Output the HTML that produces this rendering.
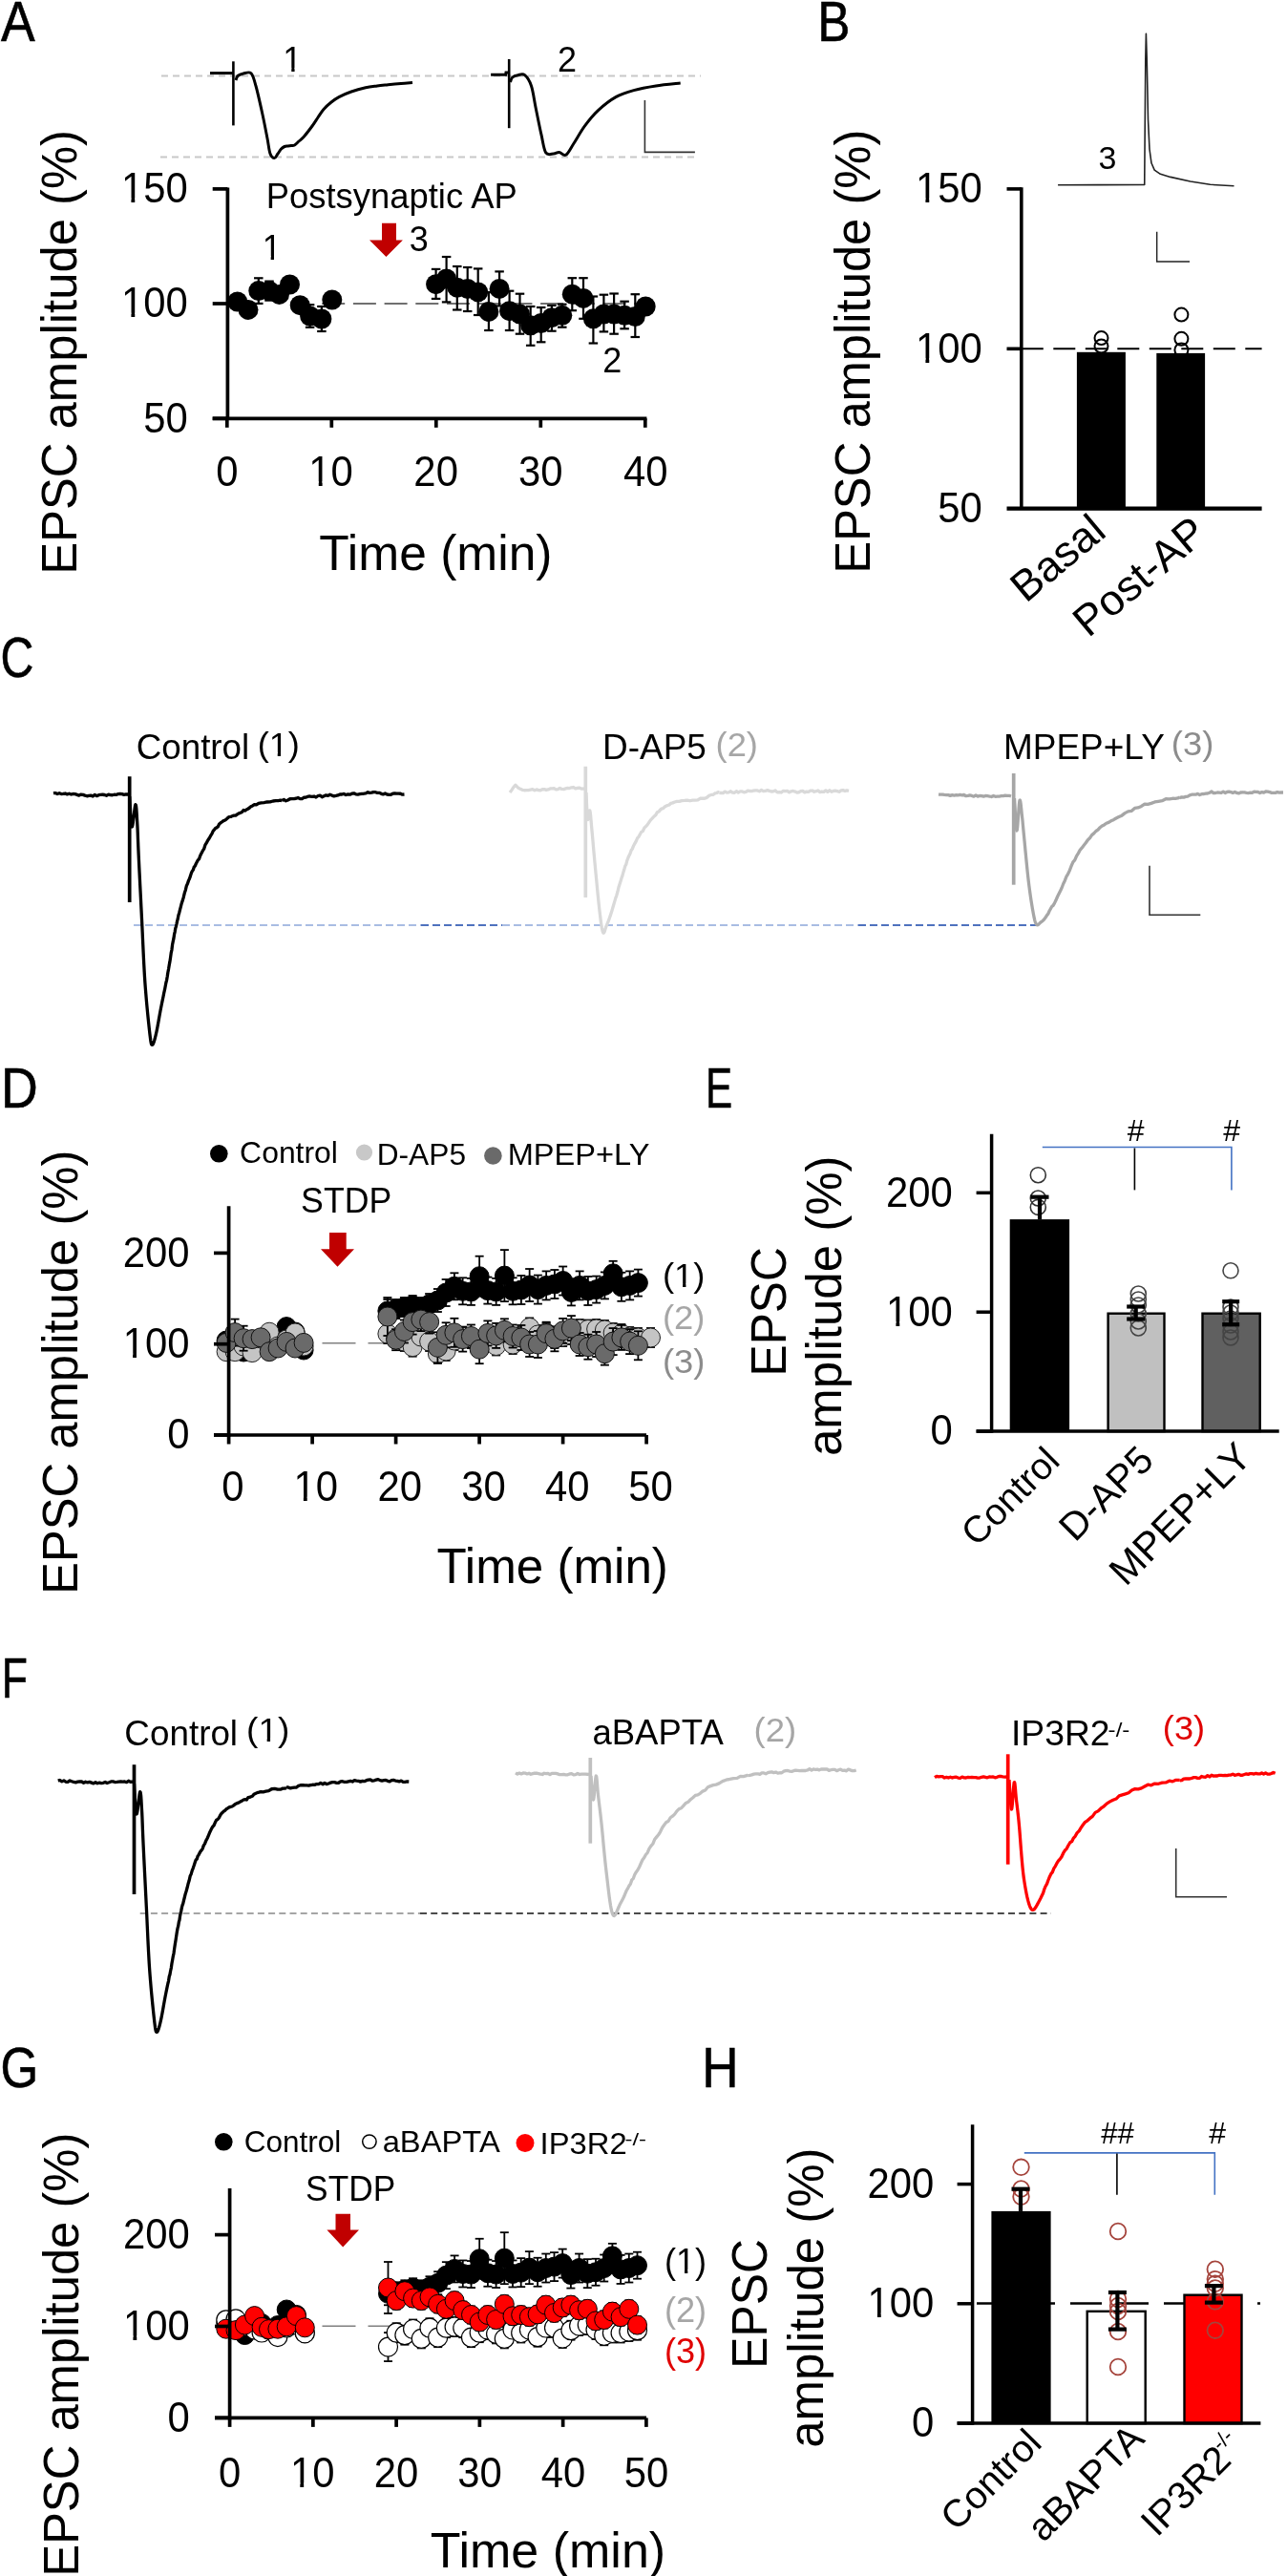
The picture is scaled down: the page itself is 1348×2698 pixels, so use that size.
<!DOCTYPE html>
<html><head><meta charset="utf-8"><style>
html,body{margin:0;padding:0;background:#fff;}
svg{display:block;will-change:transform;}
text{font-family:"Liberation Sans",sans-serif;}
</style></head><body>
<svg width="1348" height="2698" viewBox="0 0 1348 2698">
<rect width="1348" height="2698" fill="#fff"/>
<g transform="translate(1.2 42.7)"><text x="-0.27" y="0" font-size="59.7" fill="#000" textLength="35.68" lengthAdjust="spacingAndGlyphs" stroke="#000" stroke-width="0.6">A</text></g>
<line x1="169" y1="79.4" x2="734" y2="79.4" stroke="#c8c8c8" stroke-width="2" stroke-dasharray="7 5"/>
<line x1="168" y1="164.5" x2="732" y2="164.5" stroke="#c8c8c8" stroke-width="2" stroke-dasharray="7 5"/>
<path d="M220 76.6 L244.4 76.6" fill="none" stroke="#000" stroke-width="3"/>
<line x1="244.4" y1="64.3" x2="244.4" y2="131.4" stroke="#000" stroke-width="2.6"/>
<path d="M247 84 C247.33 83.25 247.67 80.67 249 79.5 C250.33 78.33 252.67 77.45 255 77 C257.33 76.55 260.83 74.63 263 76.8 C265.17 78.97 266 82.8 268 90 C270 97.2 273 110.83 275 120 C277 129.17 278.67 138.17 280 145 C281.33 151.83 281.75 157.58 283 161 C284.25 164.42 286.17 165.5 287.5 165.5 C288.83 165.5 289.83 162.58 291 161 C292.17 159.42 293.33 157.25 294.5 156 C295.67 154.75 296.83 154 298 153.5 C299.17 153 300.33 153.17 301.5 153 C302.67 152.83 303.83 152.67 305 152.5 C306.17 152.33 307.17 152.75 308.5 152 C309.83 151.25 311.42 149.42 313 148 C314.58 146.58 315.67 146.17 318 143.5 C320.33 140.83 324.5 135.42 327 132 C329.5 128.58 331 125.93 333 123 C335 120.07 336.67 117.07 339 114.4 C341.33 111.73 344.33 109.13 347 107 C349.67 104.87 351.5 103.43 355 101.6 C358.5 99.77 363.33 97.63 368 96 C372.67 94.37 378.5 92.8 383 91.8 C387.5 90.8 391.1 90.5 395 90 C398.9 89.5 402.23 89.22 406.4 88.8 C410.57 88.38 415.73 87.9 420 87.5 C424.27 87.1 430 86.58 432 86.4" fill="none" stroke="#000" stroke-width="3" stroke-linejoin="round"/>
<path d="M514.1 78.3 L529.7 78.3 L530 76 L533 76" fill="none" stroke="#000" stroke-width="3"/>
<line x1="533.2" y1="62" x2="533.2" y2="134.2" stroke="#000" stroke-width="2.6"/>
<path d="M534.5 86 C534.87 85.17 535.35 82.22 536.7 81 C538.05 79.78 540.45 79.08 542.6 78.7 C544.75 78.32 547.28 76.82 549.6 78.7 C551.92 80.58 554.57 84.25 556.5 90 C558.43 95.75 559.45 104.67 561.2 113.2 C562.95 121.73 565.25 133.42 567 141.2 C568.75 148.98 569.55 156.6 571.7 159.9 C573.85 163.2 577.57 161.08 579.9 161 C582.23 160.92 583.57 159.2 585.7 159.4 C587.83 159.6 590.18 163.68 592.7 162.2 C595.22 160.72 597.5 155.55 600.8 150.5 C604.1 145.45 608.22 137.72 612.5 131.9 C616.78 126.08 621.08 120.65 626.5 115.6 C631.92 110.55 638.78 105.1 645 101.6 C651.22 98.1 656.8 96.53 663.8 94.6 C670.8 92.67 678.85 91.25 687 90 C695.15 88.75 708.42 87.58 712.7 87.1" fill="none" stroke="#000" stroke-width="3" stroke-linejoin="round"/>
<path d="M675.4 105 V159.4 H727.9" fill="none" stroke="#333" stroke-width="1.6"/>
<g transform="translate(299 75)"><text x="-2.7" y="0" font-size="36" fill="#000">1</text><rect x="-0.9" y="-3.9" width="7.16" height="5.1" fill="#fff"/><rect x="9.58" y="-3.9" width="6.8" height="5.1" fill="#fff"/></g>
<g transform="translate(585.7 74.8)"><text x="-1.8" y="0" font-size="36" fill="#000">2</text></g>
<line x1="238.4" y1="196.6" x2="238.4" y2="439.9" stroke="#000" stroke-width="3.7"/>
<line x1="222.7" y1="197.9" x2="238.4" y2="197.9" stroke="#000" stroke-width="3.7"/>
<line x1="222.7" y1="318" x2="238.4" y2="318" stroke="#000" stroke-width="3.7"/>
<line x1="222.7" y1="438.3" x2="238.4" y2="438.3" stroke="#000" stroke-width="3.7"/>
<line x1="222.7" y1="438.3" x2="677.4" y2="438.3" stroke="#000" stroke-width="3.7"/>
<line x1="237.8" y1="438.3" x2="237.8" y2="447.8" stroke="#000" stroke-width="3.7"/>
<line x1="347.3" y1="438.3" x2="347.3" y2="447.8" stroke="#000" stroke-width="3.7"/>
<line x1="456.8" y1="438.3" x2="456.8" y2="447.8" stroke="#000" stroke-width="3.7"/>
<line x1="566.3" y1="438.3" x2="566.3" y2="447.8" stroke="#000" stroke-width="3.7"/>
<line x1="675.8" y1="438.3" x2="675.8" y2="447.8" stroke="#000" stroke-width="3.7"/>
<g transform="translate(195 212.21)"><text x="-68.01" y="0" font-size="45" fill="#000" textLength="69.83" lengthAdjust="spacingAndGlyphs">150</text><rect x="-65.91" y="-4.58" width="8.33" height="5.78" fill="#fff"/><rect x="-53.74" y="-4.58" width="7.91" height="5.78" fill="#fff"/></g>
<g transform="translate(195 332.31)"><text x="-68.01" y="0" font-size="45" fill="#000" textLength="69.83" lengthAdjust="spacingAndGlyphs">100</text><rect x="-65.91" y="-4.58" width="8.33" height="5.78" fill="#fff"/><rect x="-53.74" y="-4.58" width="7.91" height="5.78" fill="#fff"/></g>
<g transform="translate(195 452.61)"><text x="-44.78" y="0" font-size="45" fill="#000" textLength="46.55" lengthAdjust="spacingAndGlyphs">50</text></g>
<g transform="translate(237.8 508.7)"><text x="-11.61" y="0" font-size="45" fill="#000" textLength="23.28" lengthAdjust="spacingAndGlyphs">0</text></g>
<g transform="translate(347.3 508.7)"><text x="-23.96" y="0" font-size="45" fill="#000" textLength="46.55" lengthAdjust="spacingAndGlyphs">10</text><rect x="-21.87" y="-4.58" width="8.33" height="5.78" fill="#fff"/><rect x="-9.69" y="-4.58" width="7.91" height="5.78" fill="#fff"/></g>
<g transform="translate(456.8 508.7)"><text x="-23.44" y="0" font-size="45" fill="#000" textLength="46.55" lengthAdjust="spacingAndGlyphs">20</text></g>
<g transform="translate(566.3 508.7)"><text x="-23.23" y="0" font-size="45" fill="#000" textLength="46.55" lengthAdjust="spacingAndGlyphs">30</text></g>
<g transform="translate(675.8 508.7)"><text x="-22.91" y="0" font-size="45" fill="#000" textLength="46.55" lengthAdjust="spacingAndGlyphs">40</text></g>
<g transform="translate(335.6 596.7)"><text x="-1.29" y="0" font-size="51.5" fill="#000">Time (min)</text></g>
<g transform="translate(80.4 597.8) rotate(-90)"><text x="-4.06" y="0" font-size="52" fill="#000" textLength="465.88" lengthAdjust="spacingAndGlyphs">EPSC amplitude (%)</text></g>
<g transform="translate(281.7 217.8)"><text x="-2.91" y="0" font-size="37" fill="#000" textLength="262.98" lengthAdjust="spacingAndGlyphs">Postsynaptic AP</text></g>
<g transform="translate(277.4 272)"><text x="-2.7" y="0" font-size="36" fill="#000">1</text><rect x="-0.9" y="-3.9" width="7.16" height="5.1" fill="#fff"/><rect x="9.58" y="-3.9" width="6.8" height="5.1" fill="#fff"/></g>
<g transform="translate(430.3 262.7)"><text x="-1.44" y="0" font-size="36" fill="#000">3</text></g>
<g transform="translate(633 389.8)"><text x="-1.8" y="0" font-size="36" fill="#000">2</text></g>
<path d="M400 233.8 L415 233.8 L415 251.4 L421.9 251.4 L404.45 269 L387 251.4 L400 251.4Z" fill="#c00000"/>
<line x1="337.2" y1="318" x2="677" y2="318" stroke="#707070" stroke-width="1.8" stroke-dasharray="24 8.7"/>
<line x1="270.8" y1="291.3" x2="270.8" y2="304.6" stroke="#000" stroke-width="2.2"/><line x1="266.05" y1="291.3" x2="275.55" y2="291.3" stroke="#000" stroke-width="2.2"/><line x1="270.8" y1="304.6" x2="270.8" y2="317.9" stroke="#000" stroke-width="2.2"/><line x1="266.05" y1="317.9" x2="275.55" y2="317.9" stroke="#000" stroke-width="2.2"/>
<line x1="282" y1="294.6" x2="282" y2="304.6" stroke="#000" stroke-width="2.2"/><line x1="277.25" y1="294.6" x2="286.75" y2="294.6" stroke="#000" stroke-width="2.2"/><line x1="282" y1="304.6" x2="282" y2="314.6" stroke="#000" stroke-width="2.2"/><line x1="277.25" y1="314.6" x2="286.75" y2="314.6" stroke="#000" stroke-width="2.2"/>
<line x1="324.6" y1="319.2" x2="324.6" y2="331" stroke="#000" stroke-width="2.2"/><line x1="319.85" y1="319.2" x2="329.35" y2="319.2" stroke="#000" stroke-width="2.2"/><line x1="324.6" y1="331" x2="324.6" y2="342.8" stroke="#000" stroke-width="2.2"/><line x1="319.85" y1="342.8" x2="329.35" y2="342.8" stroke="#000" stroke-width="2.2"/>
<line x1="336.9" y1="321" x2="336.9" y2="334" stroke="#000" stroke-width="2.2"/><line x1="332.15" y1="321" x2="341.65" y2="321" stroke="#000" stroke-width="2.2"/><line x1="336.9" y1="334" x2="336.9" y2="347" stroke="#000" stroke-width="2.2"/><line x1="332.15" y1="347" x2="341.65" y2="347" stroke="#000" stroke-width="2.2"/>
<line x1="456.6" y1="281.9" x2="456.6" y2="297.7" stroke="#000" stroke-width="2.2"/><line x1="451.85" y1="281.9" x2="461.35" y2="281.9" stroke="#000" stroke-width="2.2"/><line x1="456.6" y1="297.7" x2="456.6" y2="312.9" stroke="#000" stroke-width="2.2"/><line x1="451.85" y1="312.9" x2="461.35" y2="312.9" stroke="#000" stroke-width="2.2"/>
<line x1="467.6" y1="269" x2="467.6" y2="291.9" stroke="#000" stroke-width="2.2"/><line x1="462.85" y1="269" x2="472.35" y2="269" stroke="#000" stroke-width="2.2"/><line x1="467.6" y1="291.9" x2="467.6" y2="316.4" stroke="#000" stroke-width="2.2"/><line x1="462.85" y1="316.4" x2="472.35" y2="316.4" stroke="#000" stroke-width="2.2"/>
<line x1="478.8" y1="279" x2="478.8" y2="301.2" stroke="#000" stroke-width="2.2"/><line x1="474.05" y1="279" x2="483.55" y2="279" stroke="#000" stroke-width="2.2"/><line x1="478.8" y1="301.2" x2="478.8" y2="324.5" stroke="#000" stroke-width="2.2"/><line x1="474.05" y1="324.5" x2="483.55" y2="324.5" stroke="#000" stroke-width="2.2"/>
<line x1="489.7" y1="280" x2="489.7" y2="302.4" stroke="#000" stroke-width="2.2"/><line x1="484.95" y1="280" x2="494.45" y2="280" stroke="#000" stroke-width="2.2"/><line x1="489.7" y1="302.4" x2="489.7" y2="326" stroke="#000" stroke-width="2.2"/><line x1="484.95" y1="326" x2="494.45" y2="326" stroke="#000" stroke-width="2.2"/>
<line x1="500.7" y1="281.4" x2="500.7" y2="305.9" stroke="#000" stroke-width="2.2"/><line x1="495.95" y1="281.4" x2="505.45" y2="281.4" stroke="#000" stroke-width="2.2"/><line x1="500.7" y1="305.9" x2="500.7" y2="330" stroke="#000" stroke-width="2.2"/><line x1="495.95" y1="330" x2="505.45" y2="330" stroke="#000" stroke-width="2.2"/>
<line x1="511.9" y1="306" x2="511.9" y2="326.4" stroke="#000" stroke-width="2.2"/><line x1="507.15" y1="306" x2="516.65" y2="306" stroke="#000" stroke-width="2.2"/><line x1="511.9" y1="326.4" x2="511.9" y2="346" stroke="#000" stroke-width="2.2"/><line x1="507.15" y1="346" x2="516.65" y2="346" stroke="#000" stroke-width="2.2"/>
<line x1="523.1" y1="284.4" x2="523.1" y2="302.4" stroke="#000" stroke-width="2.2"/><line x1="518.35" y1="284.4" x2="527.85" y2="284.4" stroke="#000" stroke-width="2.2"/><line x1="523.1" y1="302.4" x2="523.1" y2="320.4" stroke="#000" stroke-width="2.2"/><line x1="518.35" y1="320.4" x2="527.85" y2="320.4" stroke="#000" stroke-width="2.2"/>
<line x1="533.6" y1="304.7" x2="533.6" y2="325.7" stroke="#000" stroke-width="2.2"/><line x1="528.85" y1="304.7" x2="538.35" y2="304.7" stroke="#000" stroke-width="2.2"/><line x1="533.6" y1="325.7" x2="533.6" y2="346" stroke="#000" stroke-width="2.2"/><line x1="528.85" y1="346" x2="538.35" y2="346" stroke="#000" stroke-width="2.2"/>
<line x1="544.5" y1="307.7" x2="544.5" y2="329" stroke="#000" stroke-width="2.2"/><line x1="539.75" y1="307.7" x2="549.25" y2="307.7" stroke="#000" stroke-width="2.2"/><line x1="544.5" y1="329" x2="544.5" y2="349.7" stroke="#000" stroke-width="2.2"/><line x1="539.75" y1="349.7" x2="549.25" y2="349.7" stroke="#000" stroke-width="2.2"/>
<line x1="555.7" y1="321" x2="555.7" y2="340.8" stroke="#000" stroke-width="2.2"/><line x1="550.95" y1="321" x2="560.45" y2="321" stroke="#000" stroke-width="2.2"/><line x1="555.7" y1="340.8" x2="555.7" y2="361.8" stroke="#000" stroke-width="2.2"/><line x1="550.95" y1="361.8" x2="560.45" y2="361.8" stroke="#000" stroke-width="2.2"/>
<line x1="566.7" y1="322" x2="566.7" y2="338.5" stroke="#000" stroke-width="2.2"/><line x1="561.95" y1="322" x2="571.45" y2="322" stroke="#000" stroke-width="2.2"/><line x1="566.7" y1="338.5" x2="566.7" y2="358.3" stroke="#000" stroke-width="2.2"/><line x1="561.95" y1="358.3" x2="571.45" y2="358.3" stroke="#000" stroke-width="2.2"/>
<line x1="577.9" y1="319.9" x2="577.9" y2="332.7" stroke="#000" stroke-width="2.2"/><line x1="573.15" y1="319.9" x2="582.65" y2="319.9" stroke="#000" stroke-width="2.2"/><line x1="577.9" y1="332.7" x2="577.9" y2="346.7" stroke="#000" stroke-width="2.2"/><line x1="573.15" y1="346.7" x2="582.65" y2="346.7" stroke="#000" stroke-width="2.2"/>
<line x1="588.8" y1="318.7" x2="588.8" y2="330.3" stroke="#000" stroke-width="2.2"/><line x1="584.05" y1="318.7" x2="593.55" y2="318.7" stroke="#000" stroke-width="2.2"/><line x1="588.8" y1="330.3" x2="588.8" y2="342.7" stroke="#000" stroke-width="2.2"/><line x1="584.05" y1="342.7" x2="593.55" y2="342.7" stroke="#000" stroke-width="2.2"/>
<line x1="599.3" y1="291.2" x2="599.3" y2="308.2" stroke="#000" stroke-width="2.2"/><line x1="594.55" y1="291.2" x2="604.05" y2="291.2" stroke="#000" stroke-width="2.2"/><line x1="599.3" y1="308.2" x2="599.3" y2="325.2" stroke="#000" stroke-width="2.2"/><line x1="594.55" y1="325.2" x2="604.05" y2="325.2" stroke="#000" stroke-width="2.2"/>
<line x1="611" y1="291.2" x2="611" y2="312.4" stroke="#000" stroke-width="2.2"/><line x1="606.25" y1="291.2" x2="615.75" y2="291.2" stroke="#000" stroke-width="2.2"/><line x1="611" y1="312.4" x2="611" y2="333.8" stroke="#000" stroke-width="2.2"/><line x1="606.25" y1="333.8" x2="615.75" y2="333.8" stroke="#000" stroke-width="2.2"/>
<line x1="621.4" y1="310.5" x2="621.4" y2="333.8" stroke="#000" stroke-width="2.2"/><line x1="616.65" y1="310.5" x2="626.15" y2="310.5" stroke="#000" stroke-width="2.2"/><line x1="621.4" y1="333.8" x2="621.4" y2="359.5" stroke="#000" stroke-width="2.2"/><line x1="616.65" y1="359.5" x2="626.15" y2="359.5" stroke="#000" stroke-width="2.2"/>
<line x1="632.4" y1="308.7" x2="632.4" y2="329" stroke="#000" stroke-width="2.2"/><line x1="627.65" y1="308.7" x2="637.15" y2="308.7" stroke="#000" stroke-width="2.2"/><line x1="632.4" y1="329" x2="632.4" y2="347.4" stroke="#000" stroke-width="2.2"/><line x1="627.65" y1="347.4" x2="637.15" y2="347.4" stroke="#000" stroke-width="2.2"/>
<line x1="643.1" y1="307.5" x2="643.1" y2="329" stroke="#000" stroke-width="2.2"/><line x1="638.35" y1="307.5" x2="647.85" y2="307.5" stroke="#000" stroke-width="2.2"/><line x1="643.1" y1="329" x2="643.1" y2="349.7" stroke="#000" stroke-width="2.2"/><line x1="638.35" y1="349.7" x2="647.85" y2="349.7" stroke="#000" stroke-width="2.2"/>
<line x1="654.1" y1="315.7" x2="654.1" y2="330.3" stroke="#000" stroke-width="2.2"/><line x1="649.35" y1="315.7" x2="658.85" y2="315.7" stroke="#000" stroke-width="2.2"/><line x1="654.1" y1="330.3" x2="654.1" y2="344.3" stroke="#000" stroke-width="2.2"/><line x1="649.35" y1="344.3" x2="658.85" y2="344.3" stroke="#000" stroke-width="2.2"/>
<line x1="665.3" y1="308.2" x2="665.3" y2="331.5" stroke="#000" stroke-width="2.2"/><line x1="660.55" y1="308.2" x2="670.05" y2="308.2" stroke="#000" stroke-width="2.2"/><line x1="665.3" y1="331.5" x2="665.3" y2="353" stroke="#000" stroke-width="2.2"/><line x1="660.55" y1="353" x2="670.05" y2="353" stroke="#000" stroke-width="2.2"/>

<circle cx="248.7" cy="316" r="10.5" fill="#000"/>
<circle cx="260" cy="324.4" r="10.5" fill="#000"/>
<circle cx="270.8" cy="304.6" r="10.5" fill="#000"/>
<circle cx="282" cy="304.6" r="10.5" fill="#000"/>
<circle cx="292.5" cy="308.4" r="10.5" fill="#000"/>
<circle cx="303.5" cy="298" r="10.5" fill="#000"/>
<circle cx="314.2" cy="319.7" r="10.5" fill="#000"/>
<circle cx="324.6" cy="331" r="10.5" fill="#000"/>
<circle cx="336.9" cy="334" r="10.5" fill="#000"/>
<circle cx="347.8" cy="314" r="10.5" fill="#000"/>
<circle cx="456.6" cy="297.7" r="10.5" fill="#000"/>
<circle cx="467.6" cy="291.9" r="10.5" fill="#000"/>
<circle cx="478.8" cy="301.2" r="10.5" fill="#000"/>
<circle cx="489.7" cy="302.4" r="10.5" fill="#000"/>
<circle cx="500.7" cy="305.9" r="10.5" fill="#000"/>
<circle cx="511.9" cy="326.4" r="10.5" fill="#000"/>
<circle cx="523.1" cy="302.4" r="10.5" fill="#000"/>
<circle cx="533.6" cy="325.7" r="10.5" fill="#000"/>
<circle cx="544.5" cy="329" r="10.5" fill="#000"/>
<circle cx="555.7" cy="340.8" r="10.5" fill="#000"/>
<circle cx="566.7" cy="338.5" r="10.5" fill="#000"/>
<circle cx="577.9" cy="332.7" r="10.5" fill="#000"/>
<circle cx="588.8" cy="330.3" r="10.5" fill="#000"/>
<circle cx="599.3" cy="308.2" r="10.5" fill="#000"/>
<circle cx="611" cy="312.4" r="10.5" fill="#000"/>
<circle cx="621.4" cy="333.8" r="10.5" fill="#000"/>
<circle cx="632.4" cy="329" r="10.5" fill="#000"/>
<circle cx="643.1" cy="329" r="10.5" fill="#000"/>
<circle cx="654.1" cy="330.3" r="10.5" fill="#000"/>
<circle cx="665.3" cy="331.5" r="10.5" fill="#000"/>
<circle cx="676.2" cy="321" r="10.5" fill="#000"/>
<g transform="translate(860.4 42.7)"><text x="-4.1" y="0" font-size="59.7" fill="#000" textLength="34.16" lengthAdjust="spacingAndGlyphs" stroke="#000" stroke-width="0.6">B</text></g>
<path d="M1108.1 193.75 L1150 193.6 L1198.75 193.5 L1199.8 62.5 L1200.4 35.4 L1201.25 62.5 L1202.5 125 L1204 156.25 L1206 170.8 L1209.2 178.1 L1215.4 182.3 L1225.8 185.4 L1246.7 190 L1267.5 193.3 L1292.5 194.8" fill="none" stroke="#222" stroke-width="1.6" stroke-linejoin="round"/>
<g transform="translate(1151.9 177)"><text x="-1.36" y="0" font-size="34" fill="#000">3</text></g>
<path d="M1211.7 242.7 V274 H1246" fill="none" stroke="#222" stroke-width="1.4"/>
<rect x="1127.9" y="368.8" width="51" height="163.6" fill="#000"/>
<rect x="1211.3" y="369.9" width="50.8" height="162.5" fill="#000"/>
<line x1="1069.8" y1="365.3" x2="1321.6" y2="365.3" stroke="#000" stroke-width="2" stroke-dasharray="23 10.5" stroke-dashoffset="0"/>
<circle cx="1153.5" cy="354.1" r="7" fill="none" stroke="#000" stroke-width="2"/>
<circle cx="1153.5" cy="362.5" r="7" fill="none" stroke="#000" stroke-width="2"/>
<circle cx="1237.4" cy="329.6" r="7" fill="none" stroke="#000" stroke-width="2"/>
<circle cx="1237.4" cy="354.8" r="7" fill="none" stroke="#000" stroke-width="2"/>
<circle cx="1237.4" cy="366.4" r="7" fill="none" stroke="#000" stroke-width="2"/>
<line x1="1069.8" y1="196.2" x2="1069.8" y2="534" stroke="#000" stroke-width="3.6"/>
<line x1="1054.5" y1="197.9" x2="1069.8" y2="197.9" stroke="#000" stroke-width="3.6"/>
<line x1="1054.5" y1="365.3" x2="1069.8" y2="365.3" stroke="#000" stroke-width="3.6"/>
<line x1="1054.5" y1="532.6" x2="1321.6" y2="532.6" stroke="#000" stroke-width="4.2"/>
<g transform="translate(1027 212.21)"><text x="-68.01" y="0" font-size="45" fill="#000" textLength="69.83" lengthAdjust="spacingAndGlyphs">150</text><rect x="-65.91" y="-4.58" width="8.33" height="5.78" fill="#fff"/><rect x="-53.74" y="-4.58" width="7.91" height="5.78" fill="#fff"/></g>
<g transform="translate(1027 379.61)"><text x="-68.01" y="0" font-size="45" fill="#000" textLength="69.83" lengthAdjust="spacingAndGlyphs">100</text><rect x="-65.91" y="-4.58" width="8.33" height="5.78" fill="#fff"/><rect x="-53.74" y="-4.58" width="7.91" height="5.78" fill="#fff"/></g>
<g transform="translate(1027 546.71)"><text x="-44.78" y="0" font-size="45" fill="#000" textLength="46.55" lengthAdjust="spacingAndGlyphs">50</text></g>
<g transform="translate(911.2 596.8) rotate(-90)"><text x="-4.06" y="0" font-size="52" fill="#000" textLength="465.17" lengthAdjust="spacingAndGlyphs">EPSC amplitude (%)</text></g>
<g transform="translate(1077.2 630) rotate(-40)"><text x="-3.6" y="0" font-size="45" fill="#000">Basal</text></g>
<g transform="translate(1142.8 666.1) rotate(-40)"><text x="-3.6" y="0" font-size="45" fill="#000">Post-AP</text></g>
<g transform="translate(3 708.8)"><text x="-2.41" y="0" font-size="59.7" fill="#000" textLength="34.85" lengthAdjust="spacingAndGlyphs" stroke="#000" stroke-width="0.6">C</text></g>
<g transform="translate(144.5 795)"><text x="-1.84" y="0" font-size="36.5" fill="#000" textLength="118.57" lengthAdjust="spacingAndGlyphs">Control</text></g>
<g transform="translate(271.8 791.6)"><text x="-2.18" y="0" font-size="34.5" fill="#000" textLength="44.33" lengthAdjust="spacingAndGlyphs">(1)</text><rect x="11.72" y="-3.79" width="7.22" height="4.99" fill="#fff"/><rect x="22.27" y="-3.79" width="6.86" height="4.99" fill="#fff"/></g>
<g transform="translate(634 795)"><text x="-2.95" y="0" font-size="36.5" fill="#000" textLength="108.75" lengthAdjust="spacingAndGlyphs">D-AP5</text></g>
<g transform="translate(751.7 792.4)"><text x="-2.18" y="0" font-size="34.5" fill="#a6a6a6" textLength="44.45" lengthAdjust="spacingAndGlyphs">(2)</text></g>
<g transform="translate(1054 795)"><text x="-2.96" y="0" font-size="36.5" fill="#000" textLength="168.77" lengthAdjust="spacingAndGlyphs">MPEP+LY</text></g>
<g transform="translate(1229 790.7)"><text x="-2.18" y="0" font-size="34.5" fill="#8c8c8c" textLength="44.45" lengthAdjust="spacingAndGlyphs">(3)</text></g>
<line x1="140" y1="969" x2="441" y2="969" stroke="#a9bce3" stroke-width="1.8" stroke-dasharray="8 4"/>
<line x1="441" y1="969" x2="526" y2="969" stroke="#4f72be" stroke-width="1.8" stroke-dasharray="8 4"/>
<line x1="526" y1="969" x2="899" y2="969" stroke="#a9bce3" stroke-width="1.8" stroke-dasharray="8 4"/>
<line x1="899" y1="969" x2="1087" y2="969" stroke="#4f72be" stroke-width="1.8" stroke-dasharray="8 4"/>
<path d="M55.9 830.72 L57.97 830.56 L60.04 831.48 L62.11 830.68 L64.17 831.54 L66.24 831.39 L68.31 831.02 L70.38 831.86 L72.45 831.23 L74.52 831.98 L76.58 831.52 L78.65 831.68 L80.72 832.33 L82.79 833.1 L84.86 832.09 L86.93 832.37 L88.99 833.14 L91.06 833.77 L93.13 833.3 L95.2 833.13 L97.24 833.99 L99.28 832.43 L101.32 833.66 L103.36 832.67 L105.39 832.37 L107.43 832.26 L109.47 832.49 L111.51 833.23 L113.55 832.14 L115.59 832.71 L117.63 832.73 L119.67 832.23 L121.71 832.44 L123.74 831.59 L125.78 831.51 L127.82 831.67 L129.86 832.36 L131.9 831.88 L134.2 832" fill="none" stroke="#000" stroke-width="3.3" stroke-linejoin="round"/><line x1="135.7" y1="813.3" x2="135.7" y2="945" stroke="#000" stroke-width="3.7"/><path d="M135.7 834 L135.84 836.15 L136.02 839.24 L136.23 842.99 L136.46 847.15 L136.72 851.46 L136.99 855.65 L137.28 859.46 L137.58 862.63 L137.89 864.9 L138.2 866 L138.53 865.72 L138.89 864.21 L139.28 861.76 L139.68 858.66 L140.09 855.21 L140.5 851.68 L140.89 848.37 L141.26 845.58 L141.6 843.59 L141.9 842.7 L142.16 842.77 L142.39 843.43 L142.59 844.61 L142.77 846.22 L142.94 848.21 L143.09 850.48 L143.24 852.97 L143.39 855.61 L143.54 858.31 L143.7 861 L143.85 863.68 L143.99 866.42 L144.12 869.27 L144.24 872.28 L144.36 875.48 L144.48 878.92 L144.63 882.64 L144.79 886.7 L144.98 891.14 L145.2 896 L145.46 901.39 L145.74 907.31 L146.05 913.68 L146.39 920.4 L146.73 927.38 L147.09 934.51 L147.45 941.7 L147.8 948.86 L148.16 955.89 L148.5 962.7 L148.83 969.42 L149.15 976.24 L149.46 983.1 L149.78 989.98 L150.09 996.83 L150.42 1003.62 L150.76 1010.29 L151.12 1016.83 L151.49 1023.18 L151.9 1029.3 L152.35 1035.36 L152.84 1041.49 L153.36 1047.61 L153.9 1053.62 L154.45 1059.44 L155 1064.98 L155.53 1070.17 L156.03 1074.91 L156.49 1079.11 L156.9 1082.7 L157.25 1085.66 L157.55 1088.07 L157.81 1089.98 L158.05 1091.46 L158.26 1092.56 L158.47 1093.34 L158.69 1093.84 L158.93 1094.13 L159.19 1094.27 L159.5 1094.3 L159.84 1094.15 L160.19 1093.71 L160.57 1093 L160.95 1092.06 L161.35 1090.89 L161.76 1089.54 L162.18 1088.02 L162.61 1086.36 L163.05 1084.58 L163.5 1082.7 L163.95 1080.67 L164.41 1078.43 L164.87 1076.01 L165.35 1073.42 L165.83 1070.71 L166.33 1067.88 L166.84 1064.97 L167.38 1062 L167.93 1059.01 L168.5 1056 L169.1 1052.97 L169.73 1049.87 L170.39 1046.71 L171.06 1043.48 L171.74 1039.85 L172.44 1036.97 L173.14 1033.31 L173.83 1029.53 L174.52 1026.86 L175.2 1023.06 L175.87 1018.47 L176.54 1015.1 L177.21 1010.92 L177.88 1007.38 L178.56 1002.91 L179.23 997.92 L179.9 995.04 L180.57 989.48 L181.23 986.18 L181.9 983.16 L182.55 978.68 L183.17 976.09 L183.78 972.24 L184.38 970.45 L184.99 967.76 L185.62 964.6 L186.27 962.31 L186.96 958.42 L187.7 956.14 L188.5 952.87 L189.36 949.58 L190.28 945.94 L191.25 943.12 L192.26 939.74 L193.29 935.33 L194.34 932.15 L195.39 927.65 L196.45 925.54 L197.48 922.38 L198.5 920.19 L199.48 917.37 L200.45 914.16 L201.39 912.32 L202.34 910.96 L203.29 908.02 L204.26 907.06 L205.25 904.77 L206.28 902.82 L207.36 900.71 L208.5 899.78 L209.7 896.18 L210.96 893.74 L212.27 891.19 L213.62 889.17 L214.99 884.83 L216.38 882.61 L217.78 880.01 L219.17 877.97 L220.55 875.43 L221.9 873.36 L223.22 870.4 L224.51 868.94 L225.79 867.29 L227.06 866.84 L228.34 865.68 L229.64 863.03 L230.96 861.95 L232.32 860.96 L233.73 859.89 L235.2 859.27 L236.73 858.42 L238.32 856.89 L239.96 855.54 L241.64 855.47 L243.34 854.6 L245.06 854.19 L246.79 854.14 L248.51 852.92 L250.22 851.83 L251.9 851.21 L253.52 850.47 L255.06 848.47 L256.57 849.09 L258.06 847.98 L259.57 847.26 L261.14 846.25 L262.78 844.68 L264.54 843.9 L266.43 842.64 L268.5 842.94 L270.88 841.32 L273.62 840.78 L276.61 840.53 L279.73 839.99 L282.89 839.89 L285.96 839 L288.83 838.57 L291.41 838.55 L293.57 838.2 L295.2 838.7" fill="none" stroke="#000" stroke-width="3.3" stroke-linejoin="round"/><path d="M295.2 838.43 L297.32 837.44 L299.44 838.83 L301.55 838 L303.67 836.76 L305.79 836.66 L307.91 836.54 L310.03 836.26 L312.15 835.47 L314.26 836.62 L316.38 836.6 L318.5 835.23 L320.59 835.11 L322.68 834.15 L324.76 834.02 L326.85 834.34 L328.94 834.02 L331.02 834.98 L333.11 833.49 L335.2 833.05 L337.29 834.74 L339.38 833.73 L341.46 832.81 L343.55 833.44 L345.64 832.24 L347.72 833.08 L349.81 833.82 L351.9 833.43 L353.98 832.94 L356.06 831.92 L358.14 831.98 L360.22 831.43 L362.31 832.49 L364.39 831.87 L366.47 832.21 L368.55 831.16 L370.63 830.8 L372.71 831.82 L374.79 832.02 L376.88 831.61 L378.96 831.36 L381.04 831.24 L383.12 830.93 L385.2 829.75 L387.22 830.42 L389.23 830.19 L391.25 829.63 L393.26 829.71 L395.28 830.31 L397.29 830.36 L399.31 831.31 L401.33 831.93 L403.34 831 L405.36 832.07 L407.37 832.26 L409.39 832.28 L411.41 831.19 L413.42 830.99 L415.44 831.1 L417.45 831.12 L419.47 831.23 L421.48 832.16 L423.5 832" fill="none" stroke="#000" stroke-width="3.3" stroke-linejoin="round"/>
<path d="M534 829.94 L536 827.41 L538 824.4 L540 822.24 L542.5 824.98 L545 826.34 L547.14 827.3 L549.29 827.74 L551.43 827.58 L553.57 827.57 L555.71 827.18 L557.86 826.74 L560 827.76 L562.03 826.93 L564.06 827.58 L566.09 827.75 L568.12 826.73 L570.15 826.64 L572.18 827.41 L574.21 826.96 L576.24 825.97 L578.27 825.8 L580.3 825.74 L582.33 826.85 L584.37 826.59 L586.4 825.43 L588.43 826.42 L590.46 826.57 L592.49 825.95 L594.52 825.36 L596.55 825.58 L598.58 824.81 L600.61 824.52 L602.64 825.95 L604.67 825.34 L606.7 825.04 L609.35 826.19 L612 826" fill="none" stroke="#d9d9d9" stroke-width="3.3" stroke-linejoin="round"/><line x1="613.3" y1="802.7" x2="613.3" y2="940" stroke="#d9d9d9" stroke-width="3.7"/><path d="M614 830 L614.09 831.83 L614.19 834.4 L614.31 837.51 L614.45 840.96 L614.61 844.56 L614.77 848.12 L614.94 851.44 L615.12 854.32 L615.31 856.57 L615.5 858 L615.7 858.46 L615.91 858.09 L616.13 857.07 L616.37 855.62 L616.61 853.94 L616.85 852.22 L617.09 850.66 L617.33 849.47 L617.57 848.85 L617.8 849 L618.02 849.81 L618.23 851.03 L618.43 852.6 L618.63 854.49 L618.84 856.64 L619.05 859.03 L619.26 861.6 L619.49 864.32 L619.74 867.13 L620 870 L620.28 872.97 L620.56 876.12 L620.86 879.44 L621.16 882.91 L621.48 886.54 L621.8 890.31 L622.15 894.22 L622.51 898.26 L622.9 902.42 L623.3 906.7 L623.74 911.3 L624.22 916.33 L624.73 921.67 L625.25 927.18 L625.79 932.74 L626.33 938.22 L626.86 943.49 L627.38 948.41 L627.86 952.86 L628.3 956.7 L628.71 960.04 L629.08 963.05 L629.44 965.75 L629.78 968.14 L630.11 970.24 L630.42 972.06 L630.74 973.61 L631.05 974.89 L631.37 975.92 L631.7 976.7 L632.03 977.14 L632.34 977.17 L632.64 976.86 L632.95 976.26 L633.25 975.43 L633.56 974.44 L633.89 973.34 L634.23 972.19 L634.6 971.06 L635 970 L635.41 969.03 L635.81 968.08 L636.22 967.13 L636.64 966.12 L637.08 965.02 L637.56 963.78 L638.08 962.38 L638.65 960.75 L639.29 958.87 L640 956.7 L640.8 954.16 L641.68 951.25 L642.63 948.05 L643.64 944.62 L644.69 940.92 L645.76 938.05 L646.84 934.29 L647.92 929.56 L648.98 926.15 L650 922.93 L650.99 919.67 L651.95 917.13 L652.9 913.41 L653.84 910.59 L654.79 907 L655.76 905.39 L656.76 901.44 L657.79 898.74 L658.87 896.16 L660 894.03 L661.18 890.54 L662.39 888.91 L663.64 885.72 L664.92 883.4 L666.23 881.07 L667.58 877.89 L668.96 876.43 L670.37 873.77 L671.82 871.27 L673.3 870.54 L674.83 867.23 L676.42 865.58 L678.06 863.85 L679.74 861.38 L681.44 858.86 L683.16 857.15 L684.88 855.26 L686.61 853.82 L688.31 850.87 L690 850.11 L691.63 848.11 L693.18 846.85 L694.7 846.54 L696.2 844.97 L697.73 844.07 L699.31 843.51 L700.96 842.94 L702.73 841.31 L704.63 840.89 L706.7 840.01 L708.99 839.44 L711.49 839.31 L714.16 838.54 L716.94 838.42 L719.79 838.1 L722.66 838.74 L725.49 838.09 L728.24 838.15 L730.86 837.93 L733.3 836.27 L735.66 836.24 L738.04 836.27 L740.42 835.34 L742.74 833.29 L744.96 832.46 L747.06 832.26 L748.98 830.86 L750.69 830.5 L752.14 829.65 L753.3 830" fill="none" stroke="#d9d9d9" stroke-width="3.3" stroke-linejoin="round"/><path d="M753.3 830.34 L755.3 830.48 L757.3 830.62 L759.3 829.05 L761.3 830.09 L763.3 829.9 L765.3 828.78 L767.3 830.17 L769.3 830.26 L771.3 828.67 L773.3 830.06 L775.3 828.86 L777.3 828.95 L779.3 829.87 L781.3 829.47 L783.3 828.05 L785.3 828.5 L787.3 828.59 L789.3 828.15 L791.3 827.78 L793.3 827.94 L795.39 828.81 L797.47 827.46 L799.56 828.6 L801.65 828.43 L803.74 827.65 L805.83 828.34 L807.91 828.99 L810 828.82 L812.09 827.99 L814.17 829.9 L816.26 829.56 L818.35 829.99 L820.44 828.32 L822.53 828.71 L824.61 828.32 L826.7 829.86 L828.71 828.81 L830.72 828.49 L832.73 829.05 L834.74 829.99 L836.75 829.78 L838.76 828.62 L840.77 828.37 L842.78 829.88 L844.79 829.15 L846.8 829.38 L848.81 828.12 L850.82 828.03 L852.83 829.26 L854.84 828.7 L856.85 827.96 L858.85 829.66 L860.86 829.02 L862.87 829.32 L864.88 827.85 L866.89 829.37 L868.9 827.76 L870.91 829.32 L872.92 828.47 L874.93 828.2 L876.94 828.6 L878.95 829.31 L880.96 827.96 L882.97 827.66 L884.98 828.42 L886.99 827.81 L889 828.3" fill="none" stroke="#d9d9d9" stroke-width="3.3" stroke-linejoin="round"/>
<path d="M983 832.08 L985.06 832.2 L987.11 832.07 L989.17 832.36 L991.22 832.58 L993.28 832.61 L995.33 833.38 L997.39 832.68 L999.44 833.06 L1001.5 832.58 L1003.56 832.9 L1005.61 832.42 L1007.67 832.83 L1009.72 832.5 L1011.78 833.7 L1013.83 833.45 L1015.89 832.91 L1017.94 833.42 L1020 834.2 L1022.05 832.9 L1024.11 834.06 L1026.16 833.47 L1028.21 833.6 L1030.26 834.17 L1032.32 833.49 L1034.37 833.69 L1036.42 834.01 L1038.47 834.51 L1040.53 833.51 L1042.58 834.32 L1044.63 834.15 L1046.68 834.06 L1048.74 833.72 L1050.79 833.65 L1052.84 833.21 L1054.89 833.36 L1056.95 833.29 L1059 834" fill="none" stroke="#a6a6a6" stroke-width="3.3" stroke-linejoin="round"/><line x1="1061.7" y1="810" x2="1061.7" y2="926.7" stroke="#a6a6a6" stroke-width="3.7"/><path d="M1062.5 836 L1062.65 838.32 L1062.83 841.68 L1063.05 845.77 L1063.3 850.31 L1063.56 854.98 L1063.84 859.5 L1064.13 863.56 L1064.43 866.86 L1064.72 869.11 L1065 870 L1065.28 869.27 L1065.58 867.09 L1065.88 863.79 L1066.19 859.73 L1066.5 855.23 L1066.81 850.65 L1067.12 846.32 L1067.42 842.59 L1067.72 839.81 L1068 838.3 L1068.27 838 L1068.54 838.52 L1068.81 839.7 L1069.07 841.42 L1069.33 843.52 L1069.57 845.88 L1069.82 848.35 L1070.05 850.78 L1070.28 853.05 L1070.5 855 L1070.69 856.62 L1070.85 858.05 L1070.99 859.37 L1071.12 860.68 L1071.24 862.07 L1071.38 863.62 L1071.55 865.43 L1071.75 867.59 L1071.99 870.18 L1072.3 873.3 L1072.67 877.09 L1073.1 881.54 L1073.56 886.49 L1074.07 891.81 L1074.6 897.36 L1075.15 902.97 L1075.7 908.52 L1076.25 913.86 L1076.79 918.83 L1077.3 923.3 L1077.81 927.41 L1078.33 931.39 L1078.85 935.23 L1079.38 938.9 L1079.9 942.4 L1080.42 945.71 L1080.92 948.81 L1081.4 951.68 L1081.86 954.32 L1082.3 956.7 L1082.7 958.81 L1083.07 960.64 L1083.41 962.22 L1083.73 963.58 L1084.04 964.73 L1084.35 965.71 L1084.66 966.53 L1084.99 967.22 L1085.33 967.8 L1085.7 968.3 L1086.09 968.65 L1086.48 968.79 L1086.88 968.75 L1087.29 968.56 L1087.71 968.25 L1088.14 967.85 L1088.58 967.4 L1089.04 966.92 L1089.51 966.44 L1090 966 L1090.48 965.63 L1090.93 965.31 L1091.37 965.02 L1091.81 964.7 L1092.29 964.31 L1092.81 963.82 L1093.39 963.19 L1094.05 962.37 L1094.82 961.32 L1095.7 960 L1096.71 958.43 L1097.82 957.1 L1099.02 954.26 L1100.31 951.96 L1101.66 949.52 L1103.07 948.43 L1104.52 945.89 L1106 942.8 L1107.5 939.26 L1109 936.24 L1110.52 933.16 L1112.07 929.98 L1113.66 925.74 L1115.28 922.41 L1116.93 918.14 L1118.62 915.43 L1120.34 911.55 L1122.09 907 L1123.88 902.87 L1125.7 900.84 L1127.55 896.54 L1129.44 893.6 L1131.35 890.04 L1133.3 887.9 L1135.29 885.35 L1137.3 882.78 L1139.35 879.71 L1141.44 877.84 L1143.55 874.62 L1145.7 872.88 L1147.85 870.49 L1149.99 869.13 L1152.13 866.7 L1154.3 865 L1156.52 863.92 L1158.8 862.26 L1161.17 861.4 L1163.65 859.81 L1166.25 858.7 L1169 856.98 L1171.92 855.49 L1175.02 854.15 L1178.25 851.62 L1181.6 849.87 L1185.02 849.45 L1188.49 846.39 L1191.99 845.94 L1195.47 844.4 L1198.92 842.04 L1202.3 842.3 L1205.79 841.37 L1209.51 839.95 L1213.36 839.29 L1217.26 838.66 L1221.08 836.76 L1224.74 836.84 L1228.13 836.26 L1231.16 836.38 L1233.71 835.91 L1235.7 835" fill="none" stroke="#a6a6a6" stroke-width="3.3" stroke-linejoin="round"/><path d="M1235.7 835.65 L1237.78 834.86 L1239.86 835.16 L1241.94 834.43 L1244.03 834.14 L1246.11 832.9 L1248.19 832.19 L1250.27 832.08 L1252.35 832.22 L1254.43 831.4 L1256.51 832.55 L1258.59 831.68 L1260.67 831.51 L1262.76 831.19 L1264.84 830.99 L1266.92 830.29 L1269 829.01 L1271.03 830.6 L1273.05 830.5 L1275.08 830.01 L1277.11 830.07 L1279.14 830.32 L1281.16 829.13 L1283.19 830.47 L1285.22 829.5 L1287.24 829.15 L1289.27 829.53 L1291.3 830.46 L1293.32 829.41 L1295.35 830.48 L1297.38 830.95 L1299.41 829.99 L1301.43 829.77 L1303.46 829.96 L1305.49 830.37 L1307.51 830.53 L1309.54 830.23 L1311.57 830.29 L1313.59 829.15 L1315.62 829.29 L1317.65 829.51 L1319.68 830.49 L1321.7 829.61 L1323.73 830.14 L1325.76 829.02 L1327.78 829.12 L1329.81 829.54 L1331.84 830.34 L1333.86 830.38 L1335.89 830.35 L1337.92 829.58 L1339.95 830.03 L1341.97 829.93 L1344 830" fill="none" stroke="#a6a6a6" stroke-width="3.3" stroke-linejoin="round"/>
<path d="M1204 906.7 V958.3 H1257.3" fill="none" stroke="#333" stroke-width="1.6"/>
<g transform="translate(5.4 1159.8)"><text x="-4.29" y="0" font-size="59.7" fill="#000" textLength="38.72" lengthAdjust="spacingAndGlyphs" stroke="#000" stroke-width="0.6">D</text></g>
<circle cx="229.3" cy="1208.3" r="9.3" fill="#000"/>
<g transform="translate(252.7 1218.3)"><text x="-1.59" y="0" font-size="31.5" fill="#000" textLength="102.79" lengthAdjust="spacingAndGlyphs">Control</text></g>
<circle cx="381.5" cy="1207" r="8.6" fill="#c8c8c8"/>
<g transform="translate(397.2 1220)"><text x="-2.53" y="0" font-size="31.5" fill="#000" textLength="93.32" lengthAdjust="spacingAndGlyphs">D-AP5</text></g>
<circle cx="516.4" cy="1210.5" r="9.3" fill="#6a6a6a"/>
<g transform="translate(534.3 1220)"><text x="-2.61" y="0" font-size="31.5" fill="#000" textLength="148.73" lengthAdjust="spacingAndGlyphs">MPEP+LY</text></g>
<g transform="translate(316.7 1270)"><text x="-1.6" y="0" font-size="36" fill="#000" textLength="95.06" lengthAdjust="spacingAndGlyphs">STDP</text></g>
<path d="M345 1291 L362.7 1291 L362.7 1308.3 L371 1308.3 L353.5 1326.7 L336 1308.3 L345 1308.3Z" fill="#c00000"/>
<line x1="337.5" y1="1406.7" x2="412" y2="1406.7" stroke="#808080" stroke-width="1.6" stroke-dasharray="35 13"/>
<circle cx="237.1" cy="1404" r="10" fill="#000" stroke="#000" stroke-width="1"/><circle cx="246.1" cy="1410" r="10" fill="#000" stroke="#000" stroke-width="1"/><circle cx="255.1" cy="1416" r="10" fill="#000" stroke="#000" stroke-width="1"/><circle cx="264.1" cy="1408" r="10" fill="#000" stroke="#000" stroke-width="1"/><circle cx="273.1" cy="1404" r="10" fill="#000" stroke="#000" stroke-width="1"/><circle cx="282.1" cy="1410" r="10" fill="#000" stroke="#000" stroke-width="1"/><circle cx="291.1" cy="1406" r="10" fill="#000" stroke="#000" stroke-width="1"/><circle cx="300.1" cy="1389.6" r="10" fill="#000" stroke="#000" stroke-width="1"/><circle cx="309.1" cy="1395" r="10" fill="#000" stroke="#000" stroke-width="1"/><circle cx="318.1" cy="1414" r="10" fill="#000" stroke="#000" stroke-width="1"/>
<line x1="405.9" y1="1361" x2="405.9" y2="1373" stroke="#000" stroke-width="1.8"/><line x1="401.4" y1="1361" x2="410.4" y2="1361" stroke="#000" stroke-width="1.8"/><line x1="405.9" y1="1373" x2="405.9" y2="1385" stroke="#000" stroke-width="1.8"/><line x1="401.4" y1="1385" x2="410.4" y2="1385" stroke="#000" stroke-width="1.8"/><line x1="414.65" y1="1361" x2="414.65" y2="1371" stroke="#000" stroke-width="1.8"/><line x1="410.15" y1="1361" x2="419.15" y2="1361" stroke="#000" stroke-width="1.8"/><line x1="414.65" y1="1371" x2="414.65" y2="1381" stroke="#000" stroke-width="1.8"/><line x1="410.15" y1="1381" x2="419.15" y2="1381" stroke="#000" stroke-width="1.8"/><line x1="423.4" y1="1359" x2="423.4" y2="1369" stroke="#000" stroke-width="1.8"/><line x1="418.9" y1="1359" x2="427.9" y2="1359" stroke="#000" stroke-width="1.8"/><line x1="423.4" y1="1369" x2="423.4" y2="1379" stroke="#000" stroke-width="1.8"/><line x1="418.9" y1="1379" x2="427.9" y2="1379" stroke="#000" stroke-width="1.8"/><line x1="432.15" y1="1357" x2="432.15" y2="1367" stroke="#000" stroke-width="1.8"/><line x1="427.65" y1="1357" x2="436.65" y2="1357" stroke="#000" stroke-width="1.8"/><line x1="432.15" y1="1367" x2="432.15" y2="1377" stroke="#000" stroke-width="1.8"/><line x1="427.65" y1="1377" x2="436.65" y2="1377" stroke="#000" stroke-width="1.8"/><line x1="440.9" y1="1359" x2="440.9" y2="1370" stroke="#000" stroke-width="1.8"/><line x1="436.4" y1="1359" x2="445.4" y2="1359" stroke="#000" stroke-width="1.8"/><line x1="440.9" y1="1370" x2="440.9" y2="1381" stroke="#000" stroke-width="1.8"/><line x1="436.4" y1="1381" x2="445.4" y2="1381" stroke="#000" stroke-width="1.8"/><line x1="449.65" y1="1355" x2="449.65" y2="1366" stroke="#000" stroke-width="1.8"/><line x1="445.15" y1="1355" x2="454.15" y2="1355" stroke="#000" stroke-width="1.8"/><line x1="449.65" y1="1366" x2="449.65" y2="1377" stroke="#000" stroke-width="1.8"/><line x1="445.15" y1="1377" x2="454.15" y2="1377" stroke="#000" stroke-width="1.8"/><line x1="458.4" y1="1350" x2="458.4" y2="1362" stroke="#000" stroke-width="1.8"/><line x1="453.9" y1="1350" x2="462.9" y2="1350" stroke="#000" stroke-width="1.8"/><line x1="458.4" y1="1362" x2="458.4" y2="1374" stroke="#000" stroke-width="1.8"/><line x1="453.9" y1="1374" x2="462.9" y2="1374" stroke="#000" stroke-width="1.8"/><line x1="467.15" y1="1340" x2="467.15" y2="1354" stroke="#000" stroke-width="1.8"/><line x1="462.65" y1="1340" x2="471.65" y2="1340" stroke="#000" stroke-width="1.8"/><line x1="467.15" y1="1354" x2="467.15" y2="1368" stroke="#000" stroke-width="1.8"/><line x1="462.65" y1="1368" x2="471.65" y2="1368" stroke="#000" stroke-width="1.8"/><line x1="475.9" y1="1333.3" x2="475.9" y2="1347.3" stroke="#000" stroke-width="1.8"/><line x1="471.4" y1="1333.3" x2="480.4" y2="1333.3" stroke="#000" stroke-width="1.8"/><line x1="475.9" y1="1347.3" x2="475.9" y2="1361.3" stroke="#000" stroke-width="1.8"/><line x1="471.4" y1="1361.3" x2="480.4" y2="1361.3" stroke="#000" stroke-width="1.8"/><line x1="484.65" y1="1338.3" x2="484.65" y2="1352.3" stroke="#000" stroke-width="1.8"/><line x1="480.15" y1="1338.3" x2="489.15" y2="1338.3" stroke="#000" stroke-width="1.8"/><line x1="484.65" y1="1352.3" x2="484.65" y2="1366.3" stroke="#000" stroke-width="1.8"/><line x1="480.15" y1="1366.3" x2="489.15" y2="1366.3" stroke="#000" stroke-width="1.8"/><line x1="493.4" y1="1338.9" x2="493.4" y2="1352.9" stroke="#000" stroke-width="1.8"/><line x1="488.9" y1="1338.9" x2="497.9" y2="1338.9" stroke="#000" stroke-width="1.8"/><line x1="493.4" y1="1352.9" x2="493.4" y2="1366.9" stroke="#000" stroke-width="1.8"/><line x1="488.9" y1="1366.9" x2="497.9" y2="1366.9" stroke="#000" stroke-width="1.8"/><line x1="502.15" y1="1315.7" x2="502.15" y2="1336.7" stroke="#000" stroke-width="1.8"/><line x1="497.65" y1="1315.7" x2="506.65" y2="1315.7" stroke="#000" stroke-width="1.8"/><line x1="502.15" y1="1336.7" x2="502.15" y2="1357.7" stroke="#000" stroke-width="1.8"/><line x1="497.65" y1="1357.7" x2="506.65" y2="1357.7" stroke="#000" stroke-width="1.8"/><line x1="510.9" y1="1337.6" x2="510.9" y2="1351.6" stroke="#000" stroke-width="1.8"/><line x1="506.4" y1="1337.6" x2="515.4" y2="1337.6" stroke="#000" stroke-width="1.8"/><line x1="510.9" y1="1351.6" x2="510.9" y2="1365.6" stroke="#000" stroke-width="1.8"/><line x1="506.4" y1="1365.6" x2="515.4" y2="1365.6" stroke="#000" stroke-width="1.8"/><line x1="519.65" y1="1338.9" x2="519.65" y2="1352.9" stroke="#000" stroke-width="1.8"/><line x1="515.15" y1="1338.9" x2="524.15" y2="1338.9" stroke="#000" stroke-width="1.8"/><line x1="519.65" y1="1352.9" x2="519.65" y2="1366.9" stroke="#000" stroke-width="1.8"/><line x1="515.15" y1="1366.9" x2="524.15" y2="1366.9" stroke="#000" stroke-width="1.8"/><line x1="528.4" y1="1309.1" x2="528.4" y2="1336.1" stroke="#000" stroke-width="1.8"/><line x1="523.9" y1="1309.1" x2="532.9" y2="1309.1" stroke="#000" stroke-width="1.8"/><line x1="528.4" y1="1336.1" x2="528.4" y2="1363.1" stroke="#000" stroke-width="1.8"/><line x1="523.9" y1="1363.1" x2="532.9" y2="1363.1" stroke="#000" stroke-width="1.8"/><line x1="537.15" y1="1338.3" x2="537.15" y2="1352.3" stroke="#000" stroke-width="1.8"/><line x1="532.65" y1="1338.3" x2="541.65" y2="1338.3" stroke="#000" stroke-width="1.8"/><line x1="537.15" y1="1352.3" x2="537.15" y2="1366.3" stroke="#000" stroke-width="1.8"/><line x1="532.65" y1="1366.3" x2="541.65" y2="1366.3" stroke="#000" stroke-width="1.8"/><line x1="545.9" y1="1336" x2="545.9" y2="1351" stroke="#000" stroke-width="1.8"/><line x1="541.4" y1="1336" x2="550.4" y2="1336" stroke="#000" stroke-width="1.8"/><line x1="545.9" y1="1351" x2="545.9" y2="1366" stroke="#000" stroke-width="1.8"/><line x1="541.4" y1="1366" x2="550.4" y2="1366" stroke="#000" stroke-width="1.8"/><line x1="554.65" y1="1329" x2="554.65" y2="1346" stroke="#000" stroke-width="1.8"/><line x1="550.15" y1="1329" x2="559.15" y2="1329" stroke="#000" stroke-width="1.8"/><line x1="554.65" y1="1346" x2="554.65" y2="1363" stroke="#000" stroke-width="1.8"/><line x1="550.15" y1="1363" x2="559.15" y2="1363" stroke="#000" stroke-width="1.8"/><line x1="563.4" y1="1335.6" x2="563.4" y2="1350.6" stroke="#000" stroke-width="1.8"/><line x1="558.9" y1="1335.6" x2="567.9" y2="1335.6" stroke="#000" stroke-width="1.8"/><line x1="563.4" y1="1350.6" x2="563.4" y2="1365.6" stroke="#000" stroke-width="1.8"/><line x1="558.9" y1="1365.6" x2="567.9" y2="1365.6" stroke="#000" stroke-width="1.8"/><line x1="572.15" y1="1331.4" x2="572.15" y2="1346.4" stroke="#000" stroke-width="1.8"/><line x1="567.65" y1="1331.4" x2="576.65" y2="1331.4" stroke="#000" stroke-width="1.8"/><line x1="572.15" y1="1346.4" x2="572.15" y2="1361.4" stroke="#000" stroke-width="1.8"/><line x1="567.65" y1="1361.4" x2="576.65" y2="1361.4" stroke="#000" stroke-width="1.8"/><line x1="580.9" y1="1330" x2="580.9" y2="1345" stroke="#000" stroke-width="1.8"/><line x1="576.4" y1="1330" x2="585.4" y2="1330" stroke="#000" stroke-width="1.8"/><line x1="580.9" y1="1345" x2="580.9" y2="1360" stroke="#000" stroke-width="1.8"/><line x1="576.4" y1="1360" x2="585.4" y2="1360" stroke="#000" stroke-width="1.8"/><line x1="589.65" y1="1326.5" x2="589.65" y2="1341.5" stroke="#000" stroke-width="1.8"/><line x1="585.15" y1="1326.5" x2="594.15" y2="1326.5" stroke="#000" stroke-width="1.8"/><line x1="589.65" y1="1341.5" x2="589.65" y2="1356.5" stroke="#000" stroke-width="1.8"/><line x1="585.15" y1="1356.5" x2="594.15" y2="1356.5" stroke="#000" stroke-width="1.8"/><line x1="598.4" y1="1339.4" x2="598.4" y2="1353.4" stroke="#000" stroke-width="1.8"/><line x1="593.9" y1="1339.4" x2="602.9" y2="1339.4" stroke="#000" stroke-width="1.8"/><line x1="598.4" y1="1353.4" x2="598.4" y2="1367.4" stroke="#000" stroke-width="1.8"/><line x1="593.9" y1="1367.4" x2="602.9" y2="1367.4" stroke="#000" stroke-width="1.8"/><line x1="607.15" y1="1331.4" x2="607.15" y2="1346.4" stroke="#000" stroke-width="1.8"/><line x1="602.65" y1="1331.4" x2="611.65" y2="1331.4" stroke="#000" stroke-width="1.8"/><line x1="607.15" y1="1346.4" x2="607.15" y2="1361.4" stroke="#000" stroke-width="1.8"/><line x1="602.65" y1="1361.4" x2="611.65" y2="1361.4" stroke="#000" stroke-width="1.8"/><line x1="615.9" y1="1337" x2="615.9" y2="1352" stroke="#000" stroke-width="1.8"/><line x1="611.4" y1="1337" x2="620.4" y2="1337" stroke="#000" stroke-width="1.8"/><line x1="615.9" y1="1352" x2="615.9" y2="1367" stroke="#000" stroke-width="1.8"/><line x1="611.4" y1="1367" x2="620.4" y2="1367" stroke="#000" stroke-width="1.8"/><line x1="624.65" y1="1336.6" x2="624.65" y2="1350.6" stroke="#000" stroke-width="1.8"/><line x1="620.15" y1="1336.6" x2="629.15" y2="1336.6" stroke="#000" stroke-width="1.8"/><line x1="624.65" y1="1350.6" x2="624.65" y2="1364.6" stroke="#000" stroke-width="1.8"/><line x1="620.15" y1="1364.6" x2="629.15" y2="1364.6" stroke="#000" stroke-width="1.8"/><line x1="633.4" y1="1332.4" x2="633.4" y2="1346.4" stroke="#000" stroke-width="1.8"/><line x1="628.9" y1="1332.4" x2="637.9" y2="1332.4" stroke="#000" stroke-width="1.8"/><line x1="633.4" y1="1346.4" x2="633.4" y2="1360.4" stroke="#000" stroke-width="1.8"/><line x1="628.9" y1="1360.4" x2="637.9" y2="1360.4" stroke="#000" stroke-width="1.8"/><line x1="642.15" y1="1320.8" x2="642.15" y2="1333.8" stroke="#000" stroke-width="1.8"/><line x1="637.65" y1="1320.8" x2="646.65" y2="1320.8" stroke="#000" stroke-width="1.8"/><line x1="642.15" y1="1333.8" x2="642.15" y2="1346.8" stroke="#000" stroke-width="1.8"/><line x1="637.65" y1="1346.8" x2="646.65" y2="1346.8" stroke="#000" stroke-width="1.8"/><line x1="650.9" y1="1332.8" x2="650.9" y2="1347.8" stroke="#000" stroke-width="1.8"/><line x1="646.4" y1="1332.8" x2="655.4" y2="1332.8" stroke="#000" stroke-width="1.8"/><line x1="650.9" y1="1347.8" x2="650.9" y2="1362.8" stroke="#000" stroke-width="1.8"/><line x1="646.4" y1="1362.8" x2="655.4" y2="1362.8" stroke="#000" stroke-width="1.8"/><line x1="659.65" y1="1331.4" x2="659.65" y2="1346.4" stroke="#000" stroke-width="1.8"/><line x1="655.15" y1="1331.4" x2="664.15" y2="1331.4" stroke="#000" stroke-width="1.8"/><line x1="659.65" y1="1346.4" x2="659.65" y2="1361.4" stroke="#000" stroke-width="1.8"/><line x1="655.15" y1="1361.4" x2="664.15" y2="1361.4" stroke="#000" stroke-width="1.8"/><line x1="668.4" y1="1329.6" x2="668.4" y2="1343.6" stroke="#000" stroke-width="1.8"/><line x1="663.9" y1="1329.6" x2="672.9" y2="1329.6" stroke="#000" stroke-width="1.8"/><line x1="668.4" y1="1343.6" x2="668.4" y2="1357.6" stroke="#000" stroke-width="1.8"/><line x1="663.9" y1="1357.6" x2="672.9" y2="1357.6" stroke="#000" stroke-width="1.8"/><circle cx="405.9" cy="1373" r="10" fill="#000" stroke="#000" stroke-width="1"/><circle cx="414.65" cy="1371" r="10" fill="#000" stroke="#000" stroke-width="1"/><circle cx="423.4" cy="1369" r="10" fill="#000" stroke="#000" stroke-width="1"/><circle cx="432.15" cy="1367" r="10" fill="#000" stroke="#000" stroke-width="1"/><circle cx="440.9" cy="1370" r="10" fill="#000" stroke="#000" stroke-width="1"/><circle cx="449.65" cy="1366" r="10" fill="#000" stroke="#000" stroke-width="1"/><circle cx="458.4" cy="1362" r="10" fill="#000" stroke="#000" stroke-width="1"/><circle cx="467.15" cy="1354" r="10" fill="#000" stroke="#000" stroke-width="1"/><circle cx="475.9" cy="1347.3" r="10" fill="#000" stroke="#000" stroke-width="1"/><circle cx="484.65" cy="1352.3" r="10" fill="#000" stroke="#000" stroke-width="1"/><circle cx="493.4" cy="1352.9" r="10" fill="#000" stroke="#000" stroke-width="1"/><circle cx="502.15" cy="1336.7" r="10" fill="#000" stroke="#000" stroke-width="1"/><circle cx="510.9" cy="1351.6" r="10" fill="#000" stroke="#000" stroke-width="1"/><circle cx="519.65" cy="1352.9" r="10" fill="#000" stroke="#000" stroke-width="1"/><circle cx="528.4" cy="1336.1" r="10" fill="#000" stroke="#000" stroke-width="1"/><circle cx="537.15" cy="1352.3" r="10" fill="#000" stroke="#000" stroke-width="1"/><circle cx="545.9" cy="1351" r="10" fill="#000" stroke="#000" stroke-width="1"/><circle cx="554.65" cy="1346" r="10" fill="#000" stroke="#000" stroke-width="1"/><circle cx="563.4" cy="1350.6" r="10" fill="#000" stroke="#000" stroke-width="1"/><circle cx="572.15" cy="1346.4" r="10" fill="#000" stroke="#000" stroke-width="1"/><circle cx="580.9" cy="1345" r="10" fill="#000" stroke="#000" stroke-width="1"/><circle cx="589.65" cy="1341.5" r="10" fill="#000" stroke="#000" stroke-width="1"/><circle cx="598.4" cy="1353.4" r="10" fill="#000" stroke="#000" stroke-width="1"/><circle cx="607.15" cy="1346.4" r="10" fill="#000" stroke="#000" stroke-width="1"/><circle cx="615.9" cy="1352" r="10" fill="#000" stroke="#000" stroke-width="1"/><circle cx="624.65" cy="1350.6" r="10" fill="#000" stroke="#000" stroke-width="1"/><circle cx="633.4" cy="1346.4" r="10" fill="#000" stroke="#000" stroke-width="1"/><circle cx="642.15" cy="1333.8" r="10" fill="#000" stroke="#000" stroke-width="1"/><circle cx="650.9" cy="1347.8" r="10" fill="#000" stroke="#000" stroke-width="1"/><circle cx="659.65" cy="1346.4" r="10" fill="#000" stroke="#000" stroke-width="1"/><circle cx="668.4" cy="1343.6" r="10" fill="#000" stroke="#000" stroke-width="1"/>
<circle cx="237.1" cy="1415.7" r="10" fill="#c4c4c4" stroke="#222" stroke-width="1"/><circle cx="246.1" cy="1415.7" r="10" fill="#c4c4c4" stroke="#222" stroke-width="1"/><circle cx="255.1" cy="1410" r="10" fill="#c4c4c4" stroke="#222" stroke-width="1"/><circle cx="264.1" cy="1416.6" r="10" fill="#c4c4c4" stroke="#222" stroke-width="1"/><circle cx="273.1" cy="1402" r="10" fill="#c4c4c4" stroke="#222" stroke-width="1"/><circle cx="282.1" cy="1395.2" r="10" fill="#c4c4c4" stroke="#222" stroke-width="1"/><circle cx="291.1" cy="1410" r="10" fill="#c4c4c4" stroke="#222" stroke-width="1"/><circle cx="300.1" cy="1403" r="10" fill="#c4c4c4" stroke="#222" stroke-width="1"/><circle cx="309.1" cy="1396" r="10" fill="#c4c4c4" stroke="#222" stroke-width="1"/><circle cx="318.1" cy="1410" r="10" fill="#c4c4c4" stroke="#222" stroke-width="1"/>
<line x1="405.9" y1="1387" x2="405.9" y2="1397" stroke="#000" stroke-width="1.8"/><line x1="401.4" y1="1387" x2="410.4" y2="1387" stroke="#000" stroke-width="1.8"/><line x1="405.9" y1="1397" x2="405.9" y2="1407" stroke="#000" stroke-width="1.8"/><line x1="401.4" y1="1407" x2="410.4" y2="1407" stroke="#000" stroke-width="1.8"/><line x1="414.65" y1="1392" x2="414.65" y2="1402" stroke="#000" stroke-width="1.8"/><line x1="410.15" y1="1392" x2="419.15" y2="1392" stroke="#000" stroke-width="1.8"/><line x1="414.65" y1="1402" x2="414.65" y2="1412" stroke="#000" stroke-width="1.8"/><line x1="410.15" y1="1412" x2="419.15" y2="1412" stroke="#000" stroke-width="1.8"/><line x1="423.4" y1="1395" x2="423.4" y2="1405" stroke="#000" stroke-width="1.8"/><line x1="418.9" y1="1395" x2="427.9" y2="1395" stroke="#000" stroke-width="1.8"/><line x1="423.4" y1="1405" x2="423.4" y2="1415" stroke="#000" stroke-width="1.8"/><line x1="418.9" y1="1415" x2="427.9" y2="1415" stroke="#000" stroke-width="1.8"/><line x1="432.15" y1="1400.7" x2="432.15" y2="1410.7" stroke="#000" stroke-width="1.8"/><line x1="427.65" y1="1400.7" x2="436.65" y2="1400.7" stroke="#000" stroke-width="1.8"/><line x1="432.15" y1="1410.7" x2="432.15" y2="1420.7" stroke="#000" stroke-width="1.8"/><line x1="427.65" y1="1420.7" x2="436.65" y2="1420.7" stroke="#000" stroke-width="1.8"/><line x1="440.9" y1="1390" x2="440.9" y2="1400" stroke="#000" stroke-width="1.8"/><line x1="436.4" y1="1390" x2="445.4" y2="1390" stroke="#000" stroke-width="1.8"/><line x1="440.9" y1="1400" x2="440.9" y2="1410" stroke="#000" stroke-width="1.8"/><line x1="436.4" y1="1410" x2="445.4" y2="1410" stroke="#000" stroke-width="1.8"/><line x1="449.65" y1="1395" x2="449.65" y2="1405" stroke="#000" stroke-width="1.8"/><line x1="445.15" y1="1395" x2="454.15" y2="1395" stroke="#000" stroke-width="1.8"/><line x1="449.65" y1="1405" x2="449.65" y2="1415" stroke="#000" stroke-width="1.8"/><line x1="445.15" y1="1415" x2="454.15" y2="1415" stroke="#000" stroke-width="1.8"/><line x1="458.4" y1="1408" x2="458.4" y2="1418" stroke="#000" stroke-width="1.8"/><line x1="453.9" y1="1408" x2="462.9" y2="1408" stroke="#000" stroke-width="1.8"/><line x1="458.4" y1="1418" x2="458.4" y2="1428" stroke="#000" stroke-width="1.8"/><line x1="453.9" y1="1428" x2="462.9" y2="1428" stroke="#000" stroke-width="1.8"/><line x1="467.15" y1="1405" x2="467.15" y2="1415" stroke="#000" stroke-width="1.8"/><line x1="462.65" y1="1405" x2="471.65" y2="1405" stroke="#000" stroke-width="1.8"/><line x1="467.15" y1="1415" x2="467.15" y2="1425" stroke="#000" stroke-width="1.8"/><line x1="462.65" y1="1425" x2="471.65" y2="1425" stroke="#000" stroke-width="1.8"/><line x1="475.9" y1="1394" x2="475.9" y2="1404" stroke="#000" stroke-width="1.8"/><line x1="471.4" y1="1394" x2="480.4" y2="1394" stroke="#000" stroke-width="1.8"/><line x1="475.9" y1="1404" x2="475.9" y2="1414" stroke="#000" stroke-width="1.8"/><line x1="471.4" y1="1414" x2="480.4" y2="1414" stroke="#000" stroke-width="1.8"/><line x1="484.65" y1="1390" x2="484.65" y2="1400" stroke="#000" stroke-width="1.8"/><line x1="480.15" y1="1390" x2="489.15" y2="1390" stroke="#000" stroke-width="1.8"/><line x1="484.65" y1="1400" x2="484.65" y2="1410" stroke="#000" stroke-width="1.8"/><line x1="480.15" y1="1410" x2="489.15" y2="1410" stroke="#000" stroke-width="1.8"/><line x1="493.4" y1="1392" x2="493.4" y2="1402" stroke="#000" stroke-width="1.8"/><line x1="488.9" y1="1392" x2="497.9" y2="1392" stroke="#000" stroke-width="1.8"/><line x1="493.4" y1="1402" x2="493.4" y2="1412" stroke="#000" stroke-width="1.8"/><line x1="488.9" y1="1412" x2="497.9" y2="1412" stroke="#000" stroke-width="1.8"/><line x1="502.15" y1="1396" x2="502.15" y2="1406" stroke="#000" stroke-width="1.8"/><line x1="497.65" y1="1396" x2="506.65" y2="1396" stroke="#000" stroke-width="1.8"/><line x1="502.15" y1="1406" x2="502.15" y2="1416" stroke="#000" stroke-width="1.8"/><line x1="497.65" y1="1416" x2="506.65" y2="1416" stroke="#000" stroke-width="1.8"/><line x1="510.9" y1="1394" x2="510.9" y2="1404" stroke="#000" stroke-width="1.8"/><line x1="506.4" y1="1394" x2="515.4" y2="1394" stroke="#000" stroke-width="1.8"/><line x1="510.9" y1="1404" x2="510.9" y2="1414" stroke="#000" stroke-width="1.8"/><line x1="506.4" y1="1414" x2="515.4" y2="1414" stroke="#000" stroke-width="1.8"/><line x1="519.65" y1="1399.5" x2="519.65" y2="1409.5" stroke="#000" stroke-width="1.8"/><line x1="515.15" y1="1399.5" x2="524.15" y2="1399.5" stroke="#000" stroke-width="1.8"/><line x1="519.65" y1="1409.5" x2="519.65" y2="1419.5" stroke="#000" stroke-width="1.8"/><line x1="515.15" y1="1419.5" x2="524.15" y2="1419.5" stroke="#000" stroke-width="1.8"/><line x1="528.4" y1="1386" x2="528.4" y2="1396" stroke="#000" stroke-width="1.8"/><line x1="523.9" y1="1386" x2="532.9" y2="1386" stroke="#000" stroke-width="1.8"/><line x1="528.4" y1="1396" x2="528.4" y2="1406" stroke="#000" stroke-width="1.8"/><line x1="523.9" y1="1406" x2="532.9" y2="1406" stroke="#000" stroke-width="1.8"/><line x1="537.15" y1="1398" x2="537.15" y2="1408" stroke="#000" stroke-width="1.8"/><line x1="532.65" y1="1398" x2="541.65" y2="1398" stroke="#000" stroke-width="1.8"/><line x1="537.15" y1="1408" x2="537.15" y2="1418" stroke="#000" stroke-width="1.8"/><line x1="532.65" y1="1418" x2="541.65" y2="1418" stroke="#000" stroke-width="1.8"/><line x1="545.9" y1="1390" x2="545.9" y2="1400" stroke="#000" stroke-width="1.8"/><line x1="541.4" y1="1390" x2="550.4" y2="1390" stroke="#000" stroke-width="1.8"/><line x1="545.9" y1="1400" x2="545.9" y2="1410" stroke="#000" stroke-width="1.8"/><line x1="541.4" y1="1410" x2="550.4" y2="1410" stroke="#000" stroke-width="1.8"/><line x1="554.65" y1="1380.4" x2="554.65" y2="1390.4" stroke="#000" stroke-width="1.8"/><line x1="550.15" y1="1380.4" x2="559.15" y2="1380.4" stroke="#000" stroke-width="1.8"/><line x1="554.65" y1="1390.4" x2="554.65" y2="1400.4" stroke="#000" stroke-width="1.8"/><line x1="550.15" y1="1400.4" x2="559.15" y2="1400.4" stroke="#000" stroke-width="1.8"/><line x1="563.4" y1="1388" x2="563.4" y2="1398" stroke="#000" stroke-width="1.8"/><line x1="558.9" y1="1388" x2="567.9" y2="1388" stroke="#000" stroke-width="1.8"/><line x1="563.4" y1="1398" x2="563.4" y2="1408" stroke="#000" stroke-width="1.8"/><line x1="558.9" y1="1408" x2="567.9" y2="1408" stroke="#000" stroke-width="1.8"/><line x1="572.15" y1="1386" x2="572.15" y2="1396" stroke="#000" stroke-width="1.8"/><line x1="567.65" y1="1386" x2="576.65" y2="1386" stroke="#000" stroke-width="1.8"/><line x1="572.15" y1="1396" x2="572.15" y2="1406" stroke="#000" stroke-width="1.8"/><line x1="567.65" y1="1406" x2="576.65" y2="1406" stroke="#000" stroke-width="1.8"/><line x1="580.9" y1="1392" x2="580.9" y2="1402" stroke="#000" stroke-width="1.8"/><line x1="576.4" y1="1392" x2="585.4" y2="1392" stroke="#000" stroke-width="1.8"/><line x1="580.9" y1="1402" x2="580.9" y2="1412" stroke="#000" stroke-width="1.8"/><line x1="576.4" y1="1412" x2="585.4" y2="1412" stroke="#000" stroke-width="1.8"/><line x1="589.65" y1="1390" x2="589.65" y2="1400" stroke="#000" stroke-width="1.8"/><line x1="585.15" y1="1390" x2="594.15" y2="1390" stroke="#000" stroke-width="1.8"/><line x1="589.65" y1="1400" x2="589.65" y2="1410" stroke="#000" stroke-width="1.8"/><line x1="585.15" y1="1410" x2="594.15" y2="1410" stroke="#000" stroke-width="1.8"/><line x1="598.4" y1="1388" x2="598.4" y2="1398" stroke="#000" stroke-width="1.8"/><line x1="593.9" y1="1388" x2="602.9" y2="1388" stroke="#000" stroke-width="1.8"/><line x1="598.4" y1="1398" x2="598.4" y2="1408" stroke="#000" stroke-width="1.8"/><line x1="593.9" y1="1408" x2="602.9" y2="1408" stroke="#000" stroke-width="1.8"/><line x1="607.15" y1="1382" x2="607.15" y2="1392" stroke="#000" stroke-width="1.8"/><line x1="602.65" y1="1382" x2="611.65" y2="1382" stroke="#000" stroke-width="1.8"/><line x1="607.15" y1="1392" x2="607.15" y2="1402" stroke="#000" stroke-width="1.8"/><line x1="602.65" y1="1402" x2="611.65" y2="1402" stroke="#000" stroke-width="1.8"/><line x1="615.9" y1="1382.5" x2="615.9" y2="1392.5" stroke="#000" stroke-width="1.8"/><line x1="611.4" y1="1382.5" x2="620.4" y2="1382.5" stroke="#000" stroke-width="1.8"/><line x1="615.9" y1="1392.5" x2="615.9" y2="1402.5" stroke="#000" stroke-width="1.8"/><line x1="611.4" y1="1402.5" x2="620.4" y2="1402.5" stroke="#000" stroke-width="1.8"/><line x1="624.65" y1="1382" x2="624.65" y2="1392" stroke="#000" stroke-width="1.8"/><line x1="620.15" y1="1382" x2="629.15" y2="1382" stroke="#000" stroke-width="1.8"/><line x1="624.65" y1="1392" x2="624.65" y2="1402" stroke="#000" stroke-width="1.8"/><line x1="620.15" y1="1402" x2="629.15" y2="1402" stroke="#000" stroke-width="1.8"/><line x1="633.4" y1="1383" x2="633.4" y2="1393" stroke="#000" stroke-width="1.8"/><line x1="628.9" y1="1383" x2="637.9" y2="1383" stroke="#000" stroke-width="1.8"/><line x1="633.4" y1="1393" x2="633.4" y2="1403" stroke="#000" stroke-width="1.8"/><line x1="628.9" y1="1403" x2="637.9" y2="1403" stroke="#000" stroke-width="1.8"/><line x1="642.15" y1="1386" x2="642.15" y2="1396" stroke="#000" stroke-width="1.8"/><line x1="637.65" y1="1386" x2="646.65" y2="1386" stroke="#000" stroke-width="1.8"/><line x1="642.15" y1="1396" x2="642.15" y2="1406" stroke="#000" stroke-width="1.8"/><line x1="637.65" y1="1406" x2="646.65" y2="1406" stroke="#000" stroke-width="1.8"/><line x1="650.9" y1="1387" x2="650.9" y2="1397" stroke="#000" stroke-width="1.8"/><line x1="646.4" y1="1387" x2="655.4" y2="1387" stroke="#000" stroke-width="1.8"/><line x1="650.9" y1="1397" x2="650.9" y2="1407" stroke="#000" stroke-width="1.8"/><line x1="646.4" y1="1407" x2="655.4" y2="1407" stroke="#000" stroke-width="1.8"/><line x1="659.65" y1="1390" x2="659.65" y2="1400" stroke="#000" stroke-width="1.8"/><line x1="655.15" y1="1390" x2="664.15" y2="1390" stroke="#000" stroke-width="1.8"/><line x1="659.65" y1="1400" x2="659.65" y2="1410" stroke="#000" stroke-width="1.8"/><line x1="655.15" y1="1410" x2="664.15" y2="1410" stroke="#000" stroke-width="1.8"/><line x1="668.4" y1="1391" x2="668.4" y2="1401" stroke="#000" stroke-width="1.8"/><line x1="663.9" y1="1391" x2="672.9" y2="1391" stroke="#000" stroke-width="1.8"/><line x1="668.4" y1="1401" x2="668.4" y2="1411" stroke="#000" stroke-width="1.8"/><line x1="663.9" y1="1411" x2="672.9" y2="1411" stroke="#000" stroke-width="1.8"/><line x1="681.5" y1="1391" x2="681.5" y2="1401" stroke="#000" stroke-width="1.8"/><line x1="677" y1="1391" x2="686" y2="1391" stroke="#000" stroke-width="1.8"/><line x1="681.5" y1="1401" x2="681.5" y2="1411" stroke="#000" stroke-width="1.8"/><line x1="677" y1="1411" x2="686" y2="1411" stroke="#000" stroke-width="1.8"/><circle cx="405.9" cy="1397" r="10" fill="#c4c4c4" stroke="#222" stroke-width="1"/><circle cx="414.65" cy="1402" r="10" fill="#c4c4c4" stroke="#222" stroke-width="1"/><circle cx="423.4" cy="1405" r="10" fill="#c4c4c4" stroke="#222" stroke-width="1"/><circle cx="432.15" cy="1410.7" r="10" fill="#c4c4c4" stroke="#222" stroke-width="1"/><circle cx="440.9" cy="1400" r="10" fill="#c4c4c4" stroke="#222" stroke-width="1"/><circle cx="449.65" cy="1405" r="10" fill="#c4c4c4" stroke="#222" stroke-width="1"/><circle cx="458.4" cy="1418" r="10" fill="#c4c4c4" stroke="#222" stroke-width="1"/><circle cx="467.15" cy="1415" r="10" fill="#c4c4c4" stroke="#222" stroke-width="1"/><circle cx="475.9" cy="1404" r="10" fill="#c4c4c4" stroke="#222" stroke-width="1"/><circle cx="484.65" cy="1400" r="10" fill="#c4c4c4" stroke="#222" stroke-width="1"/><circle cx="493.4" cy="1402" r="10" fill="#c4c4c4" stroke="#222" stroke-width="1"/><circle cx="502.15" cy="1406" r="10" fill="#c4c4c4" stroke="#222" stroke-width="1"/><circle cx="510.9" cy="1404" r="10" fill="#c4c4c4" stroke="#222" stroke-width="1"/><circle cx="519.65" cy="1409.5" r="10" fill="#c4c4c4" stroke="#222" stroke-width="1"/><circle cx="528.4" cy="1396" r="10" fill="#c4c4c4" stroke="#222" stroke-width="1"/><circle cx="537.15" cy="1408" r="10" fill="#c4c4c4" stroke="#222" stroke-width="1"/><circle cx="545.9" cy="1400" r="10" fill="#c4c4c4" stroke="#222" stroke-width="1"/><circle cx="554.65" cy="1390.4" r="10" fill="#c4c4c4" stroke="#222" stroke-width="1"/><circle cx="563.4" cy="1398" r="10" fill="#c4c4c4" stroke="#222" stroke-width="1"/><circle cx="572.15" cy="1396" r="10" fill="#c4c4c4" stroke="#222" stroke-width="1"/><circle cx="580.9" cy="1402" r="10" fill="#c4c4c4" stroke="#222" stroke-width="1"/><circle cx="589.65" cy="1400" r="10" fill="#c4c4c4" stroke="#222" stroke-width="1"/><circle cx="598.4" cy="1398" r="10" fill="#c4c4c4" stroke="#222" stroke-width="1"/><circle cx="607.15" cy="1392" r="10" fill="#c4c4c4" stroke="#222" stroke-width="1"/><circle cx="615.9" cy="1392.5" r="10" fill="#c4c4c4" stroke="#222" stroke-width="1"/><circle cx="624.65" cy="1392" r="10" fill="#c4c4c4" stroke="#222" stroke-width="1"/><circle cx="633.4" cy="1393" r="10" fill="#c4c4c4" stroke="#222" stroke-width="1"/><circle cx="642.15" cy="1396" r="10" fill="#c4c4c4" stroke="#222" stroke-width="1"/><circle cx="650.9" cy="1397" r="10" fill="#c4c4c4" stroke="#222" stroke-width="1"/><circle cx="659.65" cy="1400" r="10" fill="#c4c4c4" stroke="#222" stroke-width="1"/><circle cx="668.4" cy="1401" r="10" fill="#c4c4c4" stroke="#222" stroke-width="1"/><circle cx="681.5" cy="1401" r="10" fill="#c4c4c4" stroke="#222" stroke-width="1"/>
<line x1="246.1" y1="1381.6" x2="246.1" y2="1395.6" stroke="#000" stroke-width="1.8"/><line x1="241.6" y1="1381.6" x2="250.6" y2="1381.6" stroke="#000" stroke-width="1.8"/><line x1="246.1" y1="1395.6" x2="246.1" y2="1409.6" stroke="#000" stroke-width="1.8"/><line x1="241.6" y1="1409.6" x2="250.6" y2="1409.6" stroke="#000" stroke-width="1.8"/><line x1="255.1" y1="1388.7" x2="255.1" y2="1401.7" stroke="#000" stroke-width="1.8"/><line x1="250.6" y1="1388.7" x2="259.6" y2="1388.7" stroke="#000" stroke-width="1.8"/><line x1="255.1" y1="1401.7" x2="255.1" y2="1414.7" stroke="#000" stroke-width="1.8"/><line x1="250.6" y1="1414.7" x2="259.6" y2="1414.7" stroke="#000" stroke-width="1.8"/><circle cx="237.1" cy="1406.4" r="10" fill="#6a6a6a" stroke="#111" stroke-width="1"/><circle cx="246.1" cy="1395.6" r="10" fill="#6a6a6a" stroke="#111" stroke-width="1"/><circle cx="255.1" cy="1401.7" r="10" fill="#6a6a6a" stroke="#111" stroke-width="1"/><circle cx="264.1" cy="1402.6" r="10" fill="#6a6a6a" stroke="#111" stroke-width="1"/><circle cx="273.1" cy="1400.8" r="10" fill="#6a6a6a" stroke="#111" stroke-width="1"/><circle cx="282.1" cy="1415.7" r="10" fill="#6a6a6a" stroke="#111" stroke-width="1"/><circle cx="291.1" cy="1412" r="10" fill="#6a6a6a" stroke="#111" stroke-width="1"/><circle cx="300.1" cy="1405.4" r="10" fill="#6a6a6a" stroke="#111" stroke-width="1"/><circle cx="309.1" cy="1412" r="10" fill="#6a6a6a" stroke="#111" stroke-width="1"/><circle cx="318.1" cy="1406.4" r="10" fill="#6a6a6a" stroke="#111" stroke-width="1"/>
<line x1="405.9" y1="1359" x2="405.9" y2="1379" stroke="#000" stroke-width="1.8"/><line x1="401.4" y1="1359" x2="410.4" y2="1359" stroke="#000" stroke-width="1.8"/><line x1="405.9" y1="1379" x2="405.9" y2="1399" stroke="#000" stroke-width="1.8"/><line x1="401.4" y1="1399" x2="410.4" y2="1399" stroke="#000" stroke-width="1.8"/><line x1="414.65" y1="1392.2" x2="414.65" y2="1403.2" stroke="#000" stroke-width="1.8"/><line x1="410.15" y1="1392.2" x2="419.15" y2="1392.2" stroke="#000" stroke-width="1.8"/><line x1="414.65" y1="1403.2" x2="414.65" y2="1414.2" stroke="#000" stroke-width="1.8"/><line x1="410.15" y1="1414.2" x2="419.15" y2="1414.2" stroke="#000" stroke-width="1.8"/><line x1="423.4" y1="1382.5" x2="423.4" y2="1394.5" stroke="#000" stroke-width="1.8"/><line x1="418.9" y1="1382.5" x2="427.9" y2="1382.5" stroke="#000" stroke-width="1.8"/><line x1="423.4" y1="1394.5" x2="423.4" y2="1406.5" stroke="#000" stroke-width="1.8"/><line x1="418.9" y1="1406.5" x2="427.9" y2="1406.5" stroke="#000" stroke-width="1.8"/><line x1="432.15" y1="1371.6" x2="432.15" y2="1384.6" stroke="#000" stroke-width="1.8"/><line x1="427.65" y1="1371.6" x2="436.65" y2="1371.6" stroke="#000" stroke-width="1.8"/><line x1="432.15" y1="1384.6" x2="432.15" y2="1397.6" stroke="#000" stroke-width="1.8"/><line x1="427.65" y1="1397.6" x2="436.65" y2="1397.6" stroke="#000" stroke-width="1.8"/><line x1="440.9" y1="1370.1" x2="440.9" y2="1382.1" stroke="#000" stroke-width="1.8"/><line x1="436.4" y1="1370.1" x2="445.4" y2="1370.1" stroke="#000" stroke-width="1.8"/><line x1="440.9" y1="1382.1" x2="440.9" y2="1394.1" stroke="#000" stroke-width="1.8"/><line x1="436.4" y1="1394.1" x2="445.4" y2="1394.1" stroke="#000" stroke-width="1.8"/><line x1="449.65" y1="1372.6" x2="449.65" y2="1384.6" stroke="#000" stroke-width="1.8"/><line x1="445.15" y1="1372.6" x2="454.15" y2="1372.6" stroke="#000" stroke-width="1.8"/><line x1="449.65" y1="1384.6" x2="449.65" y2="1396.6" stroke="#000" stroke-width="1.8"/><line x1="445.15" y1="1396.6" x2="454.15" y2="1396.6" stroke="#000" stroke-width="1.8"/><line x1="458.4" y1="1395.3" x2="458.4" y2="1411.3" stroke="#000" stroke-width="1.8"/><line x1="453.9" y1="1395.3" x2="462.9" y2="1395.3" stroke="#000" stroke-width="1.8"/><line x1="458.4" y1="1411.3" x2="458.4" y2="1427.3" stroke="#000" stroke-width="1.8"/><line x1="453.9" y1="1427.3" x2="462.9" y2="1427.3" stroke="#000" stroke-width="1.8"/><line x1="467.15" y1="1385.3" x2="467.15" y2="1398.3" stroke="#000" stroke-width="1.8"/><line x1="462.65" y1="1385.3" x2="471.65" y2="1385.3" stroke="#000" stroke-width="1.8"/><line x1="467.15" y1="1398.3" x2="467.15" y2="1411.3" stroke="#000" stroke-width="1.8"/><line x1="462.65" y1="1411.3" x2="471.65" y2="1411.3" stroke="#000" stroke-width="1.8"/><line x1="475.9" y1="1380.8" x2="475.9" y2="1395.8" stroke="#000" stroke-width="1.8"/><line x1="471.4" y1="1380.8" x2="480.4" y2="1380.8" stroke="#000" stroke-width="1.8"/><line x1="475.9" y1="1395.8" x2="475.9" y2="1410.8" stroke="#000" stroke-width="1.8"/><line x1="471.4" y1="1410.8" x2="480.4" y2="1410.8" stroke="#000" stroke-width="1.8"/><line x1="484.65" y1="1389.6" x2="484.65" y2="1402.6" stroke="#000" stroke-width="1.8"/><line x1="480.15" y1="1389.6" x2="489.15" y2="1389.6" stroke="#000" stroke-width="1.8"/><line x1="484.65" y1="1402.6" x2="484.65" y2="1415.6" stroke="#000" stroke-width="1.8"/><line x1="480.15" y1="1415.6" x2="489.15" y2="1415.6" stroke="#000" stroke-width="1.8"/><line x1="493.4" y1="1387.5" x2="493.4" y2="1399.5" stroke="#000" stroke-width="1.8"/><line x1="488.9" y1="1387.5" x2="497.9" y2="1387.5" stroke="#000" stroke-width="1.8"/><line x1="493.4" y1="1399.5" x2="493.4" y2="1411.5" stroke="#000" stroke-width="1.8"/><line x1="488.9" y1="1411.5" x2="497.9" y2="1411.5" stroke="#000" stroke-width="1.8"/><line x1="502.15" y1="1398.2" x2="502.15" y2="1413.2" stroke="#000" stroke-width="1.8"/><line x1="497.65" y1="1398.2" x2="506.65" y2="1398.2" stroke="#000" stroke-width="1.8"/><line x1="502.15" y1="1413.2" x2="502.15" y2="1428.2" stroke="#000" stroke-width="1.8"/><line x1="497.65" y1="1428.2" x2="506.65" y2="1428.2" stroke="#000" stroke-width="1.8"/><line x1="510.9" y1="1383.4" x2="510.9" y2="1396.4" stroke="#000" stroke-width="1.8"/><line x1="506.4" y1="1383.4" x2="515.4" y2="1383.4" stroke="#000" stroke-width="1.8"/><line x1="510.9" y1="1396.4" x2="510.9" y2="1409.4" stroke="#000" stroke-width="1.8"/><line x1="506.4" y1="1409.4" x2="515.4" y2="1409.4" stroke="#000" stroke-width="1.8"/><line x1="519.65" y1="1385.9" x2="519.65" y2="1398.9" stroke="#000" stroke-width="1.8"/><line x1="515.15" y1="1385.9" x2="524.15" y2="1385.9" stroke="#000" stroke-width="1.8"/><line x1="519.65" y1="1398.9" x2="519.65" y2="1411.9" stroke="#000" stroke-width="1.8"/><line x1="515.15" y1="1411.9" x2="524.15" y2="1411.9" stroke="#000" stroke-width="1.8"/><line x1="528.4" y1="1381.3" x2="528.4" y2="1393.3" stroke="#000" stroke-width="1.8"/><line x1="523.9" y1="1381.3" x2="532.9" y2="1381.3" stroke="#000" stroke-width="1.8"/><line x1="528.4" y1="1393.3" x2="528.4" y2="1405.3" stroke="#000" stroke-width="1.8"/><line x1="523.9" y1="1405.3" x2="532.9" y2="1405.3" stroke="#000" stroke-width="1.8"/><line x1="537.15" y1="1387.5" x2="537.15" y2="1399.5" stroke="#000" stroke-width="1.8"/><line x1="532.65" y1="1387.5" x2="541.65" y2="1387.5" stroke="#000" stroke-width="1.8"/><line x1="537.15" y1="1399.5" x2="537.15" y2="1411.5" stroke="#000" stroke-width="1.8"/><line x1="532.65" y1="1411.5" x2="541.65" y2="1411.5" stroke="#000" stroke-width="1.8"/><line x1="545.9" y1="1388" x2="545.9" y2="1401" stroke="#000" stroke-width="1.8"/><line x1="541.4" y1="1388" x2="550.4" y2="1388" stroke="#000" stroke-width="1.8"/><line x1="545.9" y1="1401" x2="545.9" y2="1414" stroke="#000" stroke-width="1.8"/><line x1="541.4" y1="1414" x2="550.4" y2="1414" stroke="#000" stroke-width="1.8"/><line x1="554.65" y1="1395" x2="554.65" y2="1408" stroke="#000" stroke-width="1.8"/><line x1="550.15" y1="1395" x2="559.15" y2="1395" stroke="#000" stroke-width="1.8"/><line x1="554.65" y1="1408" x2="554.65" y2="1421" stroke="#000" stroke-width="1.8"/><line x1="550.15" y1="1421" x2="559.15" y2="1421" stroke="#000" stroke-width="1.8"/><line x1="563.4" y1="1394" x2="563.4" y2="1408" stroke="#000" stroke-width="1.8"/><line x1="558.9" y1="1394" x2="567.9" y2="1394" stroke="#000" stroke-width="1.8"/><line x1="563.4" y1="1408" x2="563.4" y2="1422" stroke="#000" stroke-width="1.8"/><line x1="558.9" y1="1422" x2="567.9" y2="1422" stroke="#000" stroke-width="1.8"/><line x1="572.15" y1="1384.7" x2="572.15" y2="1396.7" stroke="#000" stroke-width="1.8"/><line x1="567.65" y1="1384.7" x2="576.65" y2="1384.7" stroke="#000" stroke-width="1.8"/><line x1="572.15" y1="1396.7" x2="572.15" y2="1408.7" stroke="#000" stroke-width="1.8"/><line x1="567.65" y1="1408.7" x2="576.65" y2="1408.7" stroke="#000" stroke-width="1.8"/><line x1="580.9" y1="1389.3" x2="580.9" y2="1402.3" stroke="#000" stroke-width="1.8"/><line x1="576.4" y1="1389.3" x2="585.4" y2="1389.3" stroke="#000" stroke-width="1.8"/><line x1="580.9" y1="1402.3" x2="580.9" y2="1415.3" stroke="#000" stroke-width="1.8"/><line x1="576.4" y1="1415.3" x2="585.4" y2="1415.3" stroke="#000" stroke-width="1.8"/><line x1="589.65" y1="1380.9" x2="589.65" y2="1393.9" stroke="#000" stroke-width="1.8"/><line x1="585.15" y1="1380.9" x2="594.15" y2="1380.9" stroke="#000" stroke-width="1.8"/><line x1="589.65" y1="1393.9" x2="589.65" y2="1406.9" stroke="#000" stroke-width="1.8"/><line x1="585.15" y1="1406.9" x2="594.15" y2="1406.9" stroke="#000" stroke-width="1.8"/><line x1="598.4" y1="1378.1" x2="598.4" y2="1391.1" stroke="#000" stroke-width="1.8"/><line x1="593.9" y1="1378.1" x2="602.9" y2="1378.1" stroke="#000" stroke-width="1.8"/><line x1="598.4" y1="1391.1" x2="598.4" y2="1404.1" stroke="#000" stroke-width="1.8"/><line x1="593.9" y1="1404.1" x2="602.9" y2="1404.1" stroke="#000" stroke-width="1.8"/><line x1="607.15" y1="1396" x2="607.15" y2="1408" stroke="#000" stroke-width="1.8"/><line x1="602.65" y1="1396" x2="611.65" y2="1396" stroke="#000" stroke-width="1.8"/><line x1="607.15" y1="1408" x2="607.15" y2="1420" stroke="#000" stroke-width="1.8"/><line x1="602.65" y1="1420" x2="611.65" y2="1420" stroke="#000" stroke-width="1.8"/><line x1="615.9" y1="1397.7" x2="615.9" y2="1410.7" stroke="#000" stroke-width="1.8"/><line x1="611.4" y1="1397.7" x2="620.4" y2="1397.7" stroke="#000" stroke-width="1.8"/><line x1="615.9" y1="1410.7" x2="615.9" y2="1423.7" stroke="#000" stroke-width="1.8"/><line x1="611.4" y1="1423.7" x2="620.4" y2="1423.7" stroke="#000" stroke-width="1.8"/><line x1="624.65" y1="1395" x2="624.65" y2="1408" stroke="#000" stroke-width="1.8"/><line x1="620.15" y1="1395" x2="629.15" y2="1395" stroke="#000" stroke-width="1.8"/><line x1="624.65" y1="1408" x2="624.65" y2="1421" stroke="#000" stroke-width="1.8"/><line x1="620.15" y1="1421" x2="629.15" y2="1421" stroke="#000" stroke-width="1.8"/><line x1="633.4" y1="1405.7" x2="633.4" y2="1417.7" stroke="#000" stroke-width="1.8"/><line x1="628.9" y1="1405.7" x2="637.9" y2="1405.7" stroke="#000" stroke-width="1.8"/><line x1="633.4" y1="1417.7" x2="633.4" y2="1429.7" stroke="#000" stroke-width="1.8"/><line x1="628.9" y1="1429.7" x2="637.9" y2="1429.7" stroke="#000" stroke-width="1.8"/><line x1="642.15" y1="1391.1" x2="642.15" y2="1405.1" stroke="#000" stroke-width="1.8"/><line x1="637.65" y1="1391.1" x2="646.65" y2="1391.1" stroke="#000" stroke-width="1.8"/><line x1="642.15" y1="1405.1" x2="642.15" y2="1419.1" stroke="#000" stroke-width="1.8"/><line x1="637.65" y1="1419.1" x2="646.65" y2="1419.1" stroke="#000" stroke-width="1.8"/><line x1="650.9" y1="1387.9" x2="650.9" y2="1400.9" stroke="#000" stroke-width="1.8"/><line x1="646.4" y1="1387.9" x2="655.4" y2="1387.9" stroke="#000" stroke-width="1.8"/><line x1="650.9" y1="1400.9" x2="650.9" y2="1413.9" stroke="#000" stroke-width="1.8"/><line x1="646.4" y1="1413.9" x2="655.4" y2="1413.9" stroke="#000" stroke-width="1.8"/><line x1="659.65" y1="1392.1" x2="659.65" y2="1405.1" stroke="#000" stroke-width="1.8"/><line x1="655.15" y1="1392.1" x2="664.15" y2="1392.1" stroke="#000" stroke-width="1.8"/><line x1="659.65" y1="1405.1" x2="659.65" y2="1418.1" stroke="#000" stroke-width="1.8"/><line x1="655.15" y1="1418.1" x2="664.15" y2="1418.1" stroke="#000" stroke-width="1.8"/><line x1="668.4" y1="1394.3" x2="668.4" y2="1409.3" stroke="#000" stroke-width="1.8"/><line x1="663.9" y1="1394.3" x2="672.9" y2="1394.3" stroke="#000" stroke-width="1.8"/><line x1="668.4" y1="1409.3" x2="668.4" y2="1424.3" stroke="#000" stroke-width="1.8"/><line x1="663.9" y1="1424.3" x2="672.9" y2="1424.3" stroke="#000" stroke-width="1.8"/><circle cx="405.9" cy="1379" r="10" fill="#6a6a6a" stroke="#111" stroke-width="1"/><circle cx="414.65" cy="1403.2" r="10" fill="#6a6a6a" stroke="#111" stroke-width="1"/><circle cx="423.4" cy="1394.5" r="10" fill="#6a6a6a" stroke="#111" stroke-width="1"/><circle cx="432.15" cy="1384.6" r="10" fill="#6a6a6a" stroke="#111" stroke-width="1"/><circle cx="440.9" cy="1382.1" r="10" fill="#6a6a6a" stroke="#111" stroke-width="1"/><circle cx="449.65" cy="1384.6" r="10" fill="#6a6a6a" stroke="#111" stroke-width="1"/><circle cx="458.4" cy="1411.3" r="10" fill="#6a6a6a" stroke="#111" stroke-width="1"/><circle cx="467.15" cy="1398.3" r="10" fill="#6a6a6a" stroke="#111" stroke-width="1"/><circle cx="475.9" cy="1395.8" r="10" fill="#6a6a6a" stroke="#111" stroke-width="1"/><circle cx="484.65" cy="1402.6" r="10" fill="#6a6a6a" stroke="#111" stroke-width="1"/><circle cx="493.4" cy="1399.5" r="10" fill="#6a6a6a" stroke="#111" stroke-width="1"/><circle cx="502.15" cy="1413.2" r="10" fill="#6a6a6a" stroke="#111" stroke-width="1"/><circle cx="510.9" cy="1396.4" r="10" fill="#6a6a6a" stroke="#111" stroke-width="1"/><circle cx="519.65" cy="1398.9" r="10" fill="#6a6a6a" stroke="#111" stroke-width="1"/><circle cx="528.4" cy="1393.3" r="10" fill="#6a6a6a" stroke="#111" stroke-width="1"/><circle cx="537.15" cy="1399.5" r="10" fill="#6a6a6a" stroke="#111" stroke-width="1"/><circle cx="545.9" cy="1401" r="10" fill="#6a6a6a" stroke="#111" stroke-width="1"/><circle cx="554.65" cy="1408" r="10" fill="#6a6a6a" stroke="#111" stroke-width="1"/><circle cx="563.4" cy="1408" r="10" fill="#6a6a6a" stroke="#111" stroke-width="1"/><circle cx="572.15" cy="1396.7" r="10" fill="#6a6a6a" stroke="#111" stroke-width="1"/><circle cx="580.9" cy="1402.3" r="10" fill="#6a6a6a" stroke="#111" stroke-width="1"/><circle cx="589.65" cy="1393.9" r="10" fill="#6a6a6a" stroke="#111" stroke-width="1"/><circle cx="598.4" cy="1391.1" r="10" fill="#6a6a6a" stroke="#111" stroke-width="1"/><circle cx="607.15" cy="1408" r="10" fill="#6a6a6a" stroke="#111" stroke-width="1"/><circle cx="615.9" cy="1410.7" r="10" fill="#6a6a6a" stroke="#111" stroke-width="1"/><circle cx="624.65" cy="1408" r="10" fill="#6a6a6a" stroke="#111" stroke-width="1"/><circle cx="633.4" cy="1417.7" r="10" fill="#6a6a6a" stroke="#111" stroke-width="1"/><circle cx="642.15" cy="1405.1" r="10" fill="#6a6a6a" stroke="#111" stroke-width="1"/><circle cx="650.9" cy="1400.9" r="10" fill="#6a6a6a" stroke="#111" stroke-width="1"/><circle cx="659.65" cy="1405.1" r="10" fill="#6a6a6a" stroke="#111" stroke-width="1"/><circle cx="668.4" cy="1409.3" r="10" fill="#6a6a6a" stroke="#111" stroke-width="1"/>
<line x1="239.6" y1="1263.3" x2="239.6" y2="1504.85" stroke="#000" stroke-width="3.7"/><line x1="224" y1="1312.4" x2="239.6" y2="1312.4" stroke="#000" stroke-width="3.7"/><g transform="translate(196.7 1326.71)"><text x="-68.01" y="0" font-size="45" fill="#000" textLength="69.83" lengthAdjust="spacingAndGlyphs">200</text></g><line x1="224" y1="1407.7" x2="239.6" y2="1407.7" stroke="#000" stroke-width="3.7"/><g transform="translate(196.7 1422.01)"><text x="-68.01" y="0" font-size="45" fill="#000" textLength="69.83" lengthAdjust="spacingAndGlyphs">100</text><rect x="-65.91" y="-4.58" width="8.33" height="5.78" fill="#fff"/><rect x="-53.74" y="-4.58" width="7.91" height="5.78" fill="#fff"/></g><line x1="224" y1="1503" x2="239.6" y2="1503" stroke="#000" stroke-width="3.7"/><g transform="translate(196.7 1517.31)"><text x="-21.55" y="0" font-size="45" fill="#000" textLength="23.28" lengthAdjust="spacingAndGlyphs">0</text></g><line x1="224" y1="1503" x2="677" y2="1503" stroke="#000" stroke-width="3.7"/><line x1="239.6" y1="1503" x2="239.6" y2="1512.5" stroke="#000" stroke-width="3.7"/><g transform="translate(243.9 1572.3)"><text x="-11.61" y="0" font-size="45" fill="#000" textLength="23.28" lengthAdjust="spacingAndGlyphs">0</text></g><line x1="327.1" y1="1503" x2="327.1" y2="1512.5" stroke="#000" stroke-width="3.7"/><g transform="translate(331.4 1572.3)"><text x="-23.96" y="0" font-size="45" fill="#000" textLength="46.55" lengthAdjust="spacingAndGlyphs">10</text><rect x="-21.87" y="-4.58" width="8.33" height="5.78" fill="#fff"/><rect x="-9.69" y="-4.58" width="7.91" height="5.78" fill="#fff"/></g><line x1="414.6" y1="1503" x2="414.6" y2="1512.5" stroke="#000" stroke-width="3.7"/><g transform="translate(418.9 1572.3)"><text x="-23.44" y="0" font-size="45" fill="#000" textLength="46.55" lengthAdjust="spacingAndGlyphs">20</text></g><line x1="502.1" y1="1503" x2="502.1" y2="1512.5" stroke="#000" stroke-width="3.7"/><g transform="translate(506.4 1572.3)"><text x="-23.23" y="0" font-size="45" fill="#000" textLength="46.55" lengthAdjust="spacingAndGlyphs">30</text></g><line x1="589.6" y1="1503" x2="589.6" y2="1512.5" stroke="#000" stroke-width="3.7"/><g transform="translate(593.9 1572.3)"><text x="-22.91" y="0" font-size="45" fill="#000" textLength="46.55" lengthAdjust="spacingAndGlyphs">40</text></g><line x1="677.1" y1="1503" x2="677.1" y2="1512.5" stroke="#000" stroke-width="3.7"/><g transform="translate(681.4 1572.3)"><text x="-23.23" y="0" font-size="45" fill="#000" textLength="46.55" lengthAdjust="spacingAndGlyphs">50</text></g>
<g transform="translate(458.7 1658.2)"><text x="-1.28" y="0" font-size="51.5" fill="#000" textLength="242.43" lengthAdjust="spacingAndGlyphs">Time (min)</text></g>
<g transform="translate(81 1666) rotate(-90)"><text x="-4.06" y="0" font-size="52" fill="#000" textLength="465.37" lengthAdjust="spacingAndGlyphs">EPSC amplitude (%)</text></g>
<g transform="translate(696.1 1348.3)"><text x="-2.18" y="0" font-size="35" fill="#000" textLength="44.45" lengthAdjust="spacingAndGlyphs">(1)</text><rect x="11.75" y="-3.83" width="7.24" height="5.03" fill="#fff"/><rect x="22.33" y="-3.83" width="6.87" height="5.03" fill="#fff"/></g>
<g transform="translate(696.1 1391.7)"><text x="-2.18" y="0" font-size="35" fill="#a6a6a6" textLength="44.45" lengthAdjust="spacingAndGlyphs">(2)</text></g>
<g transform="translate(696.1 1438.3)"><text x="-2.18" y="0" font-size="35" fill="#8c8c8c" textLength="44.45" lengthAdjust="spacingAndGlyphs">(3)</text></g>
<g transform="translate(742.5 1159.7)"><text x="-3.38" y="0" font-size="59.7" fill="#000" textLength="28.15" lengthAdjust="spacingAndGlyphs" stroke="#000" stroke-width="0.6">E</text></g>
<rect x="1057.7" y="1277.1" width="62.4" height="222" fill="#000"/>
<rect x="1160.6" y="1375.7" width="58.9" height="123.4" fill="#c0c0c0" stroke="#000" stroke-width="2.4"/>
<rect x="1259.5" y="1375.7" width="60.2" height="123.4" fill="#606060" stroke="#000" stroke-width="2.4"/>
<circle cx="1087.3" cy="1230.7" r="8" fill="none" stroke="#333" stroke-width="1.6"/>
<circle cx="1087.3" cy="1255" r="8" fill="none" stroke="#333" stroke-width="1.6"/>
<circle cx="1087.3" cy="1264.4" r="8" fill="none" stroke="#333" stroke-width="1.6"/>
<circle cx="1192.3" cy="1355" r="8" fill="none" stroke="#444" stroke-width="1.6"/>
<circle cx="1192.3" cy="1361" r="8" fill="none" stroke="#444" stroke-width="1.6"/>
<circle cx="1192.3" cy="1367" r="8" fill="none" stroke="#444" stroke-width="1.6"/>
<circle cx="1192.3" cy="1376" r="8" fill="none" stroke="#444" stroke-width="1.6"/>
<circle cx="1192.3" cy="1384" r="8" fill="none" stroke="#444" stroke-width="1.6"/>
<circle cx="1192.3" cy="1391" r="8" fill="none" stroke="#444" stroke-width="1.6"/>
<circle cx="1289" cy="1330.8" r="8" fill="none" stroke="#444" stroke-width="1.6"/>
<circle cx="1289" cy="1369" r="8" fill="none" stroke="#444" stroke-width="1.6"/>
<circle cx="1289" cy="1375" r="8" fill="none" stroke="#444" stroke-width="1.6"/>
<circle cx="1289" cy="1381" r="8" fill="none" stroke="#444" stroke-width="1.6"/>
<circle cx="1289" cy="1388" r="8" fill="none" stroke="#444" stroke-width="1.6"/>
<circle cx="1289" cy="1395" r="8" fill="none" stroke="#444" stroke-width="1.6"/>
<circle cx="1289" cy="1401" r="8" fill="none" stroke="#444" stroke-width="1.6"/>
<line x1="1089" y1="1253.7" x2="1089" y2="1277.1" stroke="#000" stroke-width="4.2"/><line x1="1079.5" y1="1253.7" x2="1098.5" y2="1253.7" stroke="#000" stroke-width="4.2"/>
<line x1="1189.7" y1="1368.5" x2="1189.7" y2="1375" stroke="#000" stroke-width="4.2"/><line x1="1180.2" y1="1368.5" x2="1199.2" y2="1368.5" stroke="#000" stroke-width="4.2"/><line x1="1189.7" y1="1375" x2="1189.7" y2="1381.5" stroke="#000" stroke-width="4.2"/><line x1="1180.2" y1="1381.5" x2="1199.2" y2="1381.5" stroke="#000" stroke-width="4.2"/>
<line x1="1289.2" y1="1363.2" x2="1289.2" y2="1375.2" stroke="#000" stroke-width="4.2"/><line x1="1280.2" y1="1363.2" x2="1298.2" y2="1363.2" stroke="#000" stroke-width="4.2"/><line x1="1289.2" y1="1375.2" x2="1289.2" y2="1387.2" stroke="#000" stroke-width="4.2"/><line x1="1280.2" y1="1387.2" x2="1298.2" y2="1387.2" stroke="#000" stroke-width="4.2"/>
<line x1="1038.6" y1="1187.8" x2="1038.6" y2="1500.85" stroke="#000" stroke-width="3.5"/><line x1="1022.6" y1="1249.3" x2="1038.6" y2="1249.3" stroke="#000" stroke-width="3.5"/><g transform="translate(996 1263.61)"><text x="-68.01" y="0" font-size="45" fill="#000" textLength="69.83" lengthAdjust="spacingAndGlyphs">200</text></g><line x1="1022.6" y1="1374.2" x2="1038.6" y2="1374.2" stroke="#000" stroke-width="3.5"/><g transform="translate(996 1388.51)"><text x="-68.01" y="0" font-size="45" fill="#000" textLength="69.83" lengthAdjust="spacingAndGlyphs">100</text><rect x="-65.91" y="-4.58" width="8.33" height="5.78" fill="#fff"/><rect x="-53.74" y="-4.58" width="7.91" height="5.78" fill="#fff"/></g><line x1="1022.6" y1="1499.1" x2="1038.6" y2="1499.1" stroke="#000" stroke-width="3.5"/><g transform="translate(996 1513.41)"><text x="-21.55" y="0" font-size="45" fill="#000" textLength="23.28" lengthAdjust="spacingAndGlyphs">0</text></g><line x1="1022.6" y1="1499.1" x2="1339.7" y2="1499.1" stroke="#000" stroke-width="3.5"/>
<path d="M1091.8 1201.5 H1289.9 V1246.4" fill="none" stroke="#4472c4" stroke-width="1.6"/>
<line x1="1188.4" y1="1202.5" x2="1188.4" y2="1246.4" stroke="#000" stroke-width="1.6"/>
<g transform="translate(1181 1195)"><text x="-0.16" y="0" font-size="32" fill="#000">#</text></g>
<g transform="translate(1281.5 1195)"><text x="-0.16" y="0" font-size="32" fill="#000">#</text></g>
<g transform="translate(822.9 1437.5) rotate(-90)"><text x="-3.97" y="0" font-size="52" fill="#000" textLength="135.22" lengthAdjust="spacingAndGlyphs">EPSC</text></g>
<g transform="translate(881.2 1522.7) rotate(-90)"><text x="-2.29" y="0" font-size="51.5" fill="#000" textLength="314.46" lengthAdjust="spacingAndGlyphs">amplitude (%)</text></g>
<g transform="translate(1110 1534.1) rotate(-45)"><text x="-123.04" y="0" font-size="39" fill="#000">Control</text></g>
<g transform="translate(1128.3 1613.6) rotate(-45)"><text x="-3.24" y="0" font-size="40.5" fill="#000">D-AP5</text></g>
<g transform="translate(1181.4 1660.2) rotate(-45)"><text x="-3.32" y="0" font-size="41.5" fill="#000">MPEP+LY</text></g>
<g transform="translate(5.4 1777.8)"><text x="-3.56" y="0" font-size="59.7" fill="#000" textLength="27.18" lengthAdjust="spacingAndGlyphs" stroke="#000" stroke-width="0.6">F</text></g>
<g transform="translate(132.2 1827.5)"><text x="-1.84" y="0" font-size="36.5" fill="#000" textLength="118.67" lengthAdjust="spacingAndGlyphs">Control</text></g>
<g transform="translate(260.3 1824.3)"><text x="-2.23" y="0" font-size="35" fill="#000" textLength="45.33" lengthAdjust="spacingAndGlyphs">(1)</text><rect x="11.98" y="-3.83" width="7.38" height="5.03" fill="#fff"/><rect x="22.78" y="-3.83" width="7.01" height="5.03" fill="#fff"/></g>
<g transform="translate(622.1 1827.3)"><text x="-1.64" y="0" font-size="36.5" fill="#000">aBAPTA</text></g>
<g transform="translate(791.8 1823.7)"><text x="-2.19" y="0" font-size="35" fill="#a6a6a6" textLength="44.56" lengthAdjust="spacingAndGlyphs">(2)</text></g>
<g transform="translate(1062.3 1828.3)"><text x="-3.35" y="0" font-size="36.5" fill="#000" textLength="103.59" lengthAdjust="spacingAndGlyphs">IP3R2</text></g>
<g transform="translate(1161.7 1819)"><text x="-1.08" y="0" font-size="21" fill="#000" textLength="22.74" lengthAdjust="spacingAndGlyphs">-/-</text></g>
<g transform="translate(1220 1822.3)"><text x="-2.17" y="0" font-size="35" fill="#e00000" textLength="44.22" lengthAdjust="spacingAndGlyphs">(3)</text></g>
<line x1="146.7" y1="2004" x2="440" y2="2004" stroke="#888" stroke-width="1.6" stroke-dasharray="7 4.2"/>
<line x1="440" y1="2004" x2="1101" y2="2004" stroke="#111" stroke-width="1.6" stroke-dasharray="7 4.2"/>
<path d="M60.7 1864.95 L62.77 1864.51 L64.84 1865.87 L66.91 1864.88 L68.97 1866.25 L71.04 1866.3 L73.11 1864.95 L75.18 1865.78 L77.25 1866.48 L79.32 1866.84 L81.38 1866.13 L83.45 1865.96 L85.52 1865.99 L87.59 1867.29 L89.66 1866.23 L91.73 1866.95 L93.79 1866.36 L95.86 1867.1 L97.93 1867.9 L100 1866.71 L102.04 1867.74 L104.08 1867.17 L106.12 1867.7 L108.16 1867.34 L110.19 1866.51 L112.23 1867.5 L114.27 1866.77 L116.31 1865.96 L118.35 1865.86 L120.39 1866.56 L122.43 1866.43 L124.47 1866.12 L126.51 1865.79 L128.54 1866.04 L130.58 1865.92 L132.62 1866.69 L134.66 1865.28 L136.7 1866.4 L139 1866" fill="none" stroke="#000" stroke-width="3.3" stroke-linejoin="round"/><line x1="140.5" y1="1848.3" x2="140.5" y2="1984" stroke="#000" stroke-width="3.7"/><path d="M140.5 1868 L140.64 1870.15 L140.82 1873.24 L141.03 1876.99 L141.26 1881.15 L141.52 1885.46 L141.79 1889.65 L142.08 1893.46 L142.38 1896.63 L142.69 1898.9 L143 1900 L143.33 1899.72 L143.69 1898.21 L144.08 1895.76 L144.48 1892.66 L144.89 1889.21 L145.3 1885.68 L145.69 1882.37 L146.06 1879.58 L146.4 1877.59 L146.7 1876.7 L146.96 1876.77 L147.19 1877.43 L147.39 1878.61 L147.57 1880.22 L147.74 1882.21 L147.89 1884.48 L148.04 1886.97 L148.19 1889.61 L148.34 1892.31 L148.5 1895 L148.65 1897.68 L148.79 1900.42 L148.92 1903.27 L149.04 1906.28 L149.16 1909.47 L149.28 1912.92 L149.43 1916.64 L149.59 1920.7 L149.78 1925.14 L150 1930 L150.26 1935.39 L150.54 1941.31 L150.85 1947.68 L151.19 1954.4 L151.53 1961.38 L151.89 1968.51 L152.25 1975.7 L152.6 1982.86 L152.96 1989.89 L153.3 1996.7 L153.63 2003.42 L153.95 2010.24 L154.26 2017.1 L154.58 2023.98 L154.89 2030.83 L155.22 2037.62 L155.56 2044.29 L155.92 2050.83 L156.29 2057.18 L156.7 2063.3 L157.15 2069.36 L157.64 2075.49 L158.16 2081.61 L158.7 2087.62 L159.25 2093.44 L159.8 2098.98 L160.33 2104.17 L160.83 2108.91 L161.29 2113.11 L161.7 2116.7 L162.05 2119.66 L162.35 2122.07 L162.61 2123.98 L162.85 2125.46 L163.06 2126.56 L163.27 2127.34 L163.49 2127.84 L163.73 2128.13 L163.99 2128.27 L164.3 2128.3 L164.64 2128.15 L164.99 2127.71 L165.37 2127 L165.75 2126.06 L166.15 2124.89 L166.56 2123.54 L166.98 2122.02 L167.41 2120.36 L167.85 2118.58 L168.3 2116.7 L168.75 2114.67 L169.21 2112.43 L169.67 2110.01 L170.15 2107.42 L170.63 2104.71 L171.13 2101.88 L171.64 2098.97 L172.18 2096 L172.73 2093.01 L173.3 2090 L173.9 2086.97 L174.53 2083.87 L175.19 2080.71 L175.86 2077.48 L176.54 2074.79 L177.24 2070.14 L177.94 2068.16 L178.63 2064.28 L179.32 2061.05 L180 2056.32 L180.67 2052.7 L181.34 2048.78 L182.01 2045.78 L182.68 2040.86 L183.36 2036.24 L184.03 2032.17 L184.7 2027.77 L185.37 2023.35 L186.03 2019.61 L186.7 2017.3 L187.35 2012.92 L187.97 2010.9 L188.58 2006.62 L189.18 2003.72 L189.79 2001.31 L190.42 1997.91 L191.07 1995.41 L191.76 1993.58 L192.5 1990.48 L193.3 1987.26 L194.16 1983.67 L195.08 1980.77 L196.05 1977.3 L197.06 1973.03 L198.09 1969.77 L199.14 1965.05 L200.19 1962.86 L201.25 1959.09 L202.28 1956.57 L203.3 1953.56 L204.28 1950.4 L205.25 1947.74 L206.19 1947.29 L207.14 1943.98 L208.09 1942.82 L209.06 1940.85 L210.05 1939 L211.08 1937.94 L212.16 1936.36 L213.3 1932.87 L214.5 1931.13 L215.76 1927.83 L217.07 1925.49 L218.42 1922.31 L219.79 1918.99 L221.18 1916.1 L222.58 1913.39 L223.97 1912.01 L225.35 1908.85 L226.7 1906.2 L228.02 1905.53 L229.31 1903.99 L230.59 1901.46 L231.86 1899.5 L233.14 1898.3 L234.44 1896.92 L235.76 1896.24 L237.12 1894.71 L238.53 1893.9 L240 1892.87 L241.53 1892.39 L243.12 1892.01 L244.76 1890.88 L246.44 1889.46 L248.14 1888.68 L249.86 1888.12 L251.59 1887.11 L253.31 1886.29 L255.02 1885.02 L256.7 1884.6 L258.32 1884.99 L259.86 1882.6 L261.37 1882.38 L262.86 1881.71 L264.37 1881.23 L265.94 1879.2 L267.58 1878.46 L269.34 1877.63 L271.23 1877.18 L273.3 1876.6 L275.68 1876.92 L278.42 1876.19 L281.41 1875.73 L284.53 1873.74 L287.69 1873.34 L290.76 1874.18 L293.63 1874.18 L296.21 1873.13 L298.37 1873.08 L300 1872.7" fill="none" stroke="#000" stroke-width="3.3" stroke-linejoin="round"/><path d="M300 1871.7 L302.12 1872.17 L304.24 1872.94 L306.35 1872.42 L308.47 1872.17 L310.59 1872.1 L312.71 1870.34 L314.83 1869.75 L316.95 1869.54 L319.06 1869.96 L321.18 1869.97 L323.3 1870.18 L325.39 1869.58 L327.48 1869.27 L329.56 1869.34 L331.65 1868.56 L333.74 1868.59 L335.82 1867.4 L337.91 1868.73 L340 1867.47 L342.09 1868.68 L344.18 1867.97 L346.26 1867.12 L348.35 1866.61 L350.44 1866.69 L352.52 1867.3 L354.61 1867.26 L356.7 1865.92 L358.78 1865.69 L360.86 1866.45 L362.94 1866.42 L365.02 1865.88 L367.11 1865.4 L369.19 1866 L371.27 1864.67 L373.35 1865.1 L375.43 1865.27 L377.51 1866.12 L379.59 1865.34 L381.68 1865.67 L383.76 1864.7 L385.84 1864.07 L387.92 1863.94 L390 1865.22 L392.02 1864.8 L394.03 1864.09 L396.05 1863.61 L398.06 1864.65 L400.08 1865.1 L402.09 1864.68 L404.11 1864.44 L406.13 1865.35 L408.14 1865.96 L410.16 1864.65 L412.17 1864.35 L414.19 1865.05 L416.21 1865.3 L418.22 1865.92 L420.24 1865.04 L422.25 1866.33 L424.27 1866.3 L426.28 1865.92 L428.3 1866" fill="none" stroke="#000" stroke-width="3.3" stroke-linejoin="round"/>
<path d="M540 1856.83 L542 1858.09 L544 1857.07 L546 1857.92 L548 1857.01 L550 1857.03 L552 1857.93 L554 1857.22 L556 1858.3 L558 1857.61 L560 1857.15 L562 1857.24 L564 1857.59 L566 1858.02 L568 1858.51 L570 1857.26 L572 1857.69 L574 1857.44 L576 1858.69 L578 1857.39 L580 1857.28 L582.08 1857.31 L584.16 1857.87 L586.24 1858.69 L588.33 1858.69 L590.41 1858.47 L592.49 1858.91 L594.57 1858.82 L596.65 1857.88 L598.73 1857.67 L600.81 1858.88 L602.89 1858.6 L604.97 1857.48 L607.06 1858.51 L609.14 1858.07 L611.22 1858.08 L613.3 1858.03 L617 1858.5" fill="none" stroke="#c0c0c0" stroke-width="3.3" stroke-linejoin="round"/><line x1="618.3" y1="1841" x2="618.3" y2="1930.7" stroke="#c0c0c0" stroke-width="3.7"/><path d="M619 1860 L619.15 1861.71 L619.34 1864.2 L619.56 1867.24 L619.81 1870.6 L620.07 1874.06 L620.36 1877.4 L620.65 1880.39 L620.94 1882.8 L621.23 1884.41 L621.5 1885 L621.77 1884.32 L622.05 1882.48 L622.34 1879.76 L622.63 1876.44 L622.92 1872.81 L623.21 1869.16 L623.49 1865.77 L623.77 1862.92 L624.04 1860.9 L624.3 1860 L624.54 1860.13 L624.76 1860.96 L624.96 1862.38 L625.16 1864.28 L625.36 1866.56 L625.56 1869.12 L625.76 1871.85 L625.99 1874.64 L626.23 1877.39 L626.5 1880 L626.79 1882.51 L627.09 1885.04 L627.41 1887.63 L627.73 1890.32 L628.08 1893.12 L628.43 1896.08 L628.8 1899.21 L629.18 1902.56 L629.58 1906.14 L630 1910 L630.43 1914.21 L630.88 1918.8 L631.34 1923.69 L631.81 1928.8 L632.3 1934.06 L632.81 1939.4 L633.33 1944.74 L633.87 1950 L634.42 1955.11 L635 1960 L635.59 1964.96 L636.21 1970.23 L636.83 1975.65 L637.48 1981.08 L638.14 1986.36 L638.82 1991.32 L639.52 1995.82 L640.23 1999.71 L640.96 2002.82 L641.7 2005 L642.44 2006.19 L643.18 2006.53 L643.91 2006.13 L644.66 2005.12 L645.44 2003.62 L646.24 2001.77 L647.09 1999.69 L647.99 1997.5 L648.96 1995.33 L650 1993.3 L651.11 1991.26 L652.29 1988.99 L653.52 1986.52 L654.8 1983.3 L656.12 1980.25 L657.5 1977.9 L658.9 1975.13 L660.34 1973.3 L661.81 1968.89 L663.3 1967.54 L664.82 1963.31 L666.37 1960.66 L667.96 1958.53 L669.58 1955.52 L671.23 1951.79 L672.92 1948.05 L674.64 1945.76 L676.39 1942.53 L678.18 1940.47 L680 1936.15 L681.85 1933.42 L683.74 1931.28 L685.65 1926.59 L687.6 1924.14 L689.59 1921.74 L691.6 1918.58 L693.65 1914.26 L695.74 1911.33 L697.85 1908.58 L700 1907.46 L702.18 1903.73 L704.39 1902.19 L706.64 1900.14 L708.92 1896.89 L711.23 1894.61 L713.58 1893.75 L715.96 1891.09 L718.37 1888.46 L720.82 1887.32 L723.3 1884.67 L725.8 1882.69 L728.32 1880.33 L730.85 1879.85 L733.42 1878.35 L736.02 1876.12 L738.68 1875.01 L741.4 1871.75 L744.18 1870.61 L747.05 1869.6 L750 1869.12 L753.21 1867.85 L756.77 1865.61 L760.55 1864.23 L764.44 1863.47 L768.32 1862.59 L772.06 1862.47 L775.55 1860.3 L778.67 1860.69 L781.29 1859.95 L783.3 1859" fill="none" stroke="#c0c0c0" stroke-width="3.3" stroke-linejoin="round"/><path d="M783.3 1859.65 L785.39 1859.36 L787.47 1858.84 L789.56 1858.09 L791.65 1857.89 L793.74 1857.79 L795.83 1858.44 L797.91 1856.85 L800 1856.89 L802.09 1857.82 L804.17 1856.62 L806.26 1856.07 L808.35 1855.82 L810.44 1856.67 L812.53 1856.03 L814.61 1857.15 L816.7 1856.77 L818.78 1856.81 L820.86 1855.19 L822.94 1854.66 L825.03 1854.52 L827.11 1855.15 L829.19 1855.41 L831.27 1854.71 L833.35 1854.12 L835.43 1854.31 L837.51 1854.55 L839.59 1854.49 L841.67 1854.47 L843.76 1854.5 L845.84 1853.97 L847.92 1852.71 L850 1853.98 L852.03 1852.92 L854.06 1853.49 L856.09 1853.14 L858.12 1853.9 L860.15 1852.85 L862.18 1852.98 L864.21 1853 L866.24 1852.85 L868.27 1854.34 L870.3 1853.76 L872.33 1853.29 L874.37 1853.46 L876.4 1854.68 L878.43 1853.74 L880.46 1853.22 L882.49 1854.4 L884.52 1854.12 L886.55 1854.83 L888.58 1853.08 L890.61 1853.86 L892.64 1854.58 L894.67 1854.65 L896.7 1854" fill="none" stroke="#c0c0c0" stroke-width="3.3" stroke-linejoin="round"/>
<path d="M979 1861.66 L981.05 1860.31 L983.1 1860.77 L985.15 1860.54 L987.2 1860.7 L989.25 1862.01 L991.3 1861.43 L993.35 1862.04 L995.4 1861.2 L997.45 1862.04 L999.5 1861.42 L1001.55 1861.17 L1003.6 1862.04 L1005.65 1862.36 L1007.7 1861.07 L1009.75 1861.9 L1011.8 1861.99 L1013.85 1861.4 L1015.9 1861.69 L1017.95 1861.38 L1020 1861.53 L1022.02 1861.55 L1024.04 1862.03 L1026.06 1862.06 L1028.08 1861.28 L1030.09 1860.91 L1032.11 1861.35 L1034.13 1861.85 L1036.15 1861 L1038.17 1861.14 L1040.19 1860.9 L1042.21 1861.78 L1044.22 1861.33 L1046.24 1860.49 L1048.26 1860.49 L1050.28 1860.89 L1052.3 1861.08 L1055 1861" fill="none" stroke="#ff0000" stroke-width="3.3" stroke-linejoin="round"/><line x1="1055.7" y1="1837.3" x2="1055.7" y2="1952.7" stroke="#ff0000" stroke-width="3.7"/><path d="M1057 1864 L1057.15 1866.11 L1057.34 1869.16 L1057.56 1872.89 L1057.81 1877.01 L1058.08 1881.27 L1058.36 1885.38 L1058.65 1889.08 L1058.94 1892.1 L1059.23 1894.16 L1059.5 1895 L1059.77 1894.36 L1060.05 1892.39 L1060.34 1889.4 L1060.63 1885.71 L1060.92 1881.64 L1061.21 1877.51 L1061.49 1873.63 L1061.77 1870.33 L1062.04 1867.91 L1062.3 1866.7 L1062.54 1866.61 L1062.77 1867.27 L1062.99 1868.55 L1063.19 1870.34 L1063.4 1872.52 L1063.61 1874.96 L1063.81 1877.55 L1064.03 1880.17 L1064.26 1882.69 L1064.5 1885 L1064.75 1887.09 L1064.99 1889.06 L1065.23 1891.01 L1065.47 1893 L1065.72 1895.1 L1065.99 1897.4 L1066.28 1899.96 L1066.59 1902.86 L1066.93 1906.19 L1067.3 1910 L1067.7 1914.49 L1068.12 1919.7 L1068.55 1925.44 L1069.01 1931.55 L1069.49 1937.88 L1070 1944.23 L1070.53 1950.46 L1071.09 1956.4 L1071.68 1961.86 L1072.3 1966.7 L1072.95 1971.12 L1073.65 1975.43 L1074.37 1979.57 L1075.12 1983.49 L1075.9 1987.13 L1076.7 1990.43 L1077.51 1993.36 L1078.33 1995.85 L1079.17 1997.85 L1080 1999.3 L1080.83 2000.16 L1081.65 2000.45 L1082.47 2000.24 L1083.3 1999.59 L1084.15 1998.56 L1085.03 1997.22 L1085.94 1995.63 L1086.9 1993.86 L1087.92 1991.96 L1089 1990 L1090.14 1987.82 L1091.33 1985.27 L1092.57 1982.67 L1093.85 1978.6 L1095.17 1975.48 L1096.53 1973.11 L1097.92 1969.25 L1099.35 1965.73 L1100.81 1962.61 L1102.3 1960.82 L1103.82 1956.86 L1105.37 1954.57 L1106.96 1951.49 L1108.58 1948.93 L1110.23 1947.09 L1111.92 1944.71 L1113.64 1940.95 L1115.39 1938.04 L1117.18 1936.36 L1119 1932.77 L1120.82 1929.73 L1122.63 1928.65 L1124.44 1925.07 L1126.28 1923.08 L1128.17 1919.62 L1130.12 1917.79 L1132.16 1914.37 L1134.31 1911.21 L1136.58 1908.36 L1139 1906.79 L1141.58 1904.44 L1144.31 1902.39 L1147.16 1898.39 L1150.12 1896.84 L1153.17 1893.94 L1156.28 1891.79 L1159.44 1888.84 L1162.63 1886.89 L1165.82 1885.25 L1169 1884.07 L1172.2 1880.82 L1175.45 1879.85 L1178.74 1878.88 L1182.08 1877.73 L1185.44 1875 L1188.81 1873.62 L1192.2 1873.91 L1195.58 1872.87 L1198.95 1870.95 L1202.3 1869.2 L1205.79 1869.86 L1209.51 1868.08 L1213.36 1868.28 L1217.26 1867.12 L1221.08 1866.9 L1224.74 1865.19 L1228.13 1865.87 L1231.16 1864.45 L1233.71 1864.43 L1235.7 1864.3" fill="none" stroke="#ff0000" stroke-width="3.3" stroke-linejoin="round"/><path d="M1235.7 1864.99 L1237.78 1864.69 L1239.86 1863.13 L1241.94 1862.93 L1244.03 1863.02 L1246.11 1862.99 L1248.19 1862.45 L1250.27 1861.66 L1252.35 1861.64 L1254.43 1862.33 L1256.51 1862.41 L1258.59 1860.43 L1260.67 1861.2 L1262.76 1861.32 L1264.84 1859.61 L1266.92 1860.95 L1269 1859.24 L1271.02 1860.12 L1273.04 1859.94 L1275.06 1860.01 L1277.08 1859.29 L1279.11 1859.43 L1281.13 1859.67 L1283.15 1859.28 L1285.17 1859.66 L1287.19 1859.16 L1289.21 1859.06 L1291.23 1858.15 L1293.25 1859.26 L1295.28 1858.92 L1297.3 1858.33 L1299.32 1859.3 L1301.34 1859.25 L1303.36 1858.53 L1305.38 1857.89 L1307.4 1858.39 L1309.42 1857.58 L1311.45 1857.54 L1313.47 1858.06 L1315.49 1857.3 L1317.51 1857.92 L1319.53 1857.97 L1321.55 1856.95 L1323.57 1858.06 L1325.59 1856.87 L1327.62 1858.09 L1329.64 1858.1 L1331.66 1857.49 L1333.68 1856.49 L1335.7 1857.3" fill="none" stroke="#ff0000" stroke-width="3.3" stroke-linejoin="round"/>
<path d="M1231.7 1936 V1986.7 H1285" fill="none" stroke="#333" stroke-width="1.6"/>
<g transform="translate(3.1 2185.7)"><text x="-2.55" y="0" font-size="59.7" fill="#000" textLength="39.66" lengthAdjust="spacingAndGlyphs" stroke="#000" stroke-width="0.6">G</text></g>
<circle cx="234.3" cy="2243.3" r="9.3" fill="#000"/>
<g transform="translate(257.3 2253.5)"><text x="-1.57" y="0" font-size="31.5" fill="#000">Control</text></g>
<circle cx="386.9" cy="2243.1" r="7.2" fill="#fff" stroke="#000" stroke-width="1.5"/>
<g transform="translate(402.1 2254)"><text x="-1.47" y="0" font-size="31.5" fill="#000" textLength="123.1" lengthAdjust="spacingAndGlyphs">aBAPTA</text></g>
<circle cx="550" cy="2244.5" r="9.5" fill="#ff0000"/>
<g transform="translate(568.5 2256)"><text x="-2.95" y="0" font-size="31.5" fill="#000" textLength="91.07" lengthAdjust="spacingAndGlyphs">IP3R2</text></g>
<g transform="translate(655.6 2247)"><text x="-1.07" y="0" font-size="19" fill="#000" textLength="22.52" lengthAdjust="spacingAndGlyphs">-/-</text></g>
<g transform="translate(321.7 2305)"><text x="-1.59" y="0" font-size="36" fill="#000" textLength="94.02" lengthAdjust="spacingAndGlyphs">STDP</text></g>
<path d="M351.5 2318.7 L367 2318.7 L367 2335.5 L376 2335.5 L359.2 2353.4 L342.4 2335.5 L351.5 2335.5Z" fill="#c00000"/>
<line x1="337.5" y1="2436.2" x2="412" y2="2436.2" stroke="#808080" stroke-width="1.6" stroke-dasharray="35 13"/>
<circle cx="236.8" cy="2433.48" r="10" fill="#000" stroke="#000" stroke-width="1"/><circle cx="247" cy="2439.52" r="10" fill="#000" stroke="#000" stroke-width="1"/><circle cx="256.4" cy="2445.56" r="10" fill="#000" stroke="#000" stroke-width="1"/><circle cx="266.6" cy="2437.51" r="10" fill="#000" stroke="#000" stroke-width="1"/><circle cx="274.1" cy="2433.48" r="10" fill="#000" stroke="#000" stroke-width="1"/><circle cx="281.5" cy="2439.52" r="10" fill="#000" stroke="#000" stroke-width="1"/><circle cx="290.9" cy="2435.5" r="10" fill="#000" stroke="#000" stroke-width="1"/><circle cx="300.2" cy="2418.99" r="10" fill="#000" stroke="#000" stroke-width="1"/><circle cx="310.4" cy="2424.43" r="10" fill="#000" stroke="#000" stroke-width="1"/><circle cx="319.3" cy="2443.55" r="10" fill="#000" stroke="#000" stroke-width="1"/>
<line x1="406.5" y1="2390.29" x2="406.5" y2="2402.29" stroke="#000" stroke-width="1.8"/><line x1="402" y1="2390.29" x2="411" y2="2390.29" stroke="#000" stroke-width="1.8"/><line x1="406.5" y1="2402.29" x2="406.5" y2="2414.29" stroke="#000" stroke-width="1.8"/><line x1="402" y1="2414.29" x2="411" y2="2414.29" stroke="#000" stroke-width="1.8"/><line x1="415.2" y1="2390.28" x2="415.2" y2="2400.28" stroke="#000" stroke-width="1.8"/><line x1="410.7" y1="2390.28" x2="419.7" y2="2390.28" stroke="#000" stroke-width="1.8"/><line x1="415.2" y1="2400.28" x2="415.2" y2="2410.28" stroke="#000" stroke-width="1.8"/><line x1="410.7" y1="2410.28" x2="419.7" y2="2410.28" stroke="#000" stroke-width="1.8"/><line x1="423.9" y1="2388.26" x2="423.9" y2="2398.26" stroke="#000" stroke-width="1.8"/><line x1="419.4" y1="2388.26" x2="428.4" y2="2388.26" stroke="#000" stroke-width="1.8"/><line x1="423.9" y1="2398.26" x2="423.9" y2="2408.26" stroke="#000" stroke-width="1.8"/><line x1="419.4" y1="2408.26" x2="428.4" y2="2408.26" stroke="#000" stroke-width="1.8"/><line x1="432.6" y1="2386.25" x2="432.6" y2="2396.25" stroke="#000" stroke-width="1.8"/><line x1="428.1" y1="2386.25" x2="437.1" y2="2386.25" stroke="#000" stroke-width="1.8"/><line x1="432.6" y1="2396.25" x2="432.6" y2="2406.25" stroke="#000" stroke-width="1.8"/><line x1="428.1" y1="2406.25" x2="437.1" y2="2406.25" stroke="#000" stroke-width="1.8"/><line x1="441.3" y1="2388.27" x2="441.3" y2="2399.27" stroke="#000" stroke-width="1.8"/><line x1="436.8" y1="2388.27" x2="445.8" y2="2388.27" stroke="#000" stroke-width="1.8"/><line x1="441.3" y1="2399.27" x2="441.3" y2="2410.27" stroke="#000" stroke-width="1.8"/><line x1="436.8" y1="2410.27" x2="445.8" y2="2410.27" stroke="#000" stroke-width="1.8"/><line x1="450" y1="2384.24" x2="450" y2="2395.24" stroke="#000" stroke-width="1.8"/><line x1="445.5" y1="2384.24" x2="454.5" y2="2384.24" stroke="#000" stroke-width="1.8"/><line x1="450" y1="2395.24" x2="450" y2="2406.24" stroke="#000" stroke-width="1.8"/><line x1="445.5" y1="2406.24" x2="454.5" y2="2406.24" stroke="#000" stroke-width="1.8"/><line x1="458.7" y1="2379.22" x2="458.7" y2="2391.22" stroke="#000" stroke-width="1.8"/><line x1="454.2" y1="2379.22" x2="463.2" y2="2379.22" stroke="#000" stroke-width="1.8"/><line x1="458.7" y1="2391.22" x2="458.7" y2="2403.22" stroke="#000" stroke-width="1.8"/><line x1="454.2" y1="2403.22" x2="463.2" y2="2403.22" stroke="#000" stroke-width="1.8"/><line x1="467.4" y1="2369.17" x2="467.4" y2="2383.17" stroke="#000" stroke-width="1.8"/><line x1="462.9" y1="2369.17" x2="471.9" y2="2369.17" stroke="#000" stroke-width="1.8"/><line x1="467.4" y1="2383.17" x2="467.4" y2="2397.17" stroke="#000" stroke-width="1.8"/><line x1="462.9" y1="2397.17" x2="471.9" y2="2397.17" stroke="#000" stroke-width="1.8"/><line x1="476.1" y1="2362.43" x2="476.1" y2="2376.43" stroke="#000" stroke-width="1.8"/><line x1="471.6" y1="2362.43" x2="480.6" y2="2362.43" stroke="#000" stroke-width="1.8"/><line x1="476.1" y1="2376.43" x2="476.1" y2="2390.43" stroke="#000" stroke-width="1.8"/><line x1="471.6" y1="2390.43" x2="480.6" y2="2390.43" stroke="#000" stroke-width="1.8"/><line x1="484.8" y1="2367.46" x2="484.8" y2="2381.46" stroke="#000" stroke-width="1.8"/><line x1="480.3" y1="2367.46" x2="489.3" y2="2367.46" stroke="#000" stroke-width="1.8"/><line x1="484.8" y1="2381.46" x2="484.8" y2="2395.46" stroke="#000" stroke-width="1.8"/><line x1="480.3" y1="2395.46" x2="489.3" y2="2395.46" stroke="#000" stroke-width="1.8"/><line x1="493.5" y1="2368.06" x2="493.5" y2="2382.06" stroke="#000" stroke-width="1.8"/><line x1="489" y1="2368.06" x2="498" y2="2368.06" stroke="#000" stroke-width="1.8"/><line x1="493.5" y1="2382.06" x2="493.5" y2="2396.06" stroke="#000" stroke-width="1.8"/><line x1="489" y1="2396.06" x2="498" y2="2396.06" stroke="#000" stroke-width="1.8"/><line x1="502.2" y1="2344.76" x2="502.2" y2="2365.76" stroke="#000" stroke-width="1.8"/><line x1="497.7" y1="2344.76" x2="506.7" y2="2344.76" stroke="#000" stroke-width="1.8"/><line x1="502.2" y1="2365.76" x2="502.2" y2="2386.76" stroke="#000" stroke-width="1.8"/><line x1="497.7" y1="2386.76" x2="506.7" y2="2386.76" stroke="#000" stroke-width="1.8"/><line x1="510.9" y1="2366.75" x2="510.9" y2="2380.75" stroke="#000" stroke-width="1.8"/><line x1="506.4" y1="2366.75" x2="515.4" y2="2366.75" stroke="#000" stroke-width="1.8"/><line x1="510.9" y1="2380.75" x2="510.9" y2="2394.75" stroke="#000" stroke-width="1.8"/><line x1="506.4" y1="2394.75" x2="515.4" y2="2394.75" stroke="#000" stroke-width="1.8"/><line x1="519.6" y1="2368.06" x2="519.6" y2="2382.06" stroke="#000" stroke-width="1.8"/><line x1="515.1" y1="2368.06" x2="524.1" y2="2368.06" stroke="#000" stroke-width="1.8"/><line x1="519.6" y1="2382.06" x2="519.6" y2="2396.06" stroke="#000" stroke-width="1.8"/><line x1="515.1" y1="2396.06" x2="524.1" y2="2396.06" stroke="#000" stroke-width="1.8"/><line x1="528.3" y1="2338.16" x2="528.3" y2="2365.16" stroke="#000" stroke-width="1.8"/><line x1="523.8" y1="2338.16" x2="532.8" y2="2338.16" stroke="#000" stroke-width="1.8"/><line x1="528.3" y1="2365.16" x2="528.3" y2="2392.16" stroke="#000" stroke-width="1.8"/><line x1="523.8" y1="2392.16" x2="532.8" y2="2392.16" stroke="#000" stroke-width="1.8"/><line x1="537" y1="2367.46" x2="537" y2="2381.46" stroke="#000" stroke-width="1.8"/><line x1="532.5" y1="2367.46" x2="541.5" y2="2367.46" stroke="#000" stroke-width="1.8"/><line x1="537" y1="2381.46" x2="537" y2="2395.46" stroke="#000" stroke-width="1.8"/><line x1="532.5" y1="2395.46" x2="541.5" y2="2395.46" stroke="#000" stroke-width="1.8"/><line x1="545.7" y1="2365.15" x2="545.7" y2="2380.15" stroke="#000" stroke-width="1.8"/><line x1="541.2" y1="2365.15" x2="550.2" y2="2365.15" stroke="#000" stroke-width="1.8"/><line x1="545.7" y1="2380.15" x2="545.7" y2="2395.15" stroke="#000" stroke-width="1.8"/><line x1="541.2" y1="2395.15" x2="550.2" y2="2395.15" stroke="#000" stroke-width="1.8"/><line x1="554.4" y1="2358.12" x2="554.4" y2="2375.12" stroke="#000" stroke-width="1.8"/><line x1="549.9" y1="2358.12" x2="558.9" y2="2358.12" stroke="#000" stroke-width="1.8"/><line x1="554.4" y1="2375.12" x2="554.4" y2="2392.12" stroke="#000" stroke-width="1.8"/><line x1="549.9" y1="2392.12" x2="558.9" y2="2392.12" stroke="#000" stroke-width="1.8"/><line x1="563.1" y1="2364.75" x2="563.1" y2="2379.75" stroke="#000" stroke-width="1.8"/><line x1="558.6" y1="2364.75" x2="567.6" y2="2364.75" stroke="#000" stroke-width="1.8"/><line x1="563.1" y1="2379.75" x2="563.1" y2="2394.75" stroke="#000" stroke-width="1.8"/><line x1="558.6" y1="2394.75" x2="567.6" y2="2394.75" stroke="#000" stroke-width="1.8"/><line x1="571.8" y1="2360.52" x2="571.8" y2="2375.52" stroke="#000" stroke-width="1.8"/><line x1="567.3" y1="2360.52" x2="576.3" y2="2360.52" stroke="#000" stroke-width="1.8"/><line x1="571.8" y1="2375.52" x2="571.8" y2="2390.52" stroke="#000" stroke-width="1.8"/><line x1="567.3" y1="2390.52" x2="576.3" y2="2390.52" stroke="#000" stroke-width="1.8"/><line x1="580.5" y1="2359.11" x2="580.5" y2="2374.11" stroke="#000" stroke-width="1.8"/><line x1="576" y1="2359.11" x2="585" y2="2359.11" stroke="#000" stroke-width="1.8"/><line x1="580.5" y1="2374.11" x2="580.5" y2="2389.11" stroke="#000" stroke-width="1.8"/><line x1="576" y1="2389.11" x2="585" y2="2389.11" stroke="#000" stroke-width="1.8"/><line x1="589.2" y1="2355.59" x2="589.2" y2="2370.59" stroke="#000" stroke-width="1.8"/><line x1="584.7" y1="2355.59" x2="593.7" y2="2355.59" stroke="#000" stroke-width="1.8"/><line x1="589.2" y1="2370.59" x2="589.2" y2="2385.59" stroke="#000" stroke-width="1.8"/><line x1="584.7" y1="2385.59" x2="593.7" y2="2385.59" stroke="#000" stroke-width="1.8"/><line x1="597.9" y1="2368.56" x2="597.9" y2="2382.56" stroke="#000" stroke-width="1.8"/><line x1="593.4" y1="2368.56" x2="602.4" y2="2368.56" stroke="#000" stroke-width="1.8"/><line x1="597.9" y1="2382.56" x2="597.9" y2="2396.56" stroke="#000" stroke-width="1.8"/><line x1="593.4" y1="2396.56" x2="602.4" y2="2396.56" stroke="#000" stroke-width="1.8"/><line x1="606.6" y1="2360.52" x2="606.6" y2="2375.52" stroke="#000" stroke-width="1.8"/><line x1="602.1" y1="2360.52" x2="611.1" y2="2360.52" stroke="#000" stroke-width="1.8"/><line x1="606.6" y1="2375.52" x2="606.6" y2="2390.52" stroke="#000" stroke-width="1.8"/><line x1="602.1" y1="2390.52" x2="611.1" y2="2390.52" stroke="#000" stroke-width="1.8"/><line x1="615.3" y1="2366.16" x2="615.3" y2="2381.16" stroke="#000" stroke-width="1.8"/><line x1="610.8" y1="2366.16" x2="619.8" y2="2366.16" stroke="#000" stroke-width="1.8"/><line x1="615.3" y1="2381.16" x2="615.3" y2="2396.16" stroke="#000" stroke-width="1.8"/><line x1="610.8" y1="2396.16" x2="619.8" y2="2396.16" stroke="#000" stroke-width="1.8"/><line x1="624" y1="2365.75" x2="624" y2="2379.75" stroke="#000" stroke-width="1.8"/><line x1="619.5" y1="2365.75" x2="628.5" y2="2365.75" stroke="#000" stroke-width="1.8"/><line x1="624" y1="2379.75" x2="624" y2="2393.75" stroke="#000" stroke-width="1.8"/><line x1="619.5" y1="2393.75" x2="628.5" y2="2393.75" stroke="#000" stroke-width="1.8"/><line x1="632.7" y1="2361.52" x2="632.7" y2="2375.52" stroke="#000" stroke-width="1.8"/><line x1="628.2" y1="2361.52" x2="637.2" y2="2361.52" stroke="#000" stroke-width="1.8"/><line x1="632.7" y1="2375.52" x2="632.7" y2="2389.52" stroke="#000" stroke-width="1.8"/><line x1="628.2" y1="2389.52" x2="637.2" y2="2389.52" stroke="#000" stroke-width="1.8"/><line x1="641.4" y1="2349.84" x2="641.4" y2="2362.84" stroke="#000" stroke-width="1.8"/><line x1="636.9" y1="2349.84" x2="645.9" y2="2349.84" stroke="#000" stroke-width="1.8"/><line x1="641.4" y1="2362.84" x2="641.4" y2="2375.84" stroke="#000" stroke-width="1.8"/><line x1="636.9" y1="2375.84" x2="645.9" y2="2375.84" stroke="#000" stroke-width="1.8"/><line x1="650.1" y1="2361.93" x2="650.1" y2="2376.93" stroke="#000" stroke-width="1.8"/><line x1="645.6" y1="2361.93" x2="654.6" y2="2361.93" stroke="#000" stroke-width="1.8"/><line x1="650.1" y1="2376.93" x2="650.1" y2="2391.93" stroke="#000" stroke-width="1.8"/><line x1="645.6" y1="2391.93" x2="654.6" y2="2391.93" stroke="#000" stroke-width="1.8"/><line x1="658.8" y1="2360.52" x2="658.8" y2="2375.52" stroke="#000" stroke-width="1.8"/><line x1="654.3" y1="2360.52" x2="663.3" y2="2360.52" stroke="#000" stroke-width="1.8"/><line x1="658.8" y1="2375.52" x2="658.8" y2="2390.52" stroke="#000" stroke-width="1.8"/><line x1="654.3" y1="2390.52" x2="663.3" y2="2390.52" stroke="#000" stroke-width="1.8"/><line x1="667.5" y1="2358.7" x2="667.5" y2="2372.7" stroke="#000" stroke-width="1.8"/><line x1="663" y1="2358.7" x2="672" y2="2358.7" stroke="#000" stroke-width="1.8"/><line x1="667.5" y1="2372.7" x2="667.5" y2="2386.7" stroke="#000" stroke-width="1.8"/><line x1="663" y1="2386.7" x2="672" y2="2386.7" stroke="#000" stroke-width="1.8"/><circle cx="406.5" cy="2402.29" r="10" fill="#000" stroke="#000" stroke-width="1"/><circle cx="415.2" cy="2400.28" r="10" fill="#000" stroke="#000" stroke-width="1"/><circle cx="423.9" cy="2398.26" r="10" fill="#000" stroke="#000" stroke-width="1"/><circle cx="432.6" cy="2396.25" r="10" fill="#000" stroke="#000" stroke-width="1"/><circle cx="441.3" cy="2399.27" r="10" fill="#000" stroke="#000" stroke-width="1"/><circle cx="450" cy="2395.24" r="10" fill="#000" stroke="#000" stroke-width="1"/><circle cx="458.7" cy="2391.22" r="10" fill="#000" stroke="#000" stroke-width="1"/><circle cx="467.4" cy="2383.17" r="10" fill="#000" stroke="#000" stroke-width="1"/><circle cx="476.1" cy="2376.43" r="10" fill="#000" stroke="#000" stroke-width="1"/><circle cx="484.8" cy="2381.46" r="10" fill="#000" stroke="#000" stroke-width="1"/><circle cx="493.5" cy="2382.06" r="10" fill="#000" stroke="#000" stroke-width="1"/><circle cx="502.2" cy="2365.76" r="10" fill="#000" stroke="#000" stroke-width="1"/><circle cx="510.9" cy="2380.75" r="10" fill="#000" stroke="#000" stroke-width="1"/><circle cx="519.6" cy="2382.06" r="10" fill="#000" stroke="#000" stroke-width="1"/><circle cx="528.3" cy="2365.16" r="10" fill="#000" stroke="#000" stroke-width="1"/><circle cx="537" cy="2381.46" r="10" fill="#000" stroke="#000" stroke-width="1"/><circle cx="545.7" cy="2380.15" r="10" fill="#000" stroke="#000" stroke-width="1"/><circle cx="554.4" cy="2375.12" r="10" fill="#000" stroke="#000" stroke-width="1"/><circle cx="563.1" cy="2379.75" r="10" fill="#000" stroke="#000" stroke-width="1"/><circle cx="571.8" cy="2375.52" r="10" fill="#000" stroke="#000" stroke-width="1"/><circle cx="580.5" cy="2374.11" r="10" fill="#000" stroke="#000" stroke-width="1"/><circle cx="589.2" cy="2370.59" r="10" fill="#000" stroke="#000" stroke-width="1"/><circle cx="597.9" cy="2382.56" r="10" fill="#000" stroke="#000" stroke-width="1"/><circle cx="606.6" cy="2375.52" r="10" fill="#000" stroke="#000" stroke-width="1"/><circle cx="615.3" cy="2381.16" r="10" fill="#000" stroke="#000" stroke-width="1"/><circle cx="624" cy="2379.75" r="10" fill="#000" stroke="#000" stroke-width="1"/><circle cx="632.7" cy="2375.52" r="10" fill="#000" stroke="#000" stroke-width="1"/><circle cx="641.4" cy="2362.84" r="10" fill="#000" stroke="#000" stroke-width="1"/><circle cx="650.1" cy="2376.93" r="10" fill="#000" stroke="#000" stroke-width="1"/><circle cx="658.8" cy="2375.52" r="10" fill="#000" stroke="#000" stroke-width="1"/><circle cx="667.5" cy="2372.7" r="10" fill="#000" stroke="#000" stroke-width="1"/>
<circle cx="236.8" cy="2429.8" r="10" fill="#fff" stroke="#000" stroke-width="1.2"/><circle cx="247" cy="2428.9" r="10" fill="#fff" stroke="#000" stroke-width="1.2"/><circle cx="256.4" cy="2436" r="10" fill="#fff" stroke="#000" stroke-width="1.2"/><circle cx="266.6" cy="2440" r="10" fill="#fff" stroke="#000" stroke-width="1.2"/><circle cx="274.1" cy="2443" r="10" fill="#fff" stroke="#000" stroke-width="1.2"/><circle cx="281.5" cy="2440" r="10" fill="#fff" stroke="#000" stroke-width="1.2"/><circle cx="290.9" cy="2447.6" r="10" fill="#fff" stroke="#000" stroke-width="1.2"/><circle cx="300.2" cy="2438" r="10" fill="#fff" stroke="#000" stroke-width="1.2"/><circle cx="310.4" cy="2435" r="10" fill="#fff" stroke="#000" stroke-width="1.2"/><circle cx="319.3" cy="2443.8" r="10" fill="#fff" stroke="#000" stroke-width="1.2"/>
<line x1="406.5" y1="2443.1" x2="406.5" y2="2458.1" stroke="#000" stroke-width="1.8"/><line x1="402" y1="2443.1" x2="411" y2="2443.1" stroke="#000" stroke-width="1.8"/><line x1="406.5" y1="2458.1" x2="406.5" y2="2473.1" stroke="#000" stroke-width="1.8"/><line x1="402" y1="2473.1" x2="411" y2="2473.1" stroke="#000" stroke-width="1.8"/><line x1="415.2" y1="2433.2" x2="415.2" y2="2443.2" stroke="#000" stroke-width="1.8"/><line x1="410.7" y1="2433.2" x2="419.7" y2="2433.2" stroke="#000" stroke-width="1.8"/><line x1="415.2" y1="2443.2" x2="415.2" y2="2453.2" stroke="#000" stroke-width="1.8"/><line x1="410.7" y1="2453.2" x2="419.7" y2="2453.2" stroke="#000" stroke-width="1.8"/><line x1="423.9" y1="2435.7" x2="423.9" y2="2445.7" stroke="#000" stroke-width="1.8"/><line x1="419.4" y1="2435.7" x2="428.4" y2="2435.7" stroke="#000" stroke-width="1.8"/><line x1="423.9" y1="2445.7" x2="423.9" y2="2455.7" stroke="#000" stroke-width="1.8"/><line x1="419.4" y1="2455.7" x2="428.4" y2="2455.7" stroke="#000" stroke-width="1.8"/><line x1="432.6" y1="2429.5" x2="432.6" y2="2439.5" stroke="#000" stroke-width="1.8"/><line x1="428.1" y1="2429.5" x2="437.1" y2="2429.5" stroke="#000" stroke-width="1.8"/><line x1="432.6" y1="2439.5" x2="432.6" y2="2449.5" stroke="#000" stroke-width="1.8"/><line x1="428.1" y1="2449.5" x2="437.1" y2="2449.5" stroke="#000" stroke-width="1.8"/><line x1="441.3" y1="2439.4" x2="441.3" y2="2449.4" stroke="#000" stroke-width="1.8"/><line x1="436.8" y1="2439.4" x2="445.8" y2="2439.4" stroke="#000" stroke-width="1.8"/><line x1="441.3" y1="2449.4" x2="441.3" y2="2459.4" stroke="#000" stroke-width="1.8"/><line x1="436.8" y1="2459.4" x2="445.8" y2="2459.4" stroke="#000" stroke-width="1.8"/><line x1="450" y1="2428.2" x2="450" y2="2438.2" stroke="#000" stroke-width="1.8"/><line x1="445.5" y1="2428.2" x2="454.5" y2="2428.2" stroke="#000" stroke-width="1.8"/><line x1="450" y1="2438.2" x2="450" y2="2448.2" stroke="#000" stroke-width="1.8"/><line x1="445.5" y1="2448.2" x2="454.5" y2="2448.2" stroke="#000" stroke-width="1.8"/><line x1="458.7" y1="2438.2" x2="458.7" y2="2448.2" stroke="#000" stroke-width="1.8"/><line x1="454.2" y1="2438.2" x2="463.2" y2="2438.2" stroke="#000" stroke-width="1.8"/><line x1="458.7" y1="2448.2" x2="458.7" y2="2458.2" stroke="#000" stroke-width="1.8"/><line x1="454.2" y1="2458.2" x2="463.2" y2="2458.2" stroke="#000" stroke-width="1.8"/><line x1="467.4" y1="2428.2" x2="467.4" y2="2438.2" stroke="#000" stroke-width="1.8"/><line x1="462.9" y1="2428.2" x2="471.9" y2="2428.2" stroke="#000" stroke-width="1.8"/><line x1="467.4" y1="2438.2" x2="467.4" y2="2448.2" stroke="#000" stroke-width="1.8"/><line x1="462.9" y1="2448.2" x2="471.9" y2="2448.2" stroke="#000" stroke-width="1.8"/><line x1="476.1" y1="2427" x2="476.1" y2="2437" stroke="#000" stroke-width="1.8"/><line x1="471.6" y1="2427" x2="480.6" y2="2427" stroke="#000" stroke-width="1.8"/><line x1="476.1" y1="2437" x2="476.1" y2="2447" stroke="#000" stroke-width="1.8"/><line x1="471.6" y1="2447" x2="480.6" y2="2447" stroke="#000" stroke-width="1.8"/><line x1="484.8" y1="2428.2" x2="484.8" y2="2438.2" stroke="#000" stroke-width="1.8"/><line x1="480.3" y1="2428.2" x2="489.3" y2="2428.2" stroke="#000" stroke-width="1.8"/><line x1="484.8" y1="2438.2" x2="484.8" y2="2448.2" stroke="#000" stroke-width="1.8"/><line x1="480.3" y1="2448.2" x2="489.3" y2="2448.2" stroke="#000" stroke-width="1.8"/><line x1="493.5" y1="2438.2" x2="493.5" y2="2448.2" stroke="#000" stroke-width="1.8"/><line x1="489" y1="2438.2" x2="498" y2="2438.2" stroke="#000" stroke-width="1.8"/><line x1="493.5" y1="2448.2" x2="493.5" y2="2458.2" stroke="#000" stroke-width="1.8"/><line x1="489" y1="2458.2" x2="498" y2="2458.2" stroke="#000" stroke-width="1.8"/><line x1="502.2" y1="2433.2" x2="502.2" y2="2443.2" stroke="#000" stroke-width="1.8"/><line x1="497.7" y1="2433.2" x2="506.7" y2="2433.2" stroke="#000" stroke-width="1.8"/><line x1="502.2" y1="2443.2" x2="502.2" y2="2453.2" stroke="#000" stroke-width="1.8"/><line x1="497.7" y1="2453.2" x2="506.7" y2="2453.2" stroke="#000" stroke-width="1.8"/><line x1="510.9" y1="2430" x2="510.9" y2="2440" stroke="#000" stroke-width="1.8"/><line x1="506.4" y1="2430" x2="515.4" y2="2430" stroke="#000" stroke-width="1.8"/><line x1="510.9" y1="2440" x2="510.9" y2="2450" stroke="#000" stroke-width="1.8"/><line x1="506.4" y1="2450" x2="515.4" y2="2450" stroke="#000" stroke-width="1.8"/><line x1="519.6" y1="2434.4" x2="519.6" y2="2444.4" stroke="#000" stroke-width="1.8"/><line x1="515.1" y1="2434.4" x2="524.1" y2="2434.4" stroke="#000" stroke-width="1.8"/><line x1="519.6" y1="2444.4" x2="519.6" y2="2454.4" stroke="#000" stroke-width="1.8"/><line x1="515.1" y1="2454.4" x2="524.1" y2="2454.4" stroke="#000" stroke-width="1.8"/><line x1="528.3" y1="2439.4" x2="528.3" y2="2449.4" stroke="#000" stroke-width="1.8"/><line x1="523.8" y1="2439.4" x2="532.8" y2="2439.4" stroke="#000" stroke-width="1.8"/><line x1="528.3" y1="2449.4" x2="528.3" y2="2459.4" stroke="#000" stroke-width="1.8"/><line x1="523.8" y1="2459.4" x2="532.8" y2="2459.4" stroke="#000" stroke-width="1.8"/><line x1="537" y1="2430" x2="537" y2="2440" stroke="#000" stroke-width="1.8"/><line x1="532.5" y1="2430" x2="541.5" y2="2430" stroke="#000" stroke-width="1.8"/><line x1="537" y1="2440" x2="537" y2="2450" stroke="#000" stroke-width="1.8"/><line x1="532.5" y1="2450" x2="541.5" y2="2450" stroke="#000" stroke-width="1.8"/><line x1="545.7" y1="2433.5" x2="545.7" y2="2443.5" stroke="#000" stroke-width="1.8"/><line x1="541.2" y1="2433.5" x2="550.2" y2="2433.5" stroke="#000" stroke-width="1.8"/><line x1="545.7" y1="2443.5" x2="545.7" y2="2453.5" stroke="#000" stroke-width="1.8"/><line x1="541.2" y1="2453.5" x2="550.2" y2="2453.5" stroke="#000" stroke-width="1.8"/><line x1="554.4" y1="2430" x2="554.4" y2="2440" stroke="#000" stroke-width="1.8"/><line x1="549.9" y1="2430" x2="558.9" y2="2430" stroke="#000" stroke-width="1.8"/><line x1="554.4" y1="2440" x2="554.4" y2="2450" stroke="#000" stroke-width="1.8"/><line x1="549.9" y1="2450" x2="558.9" y2="2450" stroke="#000" stroke-width="1.8"/><line x1="563.1" y1="2437.7" x2="563.1" y2="2447.7" stroke="#000" stroke-width="1.8"/><line x1="558.6" y1="2437.7" x2="567.6" y2="2437.7" stroke="#000" stroke-width="1.8"/><line x1="563.1" y1="2447.7" x2="563.1" y2="2457.7" stroke="#000" stroke-width="1.8"/><line x1="558.6" y1="2457.7" x2="567.6" y2="2457.7" stroke="#000" stroke-width="1.8"/><line x1="571.8" y1="2428" x2="571.8" y2="2438" stroke="#000" stroke-width="1.8"/><line x1="567.3" y1="2428" x2="576.3" y2="2428" stroke="#000" stroke-width="1.8"/><line x1="571.8" y1="2438" x2="571.8" y2="2448" stroke="#000" stroke-width="1.8"/><line x1="567.3" y1="2448" x2="576.3" y2="2448" stroke="#000" stroke-width="1.8"/><line x1="580.5" y1="2427.9" x2="580.5" y2="2437.9" stroke="#000" stroke-width="1.8"/><line x1="576" y1="2427.9" x2="585" y2="2427.9" stroke="#000" stroke-width="1.8"/><line x1="580.5" y1="2437.9" x2="580.5" y2="2447.9" stroke="#000" stroke-width="1.8"/><line x1="576" y1="2447.9" x2="585" y2="2447.9" stroke="#000" stroke-width="1.8"/><line x1="589.2" y1="2439" x2="589.2" y2="2449" stroke="#000" stroke-width="1.8"/><line x1="584.7" y1="2439" x2="593.7" y2="2439" stroke="#000" stroke-width="1.8"/><line x1="589.2" y1="2449" x2="589.2" y2="2459" stroke="#000" stroke-width="1.8"/><line x1="584.7" y1="2459" x2="593.7" y2="2459" stroke="#000" stroke-width="1.8"/><line x1="597.9" y1="2430.7" x2="597.9" y2="2440.7" stroke="#000" stroke-width="1.8"/><line x1="593.4" y1="2430.7" x2="602.4" y2="2430.7" stroke="#000" stroke-width="1.8"/><line x1="597.9" y1="2440.7" x2="597.9" y2="2450.7" stroke="#000" stroke-width="1.8"/><line x1="593.4" y1="2450.7" x2="602.4" y2="2450.7" stroke="#000" stroke-width="1.8"/><line x1="606.6" y1="2426" x2="606.6" y2="2436" stroke="#000" stroke-width="1.8"/><line x1="602.1" y1="2426" x2="611.1" y2="2426" stroke="#000" stroke-width="1.8"/><line x1="606.6" y1="2436" x2="606.6" y2="2446" stroke="#000" stroke-width="1.8"/><line x1="602.1" y1="2446" x2="611.1" y2="2446" stroke="#000" stroke-width="1.8"/><line x1="615.3" y1="2425.1" x2="615.3" y2="2435.1" stroke="#000" stroke-width="1.8"/><line x1="610.8" y1="2425.1" x2="619.8" y2="2425.1" stroke="#000" stroke-width="1.8"/><line x1="615.3" y1="2435.1" x2="615.3" y2="2445.1" stroke="#000" stroke-width="1.8"/><line x1="610.8" y1="2445.1" x2="619.8" y2="2445.1" stroke="#000" stroke-width="1.8"/><line x1="624" y1="2430" x2="624" y2="2440" stroke="#000" stroke-width="1.8"/><line x1="619.5" y1="2430" x2="628.5" y2="2430" stroke="#000" stroke-width="1.8"/><line x1="624" y1="2440" x2="624" y2="2450" stroke="#000" stroke-width="1.8"/><line x1="619.5" y1="2450" x2="628.5" y2="2450" stroke="#000" stroke-width="1.8"/><line x1="632.7" y1="2436.3" x2="632.7" y2="2446.3" stroke="#000" stroke-width="1.8"/><line x1="628.2" y1="2436.3" x2="637.2" y2="2436.3" stroke="#000" stroke-width="1.8"/><line x1="632.7" y1="2446.3" x2="632.7" y2="2456.3" stroke="#000" stroke-width="1.8"/><line x1="628.2" y1="2456.3" x2="637.2" y2="2456.3" stroke="#000" stroke-width="1.8"/><line x1="641.4" y1="2433.5" x2="641.4" y2="2443.5" stroke="#000" stroke-width="1.8"/><line x1="636.9" y1="2433.5" x2="645.9" y2="2433.5" stroke="#000" stroke-width="1.8"/><line x1="641.4" y1="2443.5" x2="641.4" y2="2453.5" stroke="#000" stroke-width="1.8"/><line x1="636.9" y1="2453.5" x2="645.9" y2="2453.5" stroke="#000" stroke-width="1.8"/><line x1="650.1" y1="2433.5" x2="650.1" y2="2443.5" stroke="#000" stroke-width="1.8"/><line x1="645.6" y1="2433.5" x2="654.6" y2="2433.5" stroke="#000" stroke-width="1.8"/><line x1="650.1" y1="2443.5" x2="650.1" y2="2453.5" stroke="#000" stroke-width="1.8"/><line x1="645.6" y1="2453.5" x2="654.6" y2="2453.5" stroke="#000" stroke-width="1.8"/><line x1="658.8" y1="2432" x2="658.8" y2="2442" stroke="#000" stroke-width="1.8"/><line x1="654.3" y1="2432" x2="663.3" y2="2432" stroke="#000" stroke-width="1.8"/><line x1="658.8" y1="2442" x2="658.8" y2="2452" stroke="#000" stroke-width="1.8"/><line x1="654.3" y1="2452" x2="663.3" y2="2452" stroke="#000" stroke-width="1.8"/><line x1="667.5" y1="2430.7" x2="667.5" y2="2440.7" stroke="#000" stroke-width="1.8"/><line x1="663" y1="2430.7" x2="672" y2="2430.7" stroke="#000" stroke-width="1.8"/><line x1="667.5" y1="2440.7" x2="667.5" y2="2450.7" stroke="#000" stroke-width="1.8"/><line x1="663" y1="2450.7" x2="672" y2="2450.7" stroke="#000" stroke-width="1.8"/><circle cx="406.5" cy="2458.1" r="10" fill="#fff" stroke="#000" stroke-width="1.2"/><circle cx="415.2" cy="2443.2" r="10" fill="#fff" stroke="#000" stroke-width="1.2"/><circle cx="423.9" cy="2445.7" r="10" fill="#fff" stroke="#000" stroke-width="1.2"/><circle cx="432.6" cy="2439.5" r="10" fill="#fff" stroke="#000" stroke-width="1.2"/><circle cx="441.3" cy="2449.4" r="10" fill="#fff" stroke="#000" stroke-width="1.2"/><circle cx="450" cy="2438.2" r="10" fill="#fff" stroke="#000" stroke-width="1.2"/><circle cx="458.7" cy="2448.2" r="10" fill="#fff" stroke="#000" stroke-width="1.2"/><circle cx="467.4" cy="2438.2" r="10" fill="#fff" stroke="#000" stroke-width="1.2"/><circle cx="476.1" cy="2437" r="10" fill="#fff" stroke="#000" stroke-width="1.2"/><circle cx="484.8" cy="2438.2" r="10" fill="#fff" stroke="#000" stroke-width="1.2"/><circle cx="493.5" cy="2448.2" r="10" fill="#fff" stroke="#000" stroke-width="1.2"/><circle cx="502.2" cy="2443.2" r="10" fill="#fff" stroke="#000" stroke-width="1.2"/><circle cx="510.9" cy="2440" r="10" fill="#fff" stroke="#000" stroke-width="1.2"/><circle cx="519.6" cy="2444.4" r="10" fill="#fff" stroke="#000" stroke-width="1.2"/><circle cx="528.3" cy="2449.4" r="10" fill="#fff" stroke="#000" stroke-width="1.2"/><circle cx="537" cy="2440" r="10" fill="#fff" stroke="#000" stroke-width="1.2"/><circle cx="545.7" cy="2443.5" r="10" fill="#fff" stroke="#000" stroke-width="1.2"/><circle cx="554.4" cy="2440" r="10" fill="#fff" stroke="#000" stroke-width="1.2"/><circle cx="563.1" cy="2447.7" r="10" fill="#fff" stroke="#000" stroke-width="1.2"/><circle cx="571.8" cy="2438" r="10" fill="#fff" stroke="#000" stroke-width="1.2"/><circle cx="580.5" cy="2437.9" r="10" fill="#fff" stroke="#000" stroke-width="1.2"/><circle cx="589.2" cy="2449" r="10" fill="#fff" stroke="#000" stroke-width="1.2"/><circle cx="597.9" cy="2440.7" r="10" fill="#fff" stroke="#000" stroke-width="1.2"/><circle cx="606.6" cy="2436" r="10" fill="#fff" stroke="#000" stroke-width="1.2"/><circle cx="615.3" cy="2435.1" r="10" fill="#fff" stroke="#000" stroke-width="1.2"/><circle cx="624" cy="2440" r="10" fill="#fff" stroke="#000" stroke-width="1.2"/><circle cx="632.7" cy="2446.3" r="10" fill="#fff" stroke="#000" stroke-width="1.2"/><circle cx="641.4" cy="2443.5" r="10" fill="#fff" stroke="#000" stroke-width="1.2"/><circle cx="650.1" cy="2443.5" r="10" fill="#fff" stroke="#000" stroke-width="1.2"/><circle cx="658.8" cy="2442" r="10" fill="#fff" stroke="#000" stroke-width="1.2"/><circle cx="667.5" cy="2440.7" r="10" fill="#fff" stroke="#000" stroke-width="1.2"/>
<circle cx="236.8" cy="2439.2" r="10" fill="#ff0000" stroke="#000" stroke-width="1"/><circle cx="247" cy="2440.6" r="10" fill="#ff0000" stroke="#000" stroke-width="1"/><circle cx="256.4" cy="2435" r="10" fill="#ff0000" stroke="#000" stroke-width="1"/><circle cx="266.6" cy="2425.6" r="10" fill="#ff0000" stroke="#000" stroke-width="1"/><circle cx="274.1" cy="2437.3" r="10" fill="#ff0000" stroke="#000" stroke-width="1"/><circle cx="281.5" cy="2439.6" r="10" fill="#ff0000" stroke="#000" stroke-width="1"/><circle cx="290.9" cy="2439.2" r="10" fill="#ff0000" stroke="#000" stroke-width="1"/><circle cx="300.2" cy="2436.8" r="10" fill="#ff0000" stroke="#000" stroke-width="1"/><circle cx="310.4" cy="2425.6" r="10" fill="#ff0000" stroke="#000" stroke-width="1"/><circle cx="319.3" cy="2437.8" r="10" fill="#ff0000" stroke="#000" stroke-width="1"/>
<line x1="406.5" y1="2369" x2="406.5" y2="2396" stroke="#000" stroke-width="1.8"/><line x1="402" y1="2369" x2="411" y2="2369" stroke="#000" stroke-width="1.8"/><line x1="406.5" y1="2396" x2="406.5" y2="2423" stroke="#000" stroke-width="1.8"/><line x1="402" y1="2423" x2="411" y2="2423" stroke="#000" stroke-width="1.8"/><line x1="415.2" y1="2400.6" x2="415.2" y2="2409.6" stroke="#000" stroke-width="1.8"/><line x1="410.7" y1="2400.6" x2="419.7" y2="2400.6" stroke="#000" stroke-width="1.8"/><line x1="415.2" y1="2409.6" x2="415.2" y2="2418.6" stroke="#000" stroke-width="1.8"/><line x1="410.7" y1="2418.6" x2="419.7" y2="2418.6" stroke="#000" stroke-width="1.8"/><line x1="423.9" y1="2390.7" x2="423.9" y2="2399.7" stroke="#000" stroke-width="1.8"/><line x1="419.4" y1="2390.7" x2="428.4" y2="2390.7" stroke="#000" stroke-width="1.8"/><line x1="423.9" y1="2399.7" x2="423.9" y2="2408.7" stroke="#000" stroke-width="1.8"/><line x1="419.4" y1="2408.7" x2="428.4" y2="2408.7" stroke="#000" stroke-width="1.8"/><line x1="432.6" y1="2398.1" x2="432.6" y2="2407.1" stroke="#000" stroke-width="1.8"/><line x1="428.1" y1="2398.1" x2="437.1" y2="2398.1" stroke="#000" stroke-width="1.8"/><line x1="432.6" y1="2407.1" x2="432.6" y2="2416.1" stroke="#000" stroke-width="1.8"/><line x1="428.1" y1="2416.1" x2="437.1" y2="2416.1" stroke="#000" stroke-width="1.8"/><line x1="441.3" y1="2400.6" x2="441.3" y2="2409.6" stroke="#000" stroke-width="1.8"/><line x1="436.8" y1="2400.6" x2="445.8" y2="2400.6" stroke="#000" stroke-width="1.8"/><line x1="441.3" y1="2409.6" x2="441.3" y2="2418.6" stroke="#000" stroke-width="1.8"/><line x1="436.8" y1="2418.6" x2="445.8" y2="2418.6" stroke="#000" stroke-width="1.8"/><line x1="450" y1="2396.9" x2="450" y2="2405.9" stroke="#000" stroke-width="1.8"/><line x1="445.5" y1="2396.9" x2="454.5" y2="2396.9" stroke="#000" stroke-width="1.8"/><line x1="450" y1="2405.9" x2="450" y2="2414.9" stroke="#000" stroke-width="1.8"/><line x1="445.5" y1="2414.9" x2="454.5" y2="2414.9" stroke="#000" stroke-width="1.8"/><line x1="458.7" y1="2404.3" x2="458.7" y2="2413.3" stroke="#000" stroke-width="1.8"/><line x1="454.2" y1="2404.3" x2="463.2" y2="2404.3" stroke="#000" stroke-width="1.8"/><line x1="458.7" y1="2413.3" x2="458.7" y2="2422.3" stroke="#000" stroke-width="1.8"/><line x1="454.2" y1="2422.3" x2="463.2" y2="2422.3" stroke="#000" stroke-width="1.8"/><line x1="467.4" y1="2409.3" x2="467.4" y2="2418.3" stroke="#000" stroke-width="1.8"/><line x1="462.9" y1="2409.3" x2="471.9" y2="2409.3" stroke="#000" stroke-width="1.8"/><line x1="467.4" y1="2418.3" x2="467.4" y2="2427.3" stroke="#000" stroke-width="1.8"/><line x1="462.9" y1="2427.3" x2="471.9" y2="2427.3" stroke="#000" stroke-width="1.8"/><line x1="476.1" y1="2400.6" x2="476.1" y2="2409.6" stroke="#000" stroke-width="1.8"/><line x1="471.6" y1="2400.6" x2="480.6" y2="2400.6" stroke="#000" stroke-width="1.8"/><line x1="476.1" y1="2409.6" x2="476.1" y2="2418.6" stroke="#000" stroke-width="1.8"/><line x1="471.6" y1="2418.6" x2="480.6" y2="2418.6" stroke="#000" stroke-width="1.8"/><line x1="484.8" y1="2410.6" x2="484.8" y2="2419.6" stroke="#000" stroke-width="1.8"/><line x1="480.3" y1="2410.6" x2="489.3" y2="2410.6" stroke="#000" stroke-width="1.8"/><line x1="484.8" y1="2419.6" x2="484.8" y2="2428.6" stroke="#000" stroke-width="1.8"/><line x1="480.3" y1="2428.6" x2="489.3" y2="2428.6" stroke="#000" stroke-width="1.8"/><line x1="493.5" y1="2415.5" x2="493.5" y2="2424.5" stroke="#000" stroke-width="1.8"/><line x1="489" y1="2415.5" x2="498" y2="2415.5" stroke="#000" stroke-width="1.8"/><line x1="493.5" y1="2424.5" x2="493.5" y2="2433.5" stroke="#000" stroke-width="1.8"/><line x1="489" y1="2433.5" x2="498" y2="2433.5" stroke="#000" stroke-width="1.8"/><line x1="502.2" y1="2423" x2="502.2" y2="2432" stroke="#000" stroke-width="1.8"/><line x1="497.7" y1="2423" x2="506.7" y2="2423" stroke="#000" stroke-width="1.8"/><line x1="502.2" y1="2432" x2="502.2" y2="2441" stroke="#000" stroke-width="1.8"/><line x1="497.7" y1="2441" x2="506.7" y2="2441" stroke="#000" stroke-width="1.8"/><line x1="510.9" y1="2415.5" x2="510.9" y2="2424.5" stroke="#000" stroke-width="1.8"/><line x1="506.4" y1="2415.5" x2="515.4" y2="2415.5" stroke="#000" stroke-width="1.8"/><line x1="510.9" y1="2424.5" x2="510.9" y2="2433.5" stroke="#000" stroke-width="1.8"/><line x1="506.4" y1="2433.5" x2="515.4" y2="2433.5" stroke="#000" stroke-width="1.8"/><line x1="519.6" y1="2420.5" x2="519.6" y2="2429.5" stroke="#000" stroke-width="1.8"/><line x1="515.1" y1="2420.5" x2="524.1" y2="2420.5" stroke="#000" stroke-width="1.8"/><line x1="519.6" y1="2429.5" x2="519.6" y2="2438.5" stroke="#000" stroke-width="1.8"/><line x1="515.1" y1="2438.5" x2="524.1" y2="2438.5" stroke="#000" stroke-width="1.8"/><line x1="528.3" y1="2404.3" x2="528.3" y2="2413.3" stroke="#000" stroke-width="1.8"/><line x1="523.8" y1="2404.3" x2="532.8" y2="2404.3" stroke="#000" stroke-width="1.8"/><line x1="528.3" y1="2413.3" x2="528.3" y2="2422.3" stroke="#000" stroke-width="1.8"/><line x1="523.8" y1="2422.3" x2="532.8" y2="2422.3" stroke="#000" stroke-width="1.8"/><line x1="537" y1="2416.8" x2="537" y2="2425.8" stroke="#000" stroke-width="1.8"/><line x1="532.5" y1="2416.8" x2="541.5" y2="2416.8" stroke="#000" stroke-width="1.8"/><line x1="537" y1="2425.8" x2="537" y2="2434.8" stroke="#000" stroke-width="1.8"/><line x1="532.5" y1="2434.8" x2="541.5" y2="2434.8" stroke="#000" stroke-width="1.8"/><line x1="545.7" y1="2415.5" x2="545.7" y2="2424.5" stroke="#000" stroke-width="1.8"/><line x1="541.2" y1="2415.5" x2="550.2" y2="2415.5" stroke="#000" stroke-width="1.8"/><line x1="545.7" y1="2424.5" x2="545.7" y2="2433.5" stroke="#000" stroke-width="1.8"/><line x1="541.2" y1="2433.5" x2="550.2" y2="2433.5" stroke="#000" stroke-width="1.8"/><line x1="554.4" y1="2417.7" x2="554.4" y2="2426.7" stroke="#000" stroke-width="1.8"/><line x1="549.9" y1="2417.7" x2="558.9" y2="2417.7" stroke="#000" stroke-width="1.8"/><line x1="554.4" y1="2426.7" x2="554.4" y2="2435.7" stroke="#000" stroke-width="1.8"/><line x1="549.9" y1="2435.7" x2="558.9" y2="2435.7" stroke="#000" stroke-width="1.8"/><line x1="563.1" y1="2414.9" x2="563.1" y2="2423.9" stroke="#000" stroke-width="1.8"/><line x1="558.6" y1="2414.9" x2="567.6" y2="2414.9" stroke="#000" stroke-width="1.8"/><line x1="563.1" y1="2423.9" x2="563.1" y2="2432.9" stroke="#000" stroke-width="1.8"/><line x1="558.6" y1="2432.9" x2="567.6" y2="2432.9" stroke="#000" stroke-width="1.8"/><line x1="571.8" y1="2405.1" x2="571.8" y2="2414.1" stroke="#000" stroke-width="1.8"/><line x1="567.3" y1="2405.1" x2="576.3" y2="2405.1" stroke="#000" stroke-width="1.8"/><line x1="571.8" y1="2414.1" x2="571.8" y2="2423.1" stroke="#000" stroke-width="1.8"/><line x1="567.3" y1="2423.1" x2="576.3" y2="2423.1" stroke="#000" stroke-width="1.8"/><line x1="580.5" y1="2413.5" x2="580.5" y2="2422.5" stroke="#000" stroke-width="1.8"/><line x1="576" y1="2413.5" x2="585" y2="2413.5" stroke="#000" stroke-width="1.8"/><line x1="580.5" y1="2422.5" x2="580.5" y2="2431.5" stroke="#000" stroke-width="1.8"/><line x1="576" y1="2431.5" x2="585" y2="2431.5" stroke="#000" stroke-width="1.8"/><line x1="589.2" y1="2407.9" x2="589.2" y2="2416.9" stroke="#000" stroke-width="1.8"/><line x1="584.7" y1="2407.9" x2="593.7" y2="2407.9" stroke="#000" stroke-width="1.8"/><line x1="589.2" y1="2416.9" x2="589.2" y2="2425.9" stroke="#000" stroke-width="1.8"/><line x1="584.7" y1="2425.9" x2="593.7" y2="2425.9" stroke="#000" stroke-width="1.8"/><line x1="597.9" y1="2405.1" x2="597.9" y2="2414.1" stroke="#000" stroke-width="1.8"/><line x1="593.4" y1="2405.1" x2="602.4" y2="2405.1" stroke="#000" stroke-width="1.8"/><line x1="597.9" y1="2414.1" x2="597.9" y2="2423.1" stroke="#000" stroke-width="1.8"/><line x1="593.4" y1="2423.1" x2="602.4" y2="2423.1" stroke="#000" stroke-width="1.8"/><line x1="606.6" y1="2410.7" x2="606.6" y2="2419.7" stroke="#000" stroke-width="1.8"/><line x1="602.1" y1="2410.7" x2="611.1" y2="2410.7" stroke="#000" stroke-width="1.8"/><line x1="606.6" y1="2419.7" x2="606.6" y2="2428.7" stroke="#000" stroke-width="1.8"/><line x1="602.1" y1="2428.7" x2="611.1" y2="2428.7" stroke="#000" stroke-width="1.8"/><line x1="615.3" y1="2409.3" x2="615.3" y2="2418.3" stroke="#000" stroke-width="1.8"/><line x1="610.8" y1="2409.3" x2="619.8" y2="2409.3" stroke="#000" stroke-width="1.8"/><line x1="615.3" y1="2418.3" x2="615.3" y2="2427.3" stroke="#000" stroke-width="1.8"/><line x1="610.8" y1="2427.3" x2="619.8" y2="2427.3" stroke="#000" stroke-width="1.8"/><line x1="624" y1="2421.9" x2="624" y2="2430.9" stroke="#000" stroke-width="1.8"/><line x1="619.5" y1="2421.9" x2="628.5" y2="2421.9" stroke="#000" stroke-width="1.8"/><line x1="624" y1="2430.9" x2="624" y2="2439.9" stroke="#000" stroke-width="1.8"/><line x1="619.5" y1="2439.9" x2="628.5" y2="2439.9" stroke="#000" stroke-width="1.8"/><line x1="632.7" y1="2420.5" x2="632.7" y2="2429.5" stroke="#000" stroke-width="1.8"/><line x1="628.2" y1="2420.5" x2="637.2" y2="2420.5" stroke="#000" stroke-width="1.8"/><line x1="632.7" y1="2429.5" x2="632.7" y2="2438.5" stroke="#000" stroke-width="1.8"/><line x1="628.2" y1="2438.5" x2="637.2" y2="2438.5" stroke="#000" stroke-width="1.8"/><line x1="641.4" y1="2412.1" x2="641.4" y2="2421.1" stroke="#000" stroke-width="1.8"/><line x1="636.9" y1="2412.1" x2="645.9" y2="2412.1" stroke="#000" stroke-width="1.8"/><line x1="641.4" y1="2421.1" x2="641.4" y2="2430.1" stroke="#000" stroke-width="1.8"/><line x1="636.9" y1="2430.1" x2="645.9" y2="2430.1" stroke="#000" stroke-width="1.8"/><line x1="650.1" y1="2417.7" x2="650.1" y2="2426.7" stroke="#000" stroke-width="1.8"/><line x1="645.6" y1="2417.7" x2="654.6" y2="2417.7" stroke="#000" stroke-width="1.8"/><line x1="650.1" y1="2426.7" x2="650.1" y2="2435.7" stroke="#000" stroke-width="1.8"/><line x1="645.6" y1="2435.7" x2="654.6" y2="2435.7" stroke="#000" stroke-width="1.8"/><line x1="658.8" y1="2409.3" x2="658.8" y2="2418.3" stroke="#000" stroke-width="1.8"/><line x1="654.3" y1="2409.3" x2="663.3" y2="2409.3" stroke="#000" stroke-width="1.8"/><line x1="658.8" y1="2418.3" x2="658.8" y2="2427.3" stroke="#000" stroke-width="1.8"/><line x1="654.3" y1="2427.3" x2="663.3" y2="2427.3" stroke="#000" stroke-width="1.8"/><line x1="667.5" y1="2426.1" x2="667.5" y2="2435.1" stroke="#000" stroke-width="1.8"/><line x1="663" y1="2426.1" x2="672" y2="2426.1" stroke="#000" stroke-width="1.8"/><line x1="667.5" y1="2435.1" x2="667.5" y2="2444.1" stroke="#000" stroke-width="1.8"/><line x1="663" y1="2444.1" x2="672" y2="2444.1" stroke="#000" stroke-width="1.8"/><circle cx="406.5" cy="2396" r="10" fill="#ff0000" stroke="#000" stroke-width="1"/><circle cx="415.2" cy="2409.6" r="10" fill="#ff0000" stroke="#000" stroke-width="1"/><circle cx="423.9" cy="2399.7" r="10" fill="#ff0000" stroke="#000" stroke-width="1"/><circle cx="432.6" cy="2407.1" r="10" fill="#ff0000" stroke="#000" stroke-width="1"/><circle cx="441.3" cy="2409.6" r="10" fill="#ff0000" stroke="#000" stroke-width="1"/><circle cx="450" cy="2405.9" r="10" fill="#ff0000" stroke="#000" stroke-width="1"/><circle cx="458.7" cy="2413.3" r="10" fill="#ff0000" stroke="#000" stroke-width="1"/><circle cx="467.4" cy="2418.3" r="10" fill="#ff0000" stroke="#000" stroke-width="1"/><circle cx="476.1" cy="2409.6" r="10" fill="#ff0000" stroke="#000" stroke-width="1"/><circle cx="484.8" cy="2419.6" r="10" fill="#ff0000" stroke="#000" stroke-width="1"/><circle cx="493.5" cy="2424.5" r="10" fill="#ff0000" stroke="#000" stroke-width="1"/><circle cx="502.2" cy="2432" r="10" fill="#ff0000" stroke="#000" stroke-width="1"/><circle cx="510.9" cy="2424.5" r="10" fill="#ff0000" stroke="#000" stroke-width="1"/><circle cx="519.6" cy="2429.5" r="10" fill="#ff0000" stroke="#000" stroke-width="1"/><circle cx="528.3" cy="2413.3" r="10" fill="#ff0000" stroke="#000" stroke-width="1"/><circle cx="537" cy="2425.8" r="10" fill="#ff0000" stroke="#000" stroke-width="1"/><circle cx="545.7" cy="2424.5" r="10" fill="#ff0000" stroke="#000" stroke-width="1"/><circle cx="554.4" cy="2426.7" r="10" fill="#ff0000" stroke="#000" stroke-width="1"/><circle cx="563.1" cy="2423.9" r="10" fill="#ff0000" stroke="#000" stroke-width="1"/><circle cx="571.8" cy="2414.1" r="10" fill="#ff0000" stroke="#000" stroke-width="1"/><circle cx="580.5" cy="2422.5" r="10" fill="#ff0000" stroke="#000" stroke-width="1"/><circle cx="589.2" cy="2416.9" r="10" fill="#ff0000" stroke="#000" stroke-width="1"/><circle cx="597.9" cy="2414.1" r="10" fill="#ff0000" stroke="#000" stroke-width="1"/><circle cx="606.6" cy="2419.7" r="10" fill="#ff0000" stroke="#000" stroke-width="1"/><circle cx="615.3" cy="2418.3" r="10" fill="#ff0000" stroke="#000" stroke-width="1"/><circle cx="624" cy="2430.9" r="10" fill="#ff0000" stroke="#000" stroke-width="1"/><circle cx="632.7" cy="2429.5" r="10" fill="#ff0000" stroke="#000" stroke-width="1"/><circle cx="641.4" cy="2421.1" r="10" fill="#ff0000" stroke="#000" stroke-width="1"/><circle cx="650.1" cy="2426.7" r="10" fill="#ff0000" stroke="#000" stroke-width="1"/><circle cx="658.8" cy="2418.3" r="10" fill="#ff0000" stroke="#000" stroke-width="1"/><circle cx="667.5" cy="2435.1" r="10" fill="#ff0000" stroke="#000" stroke-width="1"/>
<line x1="240.6" y1="2291.9" x2="240.6" y2="2534.25" stroke="#000" stroke-width="3.7"/><line x1="225" y1="2340.6" x2="240.6" y2="2340.6" stroke="#000" stroke-width="3.7"/><g transform="translate(197 2354.91)"><text x="-68.01" y="0" font-size="45" fill="#000" textLength="69.83" lengthAdjust="spacingAndGlyphs">200</text></g><line x1="225" y1="2436.5" x2="240.6" y2="2436.5" stroke="#000" stroke-width="3.7"/><g transform="translate(197 2450.81)"><text x="-68.01" y="0" font-size="45" fill="#000" textLength="69.83" lengthAdjust="spacingAndGlyphs">100</text><rect x="-65.91" y="-4.58" width="8.33" height="5.78" fill="#fff"/><rect x="-53.74" y="-4.58" width="7.91" height="5.78" fill="#fff"/></g><line x1="225" y1="2532.4" x2="240.6" y2="2532.4" stroke="#000" stroke-width="3.7"/><g transform="translate(197 2546.71)"><text x="-21.55" y="0" font-size="45" fill="#000" textLength="23.28" lengthAdjust="spacingAndGlyphs">0</text></g><line x1="225" y1="2532.4" x2="677" y2="2532.4" stroke="#000" stroke-width="3.7"/><line x1="240.6" y1="2532.4" x2="240.6" y2="2541.9" stroke="#000" stroke-width="3.7"/><g transform="translate(240.6 2605)"><text x="-11.61" y="0" font-size="45" fill="#000" textLength="23.28" lengthAdjust="spacingAndGlyphs">0</text></g><line x1="327.86" y1="2532.4" x2="327.86" y2="2541.9" stroke="#000" stroke-width="3.7"/><g transform="translate(327.86 2605)"><text x="-23.96" y="0" font-size="45" fill="#000" textLength="46.55" lengthAdjust="spacingAndGlyphs">10</text><rect x="-21.87" y="-4.58" width="8.33" height="5.78" fill="#fff"/><rect x="-9.69" y="-4.58" width="7.91" height="5.78" fill="#fff"/></g><line x1="415.12" y1="2532.4" x2="415.12" y2="2541.9" stroke="#000" stroke-width="3.7"/><g transform="translate(415.12 2605)"><text x="-23.44" y="0" font-size="45" fill="#000" textLength="46.55" lengthAdjust="spacingAndGlyphs">20</text></g><line x1="502.38" y1="2532.4" x2="502.38" y2="2541.9" stroke="#000" stroke-width="3.7"/><g transform="translate(502.38 2605)"><text x="-23.23" y="0" font-size="45" fill="#000" textLength="46.55" lengthAdjust="spacingAndGlyphs">30</text></g><line x1="589.64" y1="2532.4" x2="589.64" y2="2541.9" stroke="#000" stroke-width="3.7"/><g transform="translate(589.64 2605)"><text x="-22.91" y="0" font-size="45" fill="#000" textLength="46.55" lengthAdjust="spacingAndGlyphs">40</text></g><line x1="676.9" y1="2532.4" x2="676.9" y2="2541.9" stroke="#000" stroke-width="3.7"/><g transform="translate(676.9 2605)"><text x="-23.23" y="0" font-size="45" fill="#000" textLength="46.55" lengthAdjust="spacingAndGlyphs">50</text></g>
<g transform="translate(452 2689)"><text x="-1.3" y="0" font-size="51.5" fill="#000" textLength="246.4" lengthAdjust="spacingAndGlyphs">Time (min)</text></g>
<g transform="translate(82.2 2694.8) rotate(-90)"><text x="-4.06" y="0" font-size="52" fill="#000" textLength="465.17" lengthAdjust="spacingAndGlyphs">EPSC amplitude (%)</text></g>
<g transform="translate(698.1 2381)"><text x="-2.17" y="0" font-size="36.5" fill="#000" textLength="44.22" lengthAdjust="spacingAndGlyphs">(1)</text><rect x="11.69" y="-3.94" width="7.2" height="5.14" fill="#fff"/><rect x="22.22" y="-3.94" width="6.84" height="5.14" fill="#fff"/></g>
<g transform="translate(698.1 2431.9)"><text x="-2.17" y="0" font-size="36.5" fill="#a6a6a6" textLength="44.22" lengthAdjust="spacingAndGlyphs">(2)</text></g>
<g transform="translate(698.1 2475)"><text x="-2.17" y="0" font-size="36.5" fill="#e00000" textLength="44.22" lengthAdjust="spacingAndGlyphs">(3)</text></g>
<g transform="translate(739.4 2185.9)"><text x="-4.24" y="0" font-size="59.7" fill="#000" textLength="38.3" lengthAdjust="spacingAndGlyphs" stroke="#000" stroke-width="0.6">H</text></g>
<line x1="1018.6" y1="2412.5" x2="1320" y2="2412.5" stroke="#000" stroke-width="2.3" stroke-dasharray="33 16" stroke-dashoffset="-4.4"/>
<rect x="1038.4" y="2315.9" width="62.2" height="222" fill="#000"/>
<rect x="1138.7" y="2420.8" width="61" height="117.3" fill="#fff" stroke="#000" stroke-width="2.4"/>
<rect x="1240.5" y="2403.7" width="60" height="134.4" fill="#ff0000" stroke="#000" stroke-width="2.4"/>
<circle cx="1069.5" cy="2269.8" r="8.3" fill="none" stroke="#a5443c" stroke-width="1.8"/>
<circle cx="1069.5" cy="2292.5" r="8.3" fill="none" stroke="#a5443c" stroke-width="1.8"/>
<circle cx="1069.5" cy="2300.7" r="8.3" fill="none" stroke="#a5443c" stroke-width="1.8"/>
<circle cx="1171" cy="2337" r="8.3" fill="none" stroke="#a5443c" stroke-width="1.8"/>
<circle cx="1171" cy="2408" r="8.3" fill="none" stroke="#a5443c" stroke-width="1.8"/>
<circle cx="1171" cy="2415" r="8.3" fill="none" stroke="#a5443c" stroke-width="1.8"/>
<circle cx="1171" cy="2421" r="8.3" fill="none" stroke="#a5443c" stroke-width="1.8"/>
<circle cx="1171" cy="2442" r="8.3" fill="none" stroke="#a5443c" stroke-width="1.8"/>
<circle cx="1171" cy="2479" r="8.3" fill="none" stroke="#a5443c" stroke-width="1.8"/>
<circle cx="1272.8" cy="2376.7" r="8.3" fill="none" stroke="#a5443c" stroke-width="1.8"/>
<circle cx="1272.8" cy="2387.1" r="8.3" fill="none" stroke="#a5443c" stroke-width="1.8"/>
<circle cx="1272.8" cy="2391.8" r="8.3" fill="none" stroke="#a5443c" stroke-width="1.8"/>
<circle cx="1272.8" cy="2396.5" r="8.3" fill="none" stroke="#a5443c" stroke-width="1.8"/>
<circle cx="1272.8" cy="2410.4" r="8.3" fill="none" stroke="#a5443c" stroke-width="1.8"/>
<circle cx="1272.8" cy="2440.7" r="8.3" fill="none" stroke="#a5443c" stroke-width="1.8"/>
<line x1="1069" y1="2292.7" x2="1069" y2="2315.9" stroke="#000" stroke-width="4.2"/><line x1="1059.5" y1="2292.7" x2="1078.5" y2="2292.7" stroke="#000" stroke-width="4.2"/>
<line x1="1170.4" y1="2401" x2="1170.4" y2="2420.3" stroke="#000" stroke-width="4.2"/><line x1="1160.9" y1="2401" x2="1179.9" y2="2401" stroke="#000" stroke-width="4.2"/><line x1="1170.4" y1="2420.3" x2="1170.4" y2="2439.6" stroke="#000" stroke-width="4.2"/><line x1="1160.9" y1="2439.6" x2="1179.9" y2="2439.6" stroke="#000" stroke-width="4.2"/>
<line x1="1271.4" y1="2394.1" x2="1271.4" y2="2402.9" stroke="#000" stroke-width="4.2"/><line x1="1261.9" y1="2394.1" x2="1280.9" y2="2394.1" stroke="#000" stroke-width="4.2"/><line x1="1271.4" y1="2402.9" x2="1271.4" y2="2411.6" stroke="#000" stroke-width="4.2"/><line x1="1261.9" y1="2411.6" x2="1280.9" y2="2411.6" stroke="#000" stroke-width="4.2"/>
<line x1="1018.6" y1="2225.3" x2="1018.6" y2="2539.75" stroke="#000" stroke-width="3.5"/><line x1="1002.6" y1="2287.6" x2="1018.6" y2="2287.6" stroke="#000" stroke-width="3.5"/><g transform="translate(976.5 2301.91)"><text x="-68.01" y="0" font-size="45" fill="#000" textLength="69.83" lengthAdjust="spacingAndGlyphs">200</text></g><line x1="1002.6" y1="2412.8" x2="1018.6" y2="2412.8" stroke="#000" stroke-width="3.5"/><g transform="translate(976.5 2427.11)"><text x="-68.01" y="0" font-size="45" fill="#000" textLength="69.83" lengthAdjust="spacingAndGlyphs">100</text><rect x="-65.91" y="-4.58" width="8.33" height="5.78" fill="#fff"/><rect x="-53.74" y="-4.58" width="7.91" height="5.78" fill="#fff"/></g><line x1="1002.6" y1="2538" x2="1018.6" y2="2538" stroke="#000" stroke-width="3.5"/><g transform="translate(976.5 2552.31)"><text x="-21.55" y="0" font-size="45" fill="#000" textLength="23.28" lengthAdjust="spacingAndGlyphs">0</text></g><line x1="1002.6" y1="2538" x2="1320.4" y2="2538" stroke="#000" stroke-width="3.5"/>
<path d="M1072.8 2254.9 H1272.3 V2298.8" fill="none" stroke="#4472c4" stroke-width="1.6"/>
<line x1="1169.9" y1="2255.5" x2="1169.9" y2="2298.8" stroke="#000" stroke-width="1.6"/>
<g transform="translate(1153.3 2245.1)"><text x="-0.16" y="0" font-size="32" fill="#000" textLength="34.58" lengthAdjust="spacingAndGlyphs">##</text></g>
<g transform="translate(1266.5 2245.1)"><text x="-0.16" y="0" font-size="32" fill="#000">#</text></g>
<g transform="translate(803.4 2476.8) rotate(-90)"><text x="-3.98" y="0" font-size="52" fill="#000" textLength="135.64" lengthAdjust="spacingAndGlyphs">EPSC</text></g>
<g transform="translate(861.5 2561.5) rotate(-90)"><text x="-2.29" y="0" font-size="51.5" fill="#000" textLength="314.26" lengthAdjust="spacingAndGlyphs">amplitude (%)</text></g>
<g transform="translate(1091 2563) rotate(-45)"><text x="-126.2" y="0" font-size="40" fill="#000">Control</text></g>
<g transform="translate(1094.1 2662.5) rotate(-45)"><text x="-1.82" y="0" font-size="40.5" fill="#000">aBAPTA</text></g>
<g transform="translate(1214.4 2655.7) rotate(-45)"><text x="-3.65" y="0" font-size="40.5" fill="#000">IP3R2</text></g>
<g transform="translate(1279 2567) rotate(-45)"><text x="-0.99" y="0" font-size="22" fill="#000">-/-</text></g>
</svg></body></html>
